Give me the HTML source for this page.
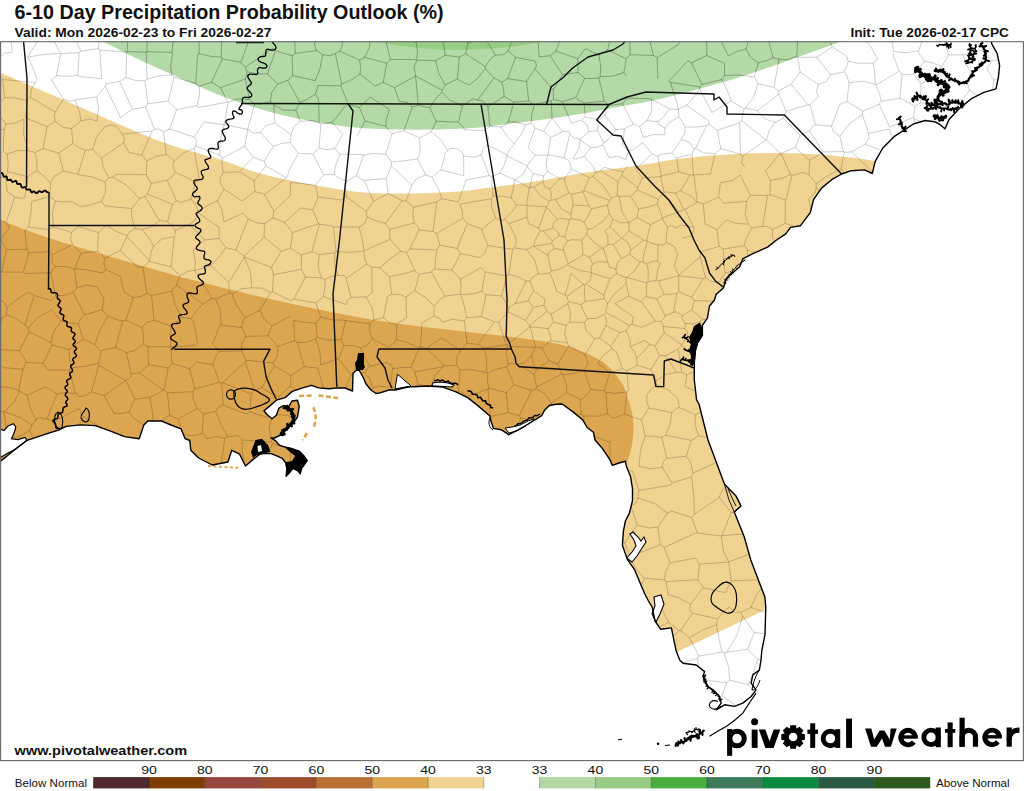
<!DOCTYPE html>
<html><head><meta charset="utf-8"><style>
html,body{margin:0;padding:0;background:#fff;}
body{width:1024px;height:791px;overflow:hidden;position:relative;}
svg{position:absolute;left:0;top:0;}
text{font-family:"Liberation Sans",sans-serif;fill:#111;}
</style></head><body>
<svg width="1024" height="791" viewBox="0 0 1024 791">
<defs><path id="cty" d="M-17.0,36.7 L-9.0,43.7 L-4.9,55.1 M-12.7,24.1 L-14.4,29.8 L-17.0,36.7 M1007.4,29.4 L1023.4,27.5 L1036.2,26.2 M-21.9,454.1 L-19.2,457.4 L-17.6,461.6 M-17.6,461.6 L-27.9,488.2 M-21.9,454.1 L-17.7,437.6 M-18.7,436.0 L-17.7,437.6 M-18.7,436.0 L-16.3,432.7 L-17.9,424.4 M-20.4,510.6 L-18.6,496.0 M-27.9,488.2 L-21.3,492.0 L-18.6,496.0 M51.4,785.1 L28.6,779.4 M11.5,732.6 L12.7,709.7 M11.5,732.6 L16.2,732.3 L25.7,735.7 M25.7,735.7 L32.9,728.6 L40.2,722.8 M40.2,722.8 L20.0,707.2 M20.0,707.2 L12.7,709.7 M-18.5,711.2 L-6.9,709.5 L3.5,705.0 M-18.5,711.2 L-18.5,711.2 M3.5,705.0 L12.7,709.7 M-18.5,711.2 L-19.8,723.9 M8.6,735.6 L-4.9,730.7 L-19.8,723.9 M8.6,735.6 L11.5,732.6 M-18.5,711.2 L-20.1,696.2 L-26.2,682.4 M1.7,688.0 L3.5,705.0 M1.7,688.0 L-18.3,676.7 M-26.2,682.4 L-18.3,676.7 M-23.6,730.1 L-19.8,723.9 M-11.4,588.1 L-13.2,598.6 L-13.4,613.9 M-16.0,615.6 L-13.4,613.9 M-10.6,556.9 L-24.9,582.6 M-10.6,556.9 L-16.2,545.0 M-16.2,545.0 L-17.6,545.1 M1031.3,107.3 L1059.4,102.1 M1031.3,107.3 L1031.7,116.2 L1031.3,122.3 M1059.4,102.1 L1053.0,128.9 M1053.0,128.9 L1040.9,125.4 L1031.3,122.3 M1036.2,26.2 L1040.1,32.7 M38.2,27.0 L12.8,32.8 M9.9,27.2 L12.8,32.8 M-12.7,24.1 L9.9,27.2 M-17.0,253.7 L-11.7,242.3 M-23.6,224.3 L-18.6,231.6 L-11.7,242.3 M-26.7,134.7 L-24.6,129.4 M-23.2,109.2 L-24.6,129.4 M-23.6,224.3 L-11.5,214.2 M-11.5,214.2 L-10.2,209.0 L-11.5,201.3 M-11.5,201.3 L-13.5,199.6 M-4.9,55.1 L-4.4,55.5 M12.8,32.8 L11.2,40.4 L12.2,52.2 M12.2,52.2 L4.4,53.2 L0.1,57.3 M-4.4,55.5 L0.1,57.3 M104.2,395.6 L114.3,413.6 M104.2,395.6 L125.6,380.5 M114.3,413.6 L119.4,413.7 L129.3,412.1 M129.3,412.1 L132.2,404.4 L135.0,399.2 M135.0,399.2 L125.9,380.5 M125.9,380.5 L125.6,380.5 M139.5,372.9 L163.2,390.1 M139.5,372.9 L131.1,373.9 M163.2,390.1 L158.5,393.1 L149.9,397.5 M149.9,397.5 L135.0,399.2 M125.9,380.5 L130.5,377.2 L131.1,373.9 M91.4,391.8 L104.2,395.6 M91.4,391.8 L98.8,365.3 M125.6,380.5 L98.8,365.3 M-17.7,437.6 L6.7,439.2 M-0.5,469.1 L9.7,454.7 M6.7,439.2 L9.7,454.7 M-17.9,424.4 L-12.4,410.2 M-12.4,410.2 L-20.1,391.6 M1.7,688.0 L12.4,677.0 M20.0,707.2 L27.6,697.7 M12.4,677.0 L30.2,679.9 M27.6,697.7 L30.2,679.9 M-23.6,730.1 L-22.8,746.3 M51.4,785.1 L59.5,769.6 M51.1,753.2 L43.8,754.0 M28.6,779.4 L25.8,772.3 M25.8,772.3 L43.8,754.0 M56.7,737.8 L43.3,722.9 M43.3,722.9 L40.2,722.8 M25.7,735.7 L28.5,743.0 L33.0,747.9 M43.8,754.0 L33.0,747.9 M2.3,770.7 L-16.2,780.2 M-21.3,748.0 L-25.5,773.4 M-21.3,748.0 L3.1,753.0 M6.7,764.4 L5.8,758.4 M-16.2,780.2 L-25.5,773.4 M3.1,753.0 L5.8,758.4 M25.8,772.3 L18.6,770.6 L6.7,764.4 M-22.8,746.3 L-21.3,748.0 M8.6,735.6 L6.4,741.8 L3.1,753.0 M33.0,747.9 L5.8,758.4 M-10.6,556.9 L1.3,564.4 M-11.4,588.1 L3.4,584.8 M1.3,564.4 L-0.0,575.3 L3.4,584.8 M6.4,618.1 L-4.1,618.1 L-13.4,613.9 M6.4,618.1 L10.2,613.5 M10.2,613.5 L9.1,587.1 M3.4,584.8 L9.1,587.1 M-20.4,510.6 L-19.8,511.3 M-16.2,545.0 L-11.7,540.2 M-11.7,540.2 L-17.9,525.1 L-19.8,511.3 M-11.7,540.2 L7.5,534.7 M-19.8,511.3 L-4.1,513.6 L9.7,520.5 M7.5,534.7 L9.7,520.5 M128.9,533.8 L124.1,530.4 M128.9,533.8 L134.8,531.2 L144.0,532.0 M123.4,511.7 L124.1,530.4 M123.4,511.7 L129.2,501.8 M144.0,532.0 L145.0,523.8 L146.8,512.2 M129.2,501.8 L146.8,512.2 M54.1,480.2 L54.3,477.9 M54.1,480.2 L37.5,480.1 L25.5,481.4 M25.5,481.4 L25.2,461.7 M28.5,459.1 L51.9,467.8 M51.9,467.8 L54.3,477.9 M36.0,443.7 L28.5,459.1 M36.0,443.7 L53.2,450.9 M51.9,467.8 L52.7,461.8 L53.2,450.9 M-11.3,657.2 L-16.3,654.0 M-11.3,657.2 L-7.7,655.5 L-3.4,654.7 M-16.3,654.0 L-26.9,629.3 M-3.4,654.7 L-2.1,646.8 L0.6,639.1 M0.6,639.1 L-20.9,624.4 M-20.9,624.4 L-26.9,629.3 M-18.3,676.7 L-11.3,657.2 M2.3,657.3 L12.4,677.0 M2.3,657.3 L-3.4,654.7 M7.9,629.5 L6.4,618.1 M7.9,629.5 L0.6,639.1 M-16.0,615.6 L-17.3,617.9 L-20.9,624.4 M7.9,629.5 L17.2,634.9 L27.1,637.3 M2.3,657.3 L23.5,652.7 M31.6,678.7 L30.2,679.9 M31.6,678.7 L31.7,671.9 L32.5,662.3 M23.5,652.7 L26.2,656.7 L32.5,662.3 M929.7,170.2 L935.4,157.6 M929.7,170.2 L932.7,179.0 M935.4,157.6 L950.9,156.6 M950.9,156.6 L961.9,174.8 M932.7,179.0 L959.3,187.1 M961.9,174.8 L959.3,187.1 M1056.7,133.3 L1057.4,144.4 L1053.2,152.8 M1056.7,133.3 L1053.0,128.9 M1029.9,123.4 L1029.3,135.6 L1023.9,151.7 M1053.2,152.8 L1023.9,151.7 M848.2,61.5 L858.5,63.2 L873.2,63.2 M848.2,61.5 L846.7,66.6 L844.1,71.9 M844.1,71.9 L846.9,75.8 L849.0,82.6 M849.0,82.6 L862.9,81.2 L875.3,84.3 M873.2,63.2 L874.8,74.3 L875.3,84.3 M1031.3,107.3 L1028.6,101.8 M1003.2,123.2 L1029.9,123.4 M1003.2,123.2 L1000.0,102.8 M1028.6,101.8 L1015.0,94.0 M1000.0,102.8 L1015.0,94.0 M1007.4,29.4 L1007.2,29.6 M1040.1,32.7 L1033.9,53.6 M1033.9,53.6 L1010.3,52.4 M1007.2,29.6 L1008.3,42.7 L1010.3,52.4 M928.2,147.5 L935.4,157.6 M928.2,147.5 L937.8,131.2 M950.9,156.6 L955.2,150.7 L959.0,144.6 M959.0,144.6 L960.0,135.5 L956.9,130.9 M937.8,131.2 L956.9,130.9 M984.1,99.9 L975.3,94.0 L969.6,90.4 M984.1,99.9 L980.4,113.1 L974.5,122.7 M969.6,90.4 L954.3,109.6 M954.3,109.6 L960.6,124.3 M974.5,122.7 L968.6,124.8 L960.6,124.3 M1007.2,29.6 L987.3,28.8 M1029.7,73.1 L1044.6,83.3 M1029.7,73.1 L1034.0,53.7 M1033.9,53.6 L1034.0,53.7 M1028.6,101.8 L1044.6,83.3 M536.6,387.1 L561.8,374.2 M536.6,387.1 L534.1,374.5 M561.8,374.2 L559.1,367.3 L557.8,364.3 M557.8,364.3 L549.1,360.6 M549.1,360.6 L536.3,369.9 M534.1,374.5 L536.3,369.9 M128.9,533.8 L126.2,560.8 M153.1,536.9 L144.0,532.0 M153.1,536.9 L146.6,561.1 M146.6,561.1 L126.2,560.8 M212.9,343.5 L219.5,326.1 M197.7,342.5 L193.6,321.7 M723.3,249.1 L744.5,245.6 M723.3,249.1 L724.9,272.6 M744.5,245.6 L747.7,250.1 M724.9,272.6 L747.3,270.8 M747.7,250.1 L747.3,270.8 M816.1,411.7 L808.2,414.5 L798.5,415.9 M816.1,411.7 L829.0,421.8 M798.5,415.9 L817.4,443.6 M829.0,421.8 L826.5,432.0 L825.3,440.0 M817.4,443.6 L821.6,444.3 L825.3,440.0 M805.4,564.1 L802.1,551.9 L802.3,542.9 M805.4,564.1 L783.6,560.8 M802.3,542.9 L793.9,537.6 L783.5,536.0 M783.5,536.0 L783.6,560.8 M672.0,412.7 L648.9,407.9 M672.0,412.7 L669.6,426.1 L665.6,435.2 M645.3,436.0 L654.4,436.4 L661.9,437.5 M645.3,436.0 L641.4,419.8 M641.4,419.8 L648.9,407.9 M665.6,435.2 L661.9,437.5 M605.9,392.3 L607.5,413.4 M605.9,392.3 L615.2,393.3 L627.0,391.9 M627.0,391.9 L624.3,414.1 M624.3,414.1 L613.4,418.3 M613.4,418.3 L607.5,413.4 M645.3,436.0 L645.2,436.1 M641.4,419.8 L624.3,414.1 M583.7,416.0 L598.0,416.2 L607.5,413.4 M583.7,416.0 L584.4,424.0 L587.2,433.7 M611.3,440.2 L609.7,442.2 M587.2,433.7 L609.7,442.2 M562.9,374.9 L566.8,385.2 L566.6,392.7 M562.9,374.9 L573.0,373.4 L584.2,370.6 M566.6,392.7 L581.0,399.7 M581.0,399.7 L586.5,395.5 L590.8,389.4 M584.2,370.6 L590.8,389.4 M583.7,416.0 L581.5,414.0 M605.9,392.3 L604.3,390.8 M581.5,414.0 L580.0,405.2 L581.0,399.7 M604.3,390.8 L590.8,389.4 M488.6,387.9 L487.4,379.6 L487.9,373.5 M488.6,387.9 L506.4,392.8 M506.3,366.9 L495.3,369.4 L487.9,373.5 M506.3,366.9 L510.3,375.7 L514.1,384.7 M514.1,384.7 L506.4,392.8 M1056.6,751.6 L1051.9,761.0 L1044.6,775.3 M1048.4,778.8 L1044.6,775.3 M1052.5,734.1 L1049.3,741.4 M1049.3,741.4 L1056.6,751.6 M1053.7,660.0 L1052.3,657.7 M1052.3,657.7 L1062.8,635.4 M837.8,567.2 L852.7,560.1 M837.8,567.2 L839.1,584.0 M852.7,560.1 L860.7,584.5 M839.1,584.0 L860.7,584.5 M97.4,251.5 L100.1,253.0 L105.2,258.0 M97.4,251.5 L87.3,252.5 L80.9,253.2 M80.9,253.2 L74.9,268.7 M74.9,268.7 L87.0,269.8 L102.7,273.0 M105.2,258.0 L103.7,263.1 L105.7,269.4 M105.7,269.4 L102.7,273.0 M-11.5,214.2 L6.1,222.4 M-11.7,242.3 L0.8,239.2 M0.8,239.2 L9.3,227.5 M6.1,222.4 L9.3,227.5 M6.1,222.4 L14.8,197.0 M7.5,192.0 L14.8,197.0 M3.4,151.5 L6.8,154.0 M6.8,154.0 L8.2,161.8 L7.6,171.5 M7.6,171.5 L5.2,177.4 M5.2,177.4 L-4.2,177.5 L-15.3,178.6 M-21.7,155.2 L-20.0,175.1 M-21.7,155.2 L-19.4,152.4 M-26.7,134.7 L-19.4,152.4 M-24.6,129.4 L4.2,129.5 M4.2,129.5 L3.5,139.5 L3.4,151.5 M27.8,176.7 L24.8,197.8 M27.8,176.7 L7.6,171.5 M7.5,192.0 L5.2,177.4 M14.8,197.0 L20.8,198.3 L24.8,197.8 M-13.5,199.6 L-15.3,178.6 M27.9,150.6 L35.1,152.5 M27.9,150.6 L17.8,150.5 L6.8,154.0 M27.8,176.7 L37.0,170.7 M35.1,152.5 L36.8,161.8 L37.0,170.7 M49.9,196.5 L31.7,201.5 M49.9,196.5 L50.5,182.8 M37.0,170.7 L42.4,175.1 L50.5,182.8 M72.3,201.6 L80.2,206.5 M80.2,206.5 L88.9,205.6 L101.5,201.3 M101.5,201.3 L105.7,192.3 L105.1,181.9 M105.1,181.9 L91.0,176.7 L78.3,174.8 M-29.5,80.8 L-22.8,87.6 M0.1,57.3 L0.0,76.4 M0.0,76.4 L-10.8,81.7 L-22.8,87.6 M-23.2,109.2 L-20.1,106.4 M-20.1,106.4 L-22.8,87.6 M-29.3,366.8 L-18.0,384.0 M-20.1,391.6 L-17.6,387.1 M-18.0,384.0 L-17.6,387.1 M6.7,439.2 L7.0,438.9 M-12.4,410.2 L4.1,411.9 M4.1,411.9 L7.0,438.9 M9.7,454.7 L25.2,461.7 M36.0,443.7 L29.5,430.9 M29.5,430.9 L19.6,436.4 L7.0,438.9 M59.5,769.6 L81.8,773.3 M87.0,778.3 L81.8,773.3 M53.6,748.8 L84.0,753.4 M81.8,773.3 L84.2,762.5 L84.0,753.4 M72.4,712.1 L78.1,706.8 M72.4,712.1 L51.8,705.2 M78.1,706.8 L75.8,682.9 M51.8,705.2 L51.6,704.6 M51.6,704.6 L56.2,682.0 M74.1,681.4 L64.9,682.4 L57.4,681.3 M57.4,681.3 L56.2,682.0 M56.7,737.8 L63.2,733.7 L70.5,730.0 M43.3,722.9 L51.8,705.2 M70.5,730.0 L72.4,712.1 M27.6,697.7 L51.6,704.6 M31.6,678.7 L56.2,682.0 M53.3,651.5 L32.5,662.3 M53.3,651.5 L57.4,681.3 M78.1,706.8 L97.5,710.2 M102.8,682.2 L97.5,710.2 M28.4,541.8 L21.7,539.2 L12.0,539.2 M28.4,541.8 L30.0,547.8 L35.3,556.6 M35.3,556.6 L26.7,565.8 M26.7,565.8 L10.7,556.9 M10.7,556.9 L12.0,539.2 M1.3,564.4 L10.7,556.9 M24.2,583.6 L18.3,583.3 L9.1,587.1 M24.2,583.6 L26.6,576.7 L26.7,565.8 M7.5,534.7 L12.0,539.2 M9.9,520.2 L4.2,488.3 M20.3,485.9 L5.2,487.2 M32.4,509.1 L28.4,514.4 M4.2,488.3 L5.2,487.2 M35.8,533.5 L28.4,514.4 M35.8,533.5 L32.5,539.4 L28.4,541.8 M9.7,520.5 L9.9,520.2 M-18.6,496.0 L4.2,488.3 M-0.5,469.1 L5.2,487.2 M25.5,481.4 L20.3,485.9 M54.1,480.2 L56.9,484.5 M56.9,484.5 L51.6,495.7 L47.9,507.5 M47.9,507.5 L32.4,509.1 M54.4,531.7 L35.8,533.5 M54.4,531.7 L55.7,518.4 M47.9,507.5 L52.3,514.0 L55.7,518.4 M129.3,412.1 L133.7,418.2 M149.9,397.5 L152.4,411.6 L153.5,425.7 M150.6,429.2 L153.5,425.7 M150.6,429.2 L150.3,429.2 M150.3,429.2 L133.7,418.2 M129.2,501.8 L128.8,494.6 M156.9,486.2 L145.6,489.6 L133.1,489.3 M156.9,486.2 L152.4,509.1 M152.4,509.1 L146.8,512.2 M128.8,494.6 L133.1,489.3 M75.1,609.2 L83.8,584.0 M81.3,618.9 L88.6,618.2 L94.6,613.0 M96.6,587.5 L94.6,613.0 M96.6,587.5 L95.8,586.8 M83.8,584.0 L95.8,586.8 M80.6,491.1 L81.0,511.2 M80.6,491.1 L86.4,488.5 L87.7,486.1 M105.7,509.4 L99.0,516.3 M105.7,509.4 L103.5,487.9 M99.0,516.3 L84.6,515.9 M81.0,511.2 L84.6,515.9 M87.7,486.1 L100.7,485.4 M103.5,487.9 L100.7,485.4 M56.9,484.5 L80.6,491.1 M55.7,518.4 L81.0,511.2 M54.3,477.9 L67.5,468.5 L80.3,456.8 M80.3,456.8 L83.6,460.6 L83.8,464.1 M83.8,464.1 L87.7,486.1 M124.1,530.4 L110.9,532.3 M110.9,532.3 L99.0,516.3 M128.8,494.6 L103.5,487.9 M54.4,531.7 L58.4,537.5 L61.2,542.0 M61.2,542.0 L82.1,539.0 M82.1,539.0 L84.6,515.9 M53.3,651.5 L53.6,651.0 M74.1,681.4 L77.5,663.7 M53.6,651.0 L77.5,663.7 M98.9,653.0 L95.2,651.5 L86.6,653.5 M98.9,653.0 L98.9,652.9 M79.4,622.9 L99.6,639.5 M79.4,622.9 L69.1,633.1 M98.9,652.9 L99.6,639.5 M69.1,633.1 L86.6,653.5 M98.9,653.0 L100.1,666.2 L104.2,681.3 M104.2,681.3 L102.8,682.2 M30.3,635.5 L54.7,640.9 M30.3,635.5 L33.0,613.4 M47.8,610.1 L54.8,621.5 L60.6,634.4 M47.8,610.1 L39.2,608.1 M60.6,634.4 L54.7,640.9 M39.2,608.1 L33.0,613.4 M27.1,637.3 L30.3,635.5 M53.6,651.0 L54.7,640.9 M10.2,613.5 L33.0,613.4 M59.7,601.5 L66.9,607.8 L75.1,609.2 M59.7,601.5 L53.1,605.7 L47.8,610.1 M81.3,618.9 L79.4,622.9 M69.1,633.1 L60.6,634.4 M1045.2,372.1 L1040.5,380.8 L1037.9,388.3 M1054.9,532.5 L1051.1,538.1 M1050.1,558.4 L1051.1,538.1 M977.9,581.0 L959.5,573.2 M977.9,581.0 L990.3,558.0 M959.5,573.2 L958.0,566.5 M958.0,566.5 L985.2,553.3 M990.3,558.0 L985.2,553.3 M581.7,240.2 L572.2,239.7 L567.5,240.8 M581.7,240.2 L583.1,254.5 M567.5,240.8 L563.2,247.5 L563.7,250.3 M583.1,254.5 L577.1,258.7 L568.2,263.8 M568.2,263.8 L563.7,250.3 M792.7,34.5 L797.6,41.1 M797.6,41.1 L811.8,37.1 L823.6,28.4 M796.7,56.3 L797.6,57.4 M796.7,56.3 L797.6,41.1 M826.1,30.1 L832.2,46.8 M826.1,30.1 L823.6,28.4 M832.2,46.8 L817.0,57.2 M817.0,57.2 L797.6,57.4 M846.6,56.1 L832.2,46.8 M846.6,56.1 L848.2,61.5 M844.1,71.9 L830.5,74.8 M817.0,57.2 L830.5,74.8 M602.1,30.2 L584.1,39.3 M575.6,32.4 L584.1,39.3 M514.5,27.8 L531.5,30.7 M575.6,32.4 L563.4,32.8 M686.6,105.2 L708.9,120.9 M686.6,105.2 L693.8,97.0 L699.6,88.8 M699.6,88.8 L711.9,112.4 M879.1,104.0 L889.7,127.1 M879.1,104.0 L873.3,106.9 L862.8,111.2 M862.8,111.2 L862.3,114.5 M862.3,114.5 L868.6,133.4 M889.2,129.0 L868.6,133.4 M726.5,219.9 L735.4,223.3 L748.5,224.2 M723.9,203.1 L746.6,201.3 M748.5,224.2 L745.2,214.6 L746.6,201.3 M723.3,249.1 L719.3,246.3 M744.5,245.6 L746.2,238.4 L752.0,227.9 M752.0,227.9 L748.5,224.2 M717.0,229.7 L717.7,236.0 L719.3,246.3 M717.0,229.7 L726.5,219.9 M717.0,229.7 L705.0,223.7 M705.0,223.7 L703.3,203.9 M718.5,197.3 L703.3,203.9 M718.5,197.3 L723.9,203.1 M752.0,227.9 L762.6,226.5 M750.5,195.5 L746.6,201.3 M750.5,195.5 L758.8,195.3 L767.5,195.7 M762.6,226.5 L767.5,195.7 M928.2,147.5 L913.5,143.6 M929.7,170.2 L919.2,168.0 L911.8,170.6 M913.5,143.6 L899.5,151.5 M911.8,170.6 L899.5,151.5 M889.2,129.0 L896.5,151.3 M865.2,144.2 L868.9,138.3 L868.6,133.4 M865.2,144.2 L891.0,154.4 M891.0,154.4 L896.5,151.3 M798.5,415.9 L796.2,415.7 M796.2,415.7 L795.6,391.7 M795.6,391.7 L802.6,389.7 L804.9,386.3 M804.9,386.3 L820.0,395.2 M1045.2,372.1 L1044.5,370.3 M1044.5,370.3 L1059.8,351.0 M961.9,174.8 L979.3,165.3 M959.3,187.1 L961.1,192.9 M961.1,192.9 L972.5,194.4 L980.2,192.4 M980.2,192.4 L992.9,179.1 M979.3,165.3 L992.9,179.1 M1009.3,186.0 L1009.5,201.2 M1009.3,186.0 L1003.6,184.0 L1001.1,179.0 M1009.5,201.2 L999.6,203.7 L989.5,203.1 M980.2,192.4 L989.5,203.1 M1001.1,179.0 L995.6,177.4 L992.9,179.1 M904.7,267.5 L907.2,252.7 M904.7,267.5 L913.2,275.8 M907.2,252.7 L931.6,256.1 M913.2,275.8 L932.9,275.1 M931.6,256.1 L935.9,269.4 M935.9,269.4 L932.9,275.1 M954.3,268.5 L961.4,258.0 L966.1,250.4 M954.3,268.5 L946.3,269.3 L935.9,269.4 M966.1,250.4 L951.0,243.7 L938.5,239.9 M938.5,239.9 L936.8,249.3 L931.6,256.1 M905.9,250.6 L907.2,252.7 M905.9,250.6 L896.4,252.6 L884.4,252.0 M904.7,267.5 L887.6,275.7 M884.4,252.0 L884.8,265.8 L887.6,275.7 M905.9,250.6 L905.9,236.8 L907.2,227.4 M907.2,227.4 L903.1,226.3 L895.1,226.7 M884.4,252.0 L883.5,251.4 M895.1,226.7 L887.4,230.1 M1054.1,154.5 L1049.4,174.0 M1053.2,152.8 L1054.1,154.5 M1052.0,206.2 L1051.8,212.1 L1054.2,216.6 M1048.1,175.3 L1039.3,174.1 L1027.2,174.6 M1048.1,175.3 L1050.1,187.5 L1047.3,202.5 M1047.3,202.5 L1039.7,201.9 M1039.7,201.9 L1024.2,178.8 M1024.2,178.8 L1027.2,174.6 M1022.9,152.4 L1023.9,151.7 M1022.9,152.4 L1027.2,174.6 M1049.4,174.0 L1048.1,175.3 M1052.0,206.2 L1047.3,202.5 M1009.3,186.0 L1024.2,178.8 M1009.5,201.2 L1010.4,202.6 M1025.2,207.0 L1020.0,204.0 L1010.4,202.6 M1022.9,152.4 L1006.7,151.7 M1006.7,151.7 L1006.2,164.1 L1001.1,179.0 M1015.0,94.0 L1016.8,85.4 L1015.3,80.5 M1029.7,73.1 L1015.6,79.8 M1015.6,79.8 L1015.3,80.5 M1010.3,52.4 L1004.7,59.3 M1015.6,79.8 L1004.7,59.3 M1000.0,102.8 L994.5,101.9 L991.8,99.6 M991.8,99.6 L992.8,88.4 L993.6,80.0 M1015.3,80.5 L1005.2,79.1 L993.6,80.0 M967.7,84.0 L969.6,90.4 M967.7,84.0 L972.9,75.9 M991.8,99.6 L984.1,99.9 M993.6,80.0 L986.8,68.4 M1004.7,59.3 L991.0,61.0 M986.8,68.4 L990.4,63.8 L991.0,61.0 M937.8,131.2 L936.6,129.5 M956.9,130.9 L960.6,124.3 M954.3,109.6 L937.8,103.8 M936.6,129.5 L937.8,103.8 M913.5,143.6 L915.5,129.7 L914.4,119.2 M936.6,129.5 L923.9,122.1 L914.4,119.2 M889.7,127.1 L913.7,117.3 M899.5,151.5 L896.5,151.3 M914.4,119.2 L913.7,117.3 M888.6,31.4 L891.0,35.3 M891.0,35.3 L906.0,33.0 L917.5,29.2 M855.6,41.1 L849.1,34.1 L840.1,26.7 M855.6,41.1 L861.9,36.6 M861.9,36.6 L871.2,23.0 M826.1,30.1 L840.1,26.7 M873.2,63.2 L877.7,59.4 M877.7,59.4 L870.8,46.6 L861.9,36.6 M893.5,51.5 L891.0,35.3 M888.6,31.4 L871.2,23.0 M893.5,51.5 L905.7,52.8 L918.5,50.9 M917.5,29.2 L925.1,38.2 M918.5,50.9 L921.5,43.1 L925.1,38.2 M99.8,32.6 L76.1,18.8 M70.1,26.8 L76.1,18.8 M70.1,26.8 L80.8,51.3 M99.8,32.6 L98.5,48.5 M80.8,51.3 L98.5,48.5 M884.3,444.7 L881.3,453.9 L877.7,466.6 M884.3,444.7 L859.7,438.1 M860.2,455.0 L871.6,467.6 M860.2,455.0 L857.3,442.8 M871.6,467.6 L876.8,467.1 M857.3,442.8 L859.7,438.1 M876.8,467.1 L877.7,466.6 M840.6,485.0 L839.9,468.9 M840.6,485.0 L846.2,486.8 M839.9,468.9 L851.0,462.1 L860.2,455.0 M846.2,486.8 L863.4,480.2 M863.4,480.2 L867.5,473.4 L871.6,467.6 M839.9,468.9 L836.6,464.5 M835.0,445.5 L836.6,464.5 M835.0,445.5 L857.3,442.8 M805.4,564.1 L808.4,567.1 M808.4,567.1 L825.2,560.5 M802.3,542.9 L808.6,536.5 L813.8,533.4 M825.2,560.5 L828.1,550.7 L828.5,538.3 M813.8,533.4 L828.5,538.3 M147.8,103.8 L145.7,107.1 M147.8,103.8 L168.4,101.0 M145.7,107.1 L154.6,129.3 M168.4,101.0 L176.5,109.7 M176.5,109.7 L169.6,129.0 M154.6,129.3 L159.1,129.0 L163.5,131.8 M169.6,129.0 L163.5,131.8 M132.4,109.1 L145.7,107.1 M132.4,109.1 L119.6,81.4 M145.0,80.7 L136.0,80.6 L125.9,77.7 M145.0,80.7 L147.8,103.8 M119.6,81.4 L125.9,77.7 M166.2,154.5 L156.5,156.3 L146.9,160.8 M166.2,154.5 L163.5,131.8 M154.6,129.3 L152.1,130.9 M152.1,130.9 L141.7,155.4 M146.9,160.8 L141.7,155.4 M286.3,177.7 L273.9,187.4 L264.5,194.4 M286.3,177.7 L265.8,165.9 M254.9,191.5 L264.5,194.4 M254.9,191.5 L254.1,180.6 M254.1,180.6 L265.8,165.9 M255.2,32.0 L251.2,34.4 M251.2,34.4 L222.4,31.0 M255.2,32.0 L264.5,34.3 M245.2,67.3 L272.9,48.3 M245.2,67.3 L240.8,62.3 M240.8,62.3 L251.2,34.4 M264.5,34.3 L268.4,38.2 M541.9,348.1 L549.1,360.6 M541.9,348.1 L548.4,342.6 L551.3,340.7 M557.8,364.3 L568.7,346.1 M568.7,346.1 L567.4,343.0 M567.4,343.0 L567.2,342.7 M551.3,340.7 L567.2,342.7 M506.3,344.8 L498.8,322.0 M506.3,344.8 L483.9,348.1 M483.9,348.1 L477.8,344.3 M477.8,344.3 L494.6,321.8 M494.6,321.8 L498.8,322.0 M460.0,369.8 L471.8,369.8 L486.7,372.8 M460.0,369.8 L456.5,365.3 M486.7,372.8 L486.5,358.3 L483.9,348.1 M456.5,365.3 L457.1,356.0 L460.5,350.7 M467.0,343.3 L460.5,350.7 M467.0,343.3 L477.8,344.3 M464.4,321.0 L467.0,343.3 M464.4,321.0 L466.7,317.8 M481.3,316.6 L466.7,317.8 M481.3,316.6 L494.6,321.8 M534.1,374.5 L524.3,368.0 L517.2,364.6 M536.3,369.9 L532.9,362.2 L531.7,355.1 M517.2,364.6 L525.0,362.3 L531.7,355.1 M456.5,365.3 L444.5,365.7 M460.5,350.7 L441.8,337.8 M444.5,365.7 L426.5,348.1 M426.5,348.1 L441.8,337.8 M464.4,321.0 L452.5,319.2 L442.6,322.3 M538.8,580.0 L550.8,583.1 M538.8,580.0 L530.6,605.9 M556.2,607.3 L555.6,596.8 L553.5,586.0 M556.2,607.3 L539.6,612.2 M550.8,583.1 L553.5,586.0 M539.6,612.2 L530.6,605.9 M533.6,573.8 L538.8,580.0 M533.6,573.8 L546.9,559.5 L557.9,549.3 M557.9,549.3 L569.1,558.7 M569.1,558.7 L550.8,583.1 M571.7,559.4 L577.7,569.2 L582.5,580.2 M571.7,559.4 L569.1,558.7 M553.5,586.0 L579.8,586.2 M582.5,580.2 L579.8,586.2 M560.2,609.1 L556.2,607.3 M502.9,560.2 L514.5,554.2 M502.9,560.2 L506.5,582.8 M514.5,554.2 L520.1,555.8 L526.5,560.5 M506.5,582.8 L507.2,583.5 M531.8,573.0 L526.5,560.5 M491.3,554.8 L485.5,546.7 M491.3,554.8 L495.6,556.1 L502.9,560.2 M485.7,545.1 L485.5,546.7 M485.7,545.1 L499.6,536.1 L512.7,531.7 M512.7,531.7 L513.6,532.3 M483.4,579.8 L491.3,554.8 M483.4,579.8 L484.0,580.4 M484.0,580.4 L506.5,582.8 M538.4,539.3 L526.5,532.0 M526.5,532.0 L513.6,532.3 M484.0,580.4 L481.1,592.7 L480.6,604.1 M509.1,607.9 L509.3,607.7 M509.3,607.7 L508.4,595.7 L507.2,583.5 M533.6,573.8 L531.8,573.0 M509.3,607.7 L519.1,609.0 L530.6,605.9 M553.5,539.0 L538.4,539.3 M553.5,539.0 L557.9,549.3 M602.1,636.1 L603.0,634.0 M602.1,636.1 L583.2,640.0 M583.2,640.0 L580.0,637.3 M580.0,637.3 L582.8,623.1 L581.7,607.3 M597.6,608.1 L581.7,607.3 M597.6,608.1 L599.1,608.8 M599.1,608.8 L603.0,634.0 M219.8,642.9 L220.3,647.8 L218.9,651.9 M219.8,642.9 L229.4,632.7 M256.5,653.2 L246.9,632.6 M256.5,653.2 L249.2,660.6 M246.9,632.6 L244.9,630.1 M229.4,632.7 L244.9,630.1 M218.9,651.9 L249.2,660.6 M485.7,545.1 L485.7,545.0 M512.7,531.7 L511.1,524.2 L506.0,515.0 M506.0,515.0 L489.2,511.9 M485.7,545.0 L485.4,529.8 L489.2,511.9 M490.3,490.2 L508.2,485.5 M490.3,490.2 L487.5,500.3 L487.6,510.8 M508.2,485.5 L510.8,494.5 L511.6,508.2 M506.0,515.0 L510.3,513.8 L511.6,508.2 M487.6,510.8 L489.2,511.9 M485.7,545.0 L459.9,521.5 M487.6,510.8 L475.4,510.4 L465.4,512.1 M488.6,387.9 L488.0,389.0 M488.0,389.0 L478.5,392.8 L466.0,396.3 M460.0,369.8 L458.5,390.6 M487.9,373.5 L486.7,372.8 M466.0,396.3 L464.5,394.0 L458.5,390.6 M490.4,415.4 L488.0,389.0 M490.4,415.4 L471.8,412.7 M466.0,396.3 L470.1,402.6 L471.8,412.7 M443.4,366.6 L444.5,365.7 M443.4,366.6 L435.0,375.4 L431.4,387.8 M458.5,390.6 L440.5,401.7 M431.4,387.8 L440.5,401.7 M150.1,461.2 L136.7,463.3 L128.0,464.5 M150.1,461.2 L150.7,461.5 M156.9,486.2 L157.5,485.8 M150.7,461.5 L157.5,485.8 M155.2,569.5 L156.4,573.6 M155.2,569.5 L164.7,559.1 L173.1,549.6 M173.1,549.6 L177.1,554.1 L182.2,560.9 M182.2,560.9 L175.8,570.6 L167.7,577.8 M156.4,573.6 L162.8,574.4 L167.7,577.8 M313.6,780.1 L291.7,779.8 M313.6,780.1 L314.7,777.9 M343.5,774.2 L314.7,777.9 M371.1,779.2 L345.2,771.3 M343.5,774.2 L345.2,771.3 M459.6,656.3 L456.8,670.1 L456.2,685.0 M459.6,656.3 L436.6,653.5 M436.6,653.5 L432.4,655.4 M432.4,655.4 L432.4,667.6 L434.9,676.9 M456.2,685.0 L447.2,685.2 L442.1,684.1 M434.9,676.9 L440.6,681.2 L442.1,684.1 M461.1,698.8 L460.0,692.8 L457.7,686.8 M461.1,698.8 L429.3,706.8 M457.7,686.8 L456.2,685.0 M429.3,706.8 L426.7,705.4 M442.1,684.1 L434.2,695.3 L426.7,705.4 M271.3,731.4 L274.0,727.7 M271.3,731.4 L259.6,727.2 L245.9,721.1 M247.8,711.5 L245.9,721.1 M247.8,711.5 L260.0,704.7 L269.5,698.3 M269.5,698.3 L270.7,712.0 L274.0,727.7 M365.0,750.3 L362.4,731.1 M365.0,750.3 L347.8,754.9 M362.4,731.1 L352.6,727.8 L339.8,725.1 M347.8,754.9 L336.8,730.7 M339.8,725.1 L336.8,730.7 M269.7,697.9 L269.5,698.3 M269.7,697.9 L278.7,698.0 L287.9,699.6 M274.0,727.7 L290.9,723.8 M290.9,723.8 L292.5,703.8 M287.9,699.6 L292.5,703.8 M175.5,230.4 L188.8,224.5 M175.5,230.4 L175.0,235.5 M188.8,224.5 L197.6,232.6 L204.5,240.0 M193.0,250.5 L204.5,240.0 M198.0,212.7 L219.2,227.6 M198.0,212.7 L194.5,220.8 L188.8,224.5 M219.0,238.5 L219.2,227.6 M219.0,238.5 L204.5,240.0 M154.1,320.3 L171.0,326.0 M154.1,320.3 L151.6,295.6 M171.0,326.0 L181.8,317.5 M181.8,317.5 L175.0,304.8 L172.0,291.0 M151.6,295.6 L172.0,291.0 M139.5,372.9 L148.7,364.5 M163.2,390.1 L163.9,390.0 M163.9,390.0 L168.2,368.1 M168.2,368.1 L148.7,364.5 M248.3,218.8 L256.2,222.8 L264.4,223.5 M248.3,218.8 L235.9,250.1 M264.2,237.1 L264.4,223.5 M264.2,237.1 L244.1,256.1 M235.9,250.1 L244.1,256.1 M248.3,218.8 L242.7,213.2 M219.0,238.5 L225.6,247.5 M242.7,213.2 L224.1,221.9 M235.9,250.1 L225.6,247.5 M254.9,191.5 L242.0,201.0 M264.5,194.4 L273.7,211.2 M264.4,223.5 L273.1,217.8 M273.7,211.2 L273.1,217.8 M286.3,177.7 L286.7,177.7 M290.5,182.2 L290.3,195.7 M273.7,211.2 L290.3,195.7 M769.6,266.7 L764.7,272.9 L763.9,276.3 M769.6,266.7 L765.4,255.1 M765.4,255.1 L747.7,250.1 M747.3,270.8 L749.7,273.2 M763.9,276.3 L749.7,273.2 M724.9,272.6 L721.3,278.4 L718.9,282.3 M721.2,290.1 L721.5,287.1 L718.9,282.3 M721.2,290.1 L732.2,291.3 L742.1,292.8 M749.7,273.2 L743.7,284.2 L742.1,292.8 M700.0,367.6 L699.0,369.2 M699.0,369.2 L703.7,380.6 L709.5,389.5 M709.5,389.5 L718.1,390.6 L723.6,390.6 M712.5,364.3 L732.4,373.2 M732.4,373.2 L727.6,388.1 M723.6,390.6 L727.6,388.1 M771.4,397.2 L758.7,394.8 M771.4,397.2 L775.0,392.7 L783.2,386.5 M783.2,386.5 L781.5,381.2 L780.2,372.3 M780.2,372.3 L771.2,371.2 L762.8,367.9 M754.9,371.4 L759.6,367.2 L762.8,367.9 M780.1,416.1 L771.4,397.2 M780.1,416.1 L747.1,412.6 M747.1,412.6 L748.1,409.3 L748.2,404.4 M748.2,404.4 L752.9,401.4 L758.7,394.8 M785.2,421.7 L796.2,415.7 M785.2,421.7 L780.1,416.1 M795.6,391.7 L783.2,386.5 M732.4,373.2 L741.4,367.1 M741.4,367.1 L749.4,368.4 L754.9,371.4 M727.6,388.1 L748.2,404.4 M789.9,351.0 L786.5,344.3 L781.6,341.9 M789.9,351.0 L811.5,336.7 M781.6,341.9 L792.0,320.2 M811.5,336.7 L806.7,322.7 M793.2,319.9 L804.4,320.9 M806.7,322.7 L804.4,320.9 M793.1,361.1 L784.9,365.6 L780.2,372.3 M793.1,361.1 L792.9,356.1 L789.9,351.0 M762.8,367.9 L767.2,350.6 M767.2,350.6 L773.4,346.6 L778.3,342.1 M778.3,342.1 L781.6,341.9 M795.6,288.6 L805.2,291.4 L814.5,295.8 M795.6,288.6 L795.9,304.3 L793.2,319.9 M814.5,295.8 L810.8,310.7 L804.4,320.9 M836.0,304.5 L833.7,317.6 M833.7,317.6 L818.6,321.3 L806.7,322.7 M815.6,295.5 L814.5,295.8 M712.5,364.3 L718.1,345.5 M741.4,367.1 L738.8,346.6 M718.1,345.5 L728.5,347.6 L738.8,346.6 M767.2,350.6 L743.8,337.6 M738.8,346.6 L743.8,337.6 M720.1,315.4 L718.3,317.0 M720.1,315.4 L731.9,322.1 L745.5,324.6 M718.1,345.5 L717.6,340.7 L712.1,339.3 M745.5,324.6 L746.1,329.4 L743.8,337.6 M712.1,339.3 L714.3,327.6 L718.3,317.0 M717.7,301.3 L694.2,300.5 M717.7,301.3 L716.6,307.4 L720.1,315.4 M694.2,300.5 L691.8,310.1 M718.3,317.0 L709.0,319.9 L702.5,319.1 M691.8,310.1 L702.5,319.1 M431.0,131.8 L440.6,139.3 L447.6,150.4 M431.0,131.8 L419.6,138.0 M447.6,150.4 L445.5,152.8 M419.6,138.0 L420.2,148.8 L419.4,155.1 M728.7,561.9 L723.4,551.3 L721.4,536.1 M728.7,561.9 L756.2,551.8 M758.8,536.0 L756.2,551.8 M758.8,536.0 L741.3,534.1 L721.8,535.7 M721.8,535.7 L721.4,536.1 M728.6,562.1 L699.5,564.0 M728.6,562.1 L731.4,580.7 M703.2,587.7 L697.9,579.7 M703.2,587.7 L725.2,592.7 M699.5,564.0 L697.9,579.7 M731.4,580.7 L725.2,592.7 M728.7,561.9 L728.6,562.1 M756.2,551.8 L764.5,564.6 M764.5,564.6 L757.4,579.9 M731.4,580.7 L757.4,579.9 M666.8,458.3 L686.3,456.2 M666.8,458.3 L661.9,437.5 M665.6,435.2 L691.3,440.4 M691.3,440.4 L686.3,456.2 M553.5,539.0 L555.2,535.3 M526.5,532.0 L530.2,519.8 L535.4,508.9 M555.2,535.3 L550.5,512.0 M550.5,512.0 L548.6,509.5 M548.6,509.5 L535.4,508.9 M511.6,508.2 L529.9,504.7 M666.8,458.3 L663.2,461.8 L662.3,467.4 M645.2,436.1 L640.5,450.1 L639.0,466.3 M662.3,467.4 L649.2,468.7 L639.0,466.3 M597.6,608.1 L602.3,594.6 L606.7,576.5 M628.3,608.1 L599.1,608.8 M628.3,608.1 L628.5,602.0 M628.5,602.0 L606.7,576.5 M582.5,580.2 L606.3,575.6 M581.7,607.3 L581.5,607.2 M721.4,536.1 L697.9,533.1 M699.5,564.0 L695.3,558.0 M665.9,581.7 L697.9,579.7 M665.9,581.7 L664.6,580.0 M664.6,580.0 L665.6,572.0 L670.0,562.9 M695.3,558.0 L670.0,562.9 M699.0,369.2 L686.7,374.8 M709.5,389.5 L704.1,394.8 M704.1,394.8 L685.0,386.6 M685.0,386.6 L686.7,374.8 M646.9,394.2 L655.9,384.2 M655.9,384.2 L656.3,380.6 M656.3,380.6 L651.0,369.4 M651.0,369.4 L637.3,365.4 M628.5,390.7 L626.9,370.6 M626.9,370.6 L637.3,365.4 M648.9,407.9 L646.7,401.3 L646.9,394.2 M627.0,391.9 L628.5,390.7 M679.3,407.6 L677.7,398.4 M679.3,407.6 L675.9,408.4 L672.0,412.7 M677.7,398.4 L668.9,390.3 L655.9,384.2 M636.8,358.4 L644.9,350.1 L649.5,344.3 M636.8,358.4 L637.3,365.4 M649.5,344.3 L655.1,345.9 M655.1,345.9 L659.5,355.4 M659.5,355.4 L651.0,369.4 M622.5,368.8 L626.9,370.6 M622.5,368.8 L610.0,372.4 M610.0,372.4 L604.3,390.8 M622.5,368.8 L616.4,351.6 M616.4,351.6 L611.7,349.0 M610.0,372.4 L597.7,363.2 M611.7,349.0 L603.6,354.8 L597.7,363.2 M586.2,330.4 L594.5,338.9 M568.7,346.1 L584.9,354.6 M594.5,338.9 L591.3,344.6 L584.9,354.6 M562.9,374.9 L561.8,374.2 M584.2,370.6 L588.2,363.2 M584.9,354.6 L588.2,363.2 M636.8,358.4 L634.7,352.5 L630.4,346.4 M649.5,344.3 L644.9,340.4 M644.9,340.4 L630.4,346.4 M630.3,346.3 L630.4,346.4 M566.6,392.7 L551.3,403.1 M554.7,421.9 L552.8,420.2 M554.7,421.9 L567.2,417.8 L581.5,414.0 M551.3,403.1 L552.8,420.2 M536.6,387.1 L535.9,388.7 M551.3,403.1 L544.9,393.7 L535.9,388.7 M506.3,366.9 L508.3,363.9 M514.1,384.7 L531.8,390.7 M508.3,363.9 L510.7,363.1 L517.2,364.6 M535.9,388.7 L531.8,390.7 M999.2,698.9 L980.6,700.1 M999.2,698.9 L1007.1,724.6 M980.6,700.1 L983.1,723.0 M986.3,726.9 L983.1,723.0 M986.3,726.9 L1006.6,725.0 M1007.1,724.6 L1006.6,725.0 M1004.8,776.0 L1014.8,776.0 L1020.6,777.9 M1020.6,777.9 L1033.3,770.2 M1033.3,770.2 L1031.0,750.1 M1031.0,750.1 L1022.0,747.7 L1009.6,748.8 M1007.2,750.9 L1009.6,748.8 M1003.3,776.8 L1004.8,776.0 M1003.3,776.8 L990.8,776.2 M981.3,747.7 L976.9,751.8 M981.3,747.7 L995.6,747.6 L1007.2,750.9 M990.8,776.2 L983.9,761.9 L976.9,751.8 M1044.6,775.3 L1041.1,772.9 L1033.3,770.2 M1049.3,741.4 L1032.1,748.7 M1032.1,748.7 L1031.0,750.1 M981.3,747.7 L986.3,726.9 M1006.6,725.0 L1009.6,748.8 M1043.8,589.6 L1047.3,597.1 L1046.8,608.4 M1048.3,609.6 L1046.8,608.4 M1062.8,635.4 L1048.6,625.6 M1048.6,625.6 L1048.5,617.5 L1048.3,609.6 M1049.9,558.5 L1050.1,558.4 M1049.9,558.5 L1050.9,583.9 M1028.0,564.5 L1026.6,574.0 L1025.7,586.1 M1028.0,564.5 L1030.9,562.3 M1025.7,586.1 L1043.8,589.6 M1030.9,562.3 L1049.9,558.5 M1022.7,676.5 L1009.9,676.6 M1022.7,676.5 L1029.8,653.7 M1000.5,655.0 L1009.9,676.6 M1000.5,655.0 L1002.5,651.8 M1029.8,653.7 L1002.5,651.8 M1052.3,657.7 L1031.5,652.4 M1048.6,625.6 L1040.6,631.2 L1029.9,634.3 M1031.5,652.4 L1029.9,634.3 M1017.3,721.5 L1023.8,724.5 M1017.3,721.5 L1022.1,700.8 M1023.8,724.5 L1033.7,723.2 L1044.8,718.4 M1028.6,696.2 L1045.2,716.1 M1044.8,718.4 L1045.2,716.1 M1032.1,748.7 L1027.6,736.3 L1023.8,724.5 M1007.1,724.6 L1017.3,721.5 M1002.0,696.8 L999.2,698.9 M1052.5,734.1 L1046.2,726.9 L1044.8,718.4 M1002.0,696.8 L1004.8,680.7 M1022.7,676.5 L1031.4,687.9 M1031.4,687.9 L1028.6,696.2 M1009.9,676.6 L1004.8,680.7 M1051.6,710.5 L1048.9,684.0 M1052.3,681.7 L1048.9,684.0 M1053.7,660.0 L1054.0,668.5 L1052.3,681.7 M1045.2,716.1 L1048.9,712.7 L1051.6,710.5 M1029.8,653.7 L1031.5,652.4 M976.4,696.6 L980.6,700.1 M976.4,696.6 L977.3,677.9 M1004.8,680.7 L981.6,674.2 M977.3,677.9 L981.6,674.2 M1000.5,655.0 L994.0,656.4 L986.2,661.6 M981.6,674.2 L982.6,667.3 L986.2,661.6 M837.8,567.2 L825.2,560.5 M852.7,560.1 L859.2,552.8 M859.2,552.8 L858.7,542.6 M828.5,538.3 L838.7,532.2 M858.7,542.6 L850.6,538.1 L838.7,532.2 M926.9,757.0 L924.9,783.9 M926.9,757.0 L943.4,759.2 L955.5,760.8 M924.9,783.9 L955.1,770.0 M955.5,760.8 L955.1,770.0 M976.4,696.6 L957.9,701.8 M983.1,723.0 L959.6,724.9 M924.1,754.0 L926.9,757.0 M924.1,754.0 L926.2,743.0 L925.0,730.8 M925.0,730.8 L930.2,727.3 M960.6,753.4 L955.5,760.8 M960.6,753.4 L958.8,741.5 L952.2,734.5 M930.2,727.3 L943.2,730.3 L952.2,734.5 M960.6,753.4 L976.9,751.8 M952.2,734.5 L957.3,728.3 L959.6,724.9 M904.0,779.9 L900.6,774.1 M900.6,774.1 L890.6,772.8 L876.8,774.4 M924.2,785.1 L924.9,783.9 M924.2,785.1 L904.0,779.9 M902.9,759.9 L902.4,766.0 L900.6,774.1 M826.6,780.0 L829.5,773.8 L835.6,768.4 M846.2,773.8 L839.4,773.0 L835.6,768.4 M120.6,276.7 L105.7,269.4 M105.2,258.0 L120.0,250.6 M120.0,250.6 L137.7,267.0 M98.4,232.6 L106.1,225.3 M98.4,232.6 L97.4,251.5 M120.0,250.6 L124.2,242.4 L126.8,236.6 M126.8,236.6 L127.0,235.3 M127.0,235.3 L118.1,232.3 L106.1,225.3 M98.4,232.6 L78.0,226.4 M101.5,201.3 L105.2,206.0 M31.7,201.5 L30.9,212.8 L28.5,227.0 M28.5,227.0 L24.8,229.9 M6.5,249.8 L26.9,249.2 M6.5,249.8 L4.3,246.1 L0.8,239.2 M24.8,229.9 L26.9,249.2 M116.0,126.3 L111.9,124.8 L105.0,126.7 M116.0,126.3 L119.7,130.5 L122.3,134.2 M123.6,142.9 L124.4,137.5 L122.3,134.2 M123.6,142.9 L113.9,149.6 L101.3,157.9 M105.0,126.7 L96.8,136.6 L92.5,149.5 M101.3,157.9 L92.5,149.5 M132.4,109.1 L120.5,117.7 M152.1,130.9 L122.3,134.2 M128.9,152.4 L141.7,155.4 M128.9,152.4 L123.6,142.9 M72.9,143.4 L77.9,147.0 L85.4,150.3 M72.9,143.4 L58.7,153.1 M85.4,150.3 L77.9,174.3 M58.7,153.1 L63.3,171.0 M63.3,171.0 L77.9,174.3 M108.9,177.9 L105.1,181.9 M108.9,177.9 L103.4,167.8 L101.3,157.9 M78.3,174.8 L77.9,174.3 M92.5,149.5 L85.4,150.3 M35.1,152.5 L43.1,148.6 M43.1,148.6 L58.7,153.1 M50.5,182.8 L54.6,176.0 L63.3,171.0 M55.4,201.0 L63.2,202.0 L72.3,201.6 M55.4,201.0 L49.9,196.5 M4.6,97.5 L-0.8,103.3 L-6.6,108.0 M4.6,97.5 L14.4,97.9 L27.4,100.6 M-6.6,108.0 L6.0,124.1 M6.0,124.1 L15.6,123.0 L24.1,119.0 M27.4,100.6 L25.3,117.9 M2.6,79.5 L0.0,76.4 M2.6,79.5 L4.6,97.5 M-20.1,106.4 L-6.6,108.0 M2.6,79.5 L35.2,82.5 M30.4,97.2 L31.8,88.9 L35.2,82.5 M30.4,97.2 L27.4,100.6 M4.2,129.5 L6.0,124.1 M27.9,150.6 L23.6,134.2 L24.1,119.0 M43.1,148.6 L47.1,126.5 M47.1,126.5 L25.3,117.9 M-29.6,319.2 L-19.4,346.0 M-24.9,315.7 L-29.6,319.2 M-24.9,315.7 L-22.6,298.2 M-5.4,345.8 L2.4,317.9 M-5.4,345.8 L-19.4,346.0 M2.4,317.9 L-10.4,315.1 L-24.9,315.7 M-19.5,294.6 L-19.3,277.1 M-19.5,294.6 L2.9,300.9 M-19.3,277.1 L-10.2,270.0 M-10.2,270.0 L1.9,272.0 M1.9,272.0 L2.0,272.1 M-22.6,298.2 L-19.5,294.6 M6.4,314.9 L7.0,307.6 M6.4,314.9 L2.4,317.9 M7.0,307.6 L2.9,300.9 M-17.0,253.7 L-10.2,270.0 M6.5,249.8 L4.2,260.1 L1.9,272.0 M61.0,321.2 L53.8,331.6 L51.0,342.6 M61.0,321.2 L51.6,309.7 M51.0,342.6 L37.8,336.0 L29.2,331.7 M29.2,331.7 L28.3,328.0 M51.6,309.7 L37.5,317.7 L28.3,328.0 M74.5,269.1 L76.9,287.9 M97.0,286.7 L87.2,285.1 L76.9,287.9 M52.0,344.9 L69.0,349.6 M52.0,344.9 L43.1,363.3 M69.4,370.0 L48.1,370.1 M69.4,370.0 L70.7,367.7 M43.1,363.3 L48.1,370.1 M70.7,367.7 L69.0,349.6 M91.4,391.8 L86.1,395.3 L79.8,396.6 M69.4,370.0 L75.5,393.5 M98.8,365.3 L98.2,363.1 M75.5,393.5 L79.8,396.6 M70.7,367.7 L86.2,366.2 L98.2,363.1 M154.1,320.3 L146.0,322.6 L142.1,327.7 M171.0,326.0 L170.4,346.8 M170.4,346.8 L147.7,346.8 M147.7,346.8 L143.3,344.0 M142.1,327.7 L143.2,333.7 L143.3,344.0 M131.1,373.9 L126.4,352.7 M148.7,364.5 L147.7,346.8 M143.3,344.0 L134.2,350.8 L126.4,352.7 M98.2,363.1 L100.8,354.8 L100.7,350.9 M100.7,350.9 L115.5,347.4 M126.4,352.7 L115.5,347.4 M-17.6,387.1 L-6.2,386.4 L9.5,387.5 M4.1,411.9 L4.5,411.7 M18.6,390.3 L9.5,387.5 M18.6,390.3 L19.3,391.2 M19.3,391.2 L14.3,401.9 L4.5,411.7 M29.5,430.9 L32.0,425.1 M4.5,411.7 L20.7,417.7 L32.0,425.1 M70.5,730.0 L75.5,732.5 L79.5,734.1 M97.5,710.2 L99.9,712.9 M99.9,712.9 L101.8,720.6 L103.8,724.7 M79.5,734.1 L103.8,724.7 M84.0,753.4 L86.0,749.8 M98.9,780.1 L112.7,779.8 L125.3,777.1 M128.0,464.5 L126.0,463.2 M100.7,485.4 L110.6,466.9 M110.6,466.9 L126.0,463.2 M83.8,464.1 L107.4,463.3 M110.6,466.9 L107.4,463.3 M150.1,461.2 L146.3,436.8 M146.3,436.8 L125.2,445.8 M126.0,463.2 L125.2,445.8 M150.3,429.2 L148.1,434.5 L146.3,436.8 M125.2,445.8 L120.5,441.1 M69.2,442.7 L83.4,416.9 M69.2,442.7 L80.4,450.7 M80.4,450.7 L97.5,444.0 M83.4,416.9 L93.9,423.3 L102.9,428.4 M97.5,444.0 L103.8,434.2 M102.9,428.4 L103.8,434.2 M53.8,421.6 L79.0,408.5 M79.0,408.5 L83.4,416.9 M65.5,442.4 L69.2,442.7 M53.2,450.9 L65.5,442.4 M80.3,456.8 L80.4,450.7 M107.4,463.3 L101.8,455.0 L97.5,444.0 M120.5,441.1 L103.8,434.2 M77.7,569.4 L76.1,576.4 L79.1,581.0 M77.7,569.4 L69.4,564.5 L56.3,555.0 M79.1,581.0 L63.1,586.5 M63.1,586.5 L51.2,578.6 M51.2,578.6 L51.8,558.5 M51.8,558.5 L56.3,555.0 M59.7,601.5 L63.1,586.5 M83.8,584.0 L79.1,581.0 M31.7,587.7 L39.0,582.4 L51.2,578.6 M35.3,556.6 L51.8,558.5 M61.2,542.0 L56.3,555.0 M84.1,540.6 L91.8,540.9 L101.9,541.3 M84.1,540.6 L85.4,558.6 M85.4,558.6 L103.4,563.9 M101.9,541.3 L109.3,559.7 M109.3,559.7 L103.4,563.9 M82.1,539.0 L84.1,540.6 M77.7,569.4 L79.7,561.8 L85.4,558.6 M95.8,586.8 L103.4,563.9 M126.2,560.8 L124.5,562.3 M124.5,562.3 L117.5,561.4 L109.3,559.7 M103.1,616.9 L125.0,605.6 M103.1,616.9 L107.0,628.3 M107.0,628.3 L119.2,630.2 L129.2,634.5 M125.0,605.6 L131.7,633.4 M94.6,613.0 L103.1,616.9 M99.6,639.5 L107.0,628.3 M98.9,652.9 L105.6,649.7 L116.5,651.4 M116.5,651.4 L129.2,634.5 M130.1,670.5 L138.3,653.4 L146.2,639.1 M130.1,670.5 L124.1,662.4 L116.5,651.4 M131.7,633.4 L135.3,637.3 L143.3,636.6 M143.3,636.6 L146.2,639.1 M212.2,298.4 L202.9,304.0 M212.2,298.4 L194.9,270.7 M202.9,304.0 L176.3,285.0 M194.9,270.7 L194.3,270.6 M194.3,270.6 L189.3,270.9 L180.0,275.6 M180.0,275.6 L176.3,285.0 M181.8,317.5 L188.9,318.2 L191.0,318.6 M191.0,318.6 L197.4,309.6 L202.9,304.0 M172.0,291.0 L176.3,285.0 M193.0,250.5 L195.6,261.5 L194.3,270.6 M225.6,247.5 L220.3,255.9 L210.9,265.6 M210.9,265.6 L194.9,270.7 M220.9,325.1 L220.6,311.1 L215.7,299.0 M220.9,325.1 L241.8,327.5 M241.8,327.5 L243.2,320.3 L245.2,317.9 M245.2,317.9 L236.3,305.2 L232.1,294.2 M215.7,299.0 L229.4,293.0 M229.4,293.0 L232.1,294.2 M219.5,326.1 L220.9,325.1 M193.6,321.7 L191.0,318.6 M212.2,298.4 L215.7,299.0 M241.9,350.9 L241.7,344.0 L245.4,336.3 M241.9,350.9 L219.0,351.6 M212.9,343.5 L219.0,351.6 M245.4,336.3 L244.1,332.3 L241.8,327.5 M245.4,336.3 L268.7,335.9 M268.7,335.9 L269.2,332.3 L272.2,325.7 M272.2,325.7 L264.0,319.3 L260.0,310.2 M260.0,310.2 L245.2,317.9 M210.9,265.6 L228.7,282.4 M228.7,282.4 L229.4,293.0 M260.0,310.2 L270.7,292.5 M232.1,294.2 L241.5,288.6 L251.8,287.9 M251.8,287.9 L262.1,288.0 L270.7,292.5 M228.7,282.4 L244.3,257.5 M251.8,287.9 L250.6,272.7 L244.3,257.5 M281.4,251.3 L264.2,237.1 M281.4,251.3 L271.3,267.5 M244.1,256.1 L244.4,256.9 M271.3,267.5 L244.4,256.9 M244.4,256.9 L244.3,257.5 M1054.9,532.5 L1050.1,518.0 M1051.2,514.1 L1050.1,518.0 M1042.3,411.5 L1048.2,411.2 L1057.0,415.4 M1042.3,411.5 L1024.7,423.9 M1057.0,415.4 L1038.9,442.5 M1024.7,423.9 L1028.6,439.9 M1028.6,439.9 L1038.9,442.5 M1037.9,388.3 L1033.3,392.7 M1033.3,392.7 L1042.3,411.5 M1033.3,392.7 L1015.8,393.3 M1015.8,393.3 L1014.8,394.0 M1011.6,414.1 L1014.7,403.2 L1014.8,394.0 M1011.6,414.1 L1024.7,423.9 M1049.4,451.4 L1044.2,444.6 L1038.9,442.5 M930.1,562.9 L949.9,556.5 M930.1,562.9 L923.5,581.4 M949.9,556.5 L953.2,562.7 L958.0,566.5 M959.5,573.2 L952.1,584.4 M923.5,581.4 L952.1,584.4 M968.6,604.1 L981.7,588.7 M968.6,604.1 L954.7,601.7 M981.7,588.7 L977.9,581.0 M954.7,601.7 L955.8,590.8 L952.1,584.4 M1028.1,516.2 L1027.0,514.2 M1028.1,516.2 L1022.6,534.1 M1027.0,514.2 L1015.2,512.6 L1006.8,512.3 M1012.4,535.5 L1006.3,530.0 L999.7,524.9 M1012.4,535.5 L1016.9,535.2 L1022.0,534.5 M1006.8,512.3 L999.7,524.9 M1022.6,534.1 L1022.0,534.5 M1051.1,538.1 L1022.6,534.1 M1050.1,518.0 L1040.9,515.2 L1028.1,516.2 M990.3,558.0 L1002.0,560.1 M1002.0,560.1 L1003.5,559.3 M1003.5,559.3 L1012.4,535.5 M983.0,547.4 L985.2,553.3 M983.0,547.4 L997.5,525.0 M997.5,525.0 L999.7,524.9 M1028.0,564.5 L1003.5,559.3 M1030.9,562.3 L1022.0,534.5 M461.1,294.7 L473.9,293.8 L481.8,291.2 M461.1,294.7 L464.4,307.0 L466.7,317.8 M481.3,316.6 L486.0,294.8 M486.0,294.8 L481.8,291.2 M467.5,223.6 L481.9,229.2 M467.5,223.6 L461.1,238.3 L457.5,248.5 M480.0,257.6 L484.4,253.3 L488.0,245.6 M480.0,257.6 L460.5,253.6 M457.5,248.5 L460.5,253.6 M481.9,229.2 L483.4,235.0 L488.0,245.6 M607.8,262.2 L598.4,261.6 L592.7,264.3 M607.8,262.2 L603.3,248.0 M602.4,248.0 L603.3,248.0 M602.4,248.0 L589.5,257.1 M589.5,257.1 L592.7,264.3 M581.7,240.2 L586.5,234.2 M583.1,254.5 L589.5,257.1 M586.5,234.2 L593.8,242.5 L602.4,248.0 M607.6,303.9 L607.5,303.7 M614.6,303.6 L628.9,296.2 M628.9,296.2 L626.1,283.4 M626.1,283.4 L614.5,293.9 L607.5,303.7 M583.6,190.5 L597.6,196.0 L609.8,200.4 M583.6,190.5 L589.5,177.7 M592.8,176.5 L589.5,177.7 M592.8,176.5 L603.2,185.5 L611.4,198.3 M611.4,198.3 L609.8,200.4 M616.0,129.6 L604.9,115.0 M616.0,129.6 L606.5,141.5 M606.5,141.5 L603.9,142.6 M603.9,142.6 L597.1,130.6 M597.1,130.6 L599.0,120.0 M599.0,120.0 L604.9,115.0 M617.1,195.8 L619.1,196.3 M617.1,195.8 L611.4,198.3 M609.8,200.4 L607.1,205.1 M609.3,213.4 L607.1,205.1 M609.3,213.4 L612.7,219.2 M612.7,219.2 L621.1,222.8 L628.8,222.6 M619.1,196.3 L621.9,211.8 L628.8,222.6 M692.1,154.6 L685.5,155.6 L676.7,158.1 M692.1,154.6 L693.4,174.6 M676.7,158.1 L678.7,171.8 M678.7,171.8 L690.2,175.2 M693.4,174.6 L690.2,175.2 M622.5,103.8 L608.6,105.4 M622.5,103.8 L633.2,124.0 M608.6,105.4 L607.3,108.6 L604.9,115.0 M616.0,129.6 L624.5,128.9 M633.2,124.0 L624.5,128.9 M624.5,128.9 L622.6,145.3 M660.9,176.5 L661.2,175.9 M660.9,176.5 L642.4,178.1 M661.2,175.9 L657.9,156.3 M642.4,178.1 L635.4,168.8 M635.4,168.8 L652.2,153.9 M657.9,156.3 L652.2,153.9 M628.1,165.9 L623.2,171.9 M623.2,171.9 L621.8,175.3 M621.8,175.3 L637.8,187.7 M637.8,187.7 L639.1,184.8 L642.4,178.1 M625.7,159.4 L628.3,151.4 M628.3,151.4 L634.0,149.1 L642.7,142.6 M642.7,142.6 L652.2,153.9 M719.3,246.3 L700.6,252.0 M700.6,252.0 L699.4,251.3 M699.4,251.3 L691.7,235.9 M691.7,235.9 L694.3,227.8 M673.9,246.3 L677.7,254.4 M691.7,235.9 L682.6,237.9 M849.0,82.6 L847.0,101.5 M830.5,74.8 L826.1,81.8 L818.1,84.4 M839.9,104.3 L847.0,101.5 M818.4,96.4 L816.6,91.4 L818.1,84.4 M797.6,57.4 L800.2,72.0 M818.1,84.4 L800.2,72.0 M740.6,29.1 L745.1,33.4 L748.6,39.8 M748.6,39.8 L755.7,37.9 L766.3,32.7 M769.3,28.8 L766.3,32.7 M746.1,48.9 L747.9,42.5 L748.6,39.8 M746.1,48.9 L750.4,57.1 L758.3,62.7 M758.3,62.7 L766.1,60.8 L773.2,57.8 M773.2,57.8 L766.3,32.7 M792.7,34.5 L783.1,33.7 L769.3,28.8 M796.7,56.3 L787.6,59.7 L779.1,59.2 M779.1,59.2 L773.2,57.8 M746.1,48.9 L736.2,51.6 L728.5,56.0 M728.5,56.0 L722.8,44.6 L719.8,37.1 M740.6,29.1 L726.6,25.1 M678.6,109.0 L670.5,82.4 M678.6,109.0 L686.6,105.2 M699.6,88.8 L700.0,86.9 M700.0,86.9 L670.5,82.4 M706.7,55.5 L706.9,45.5 L705.2,38.8 M706.7,55.5 L691.4,62.9 M691.4,62.9 L687.8,60.8 M695.1,33.4 L702.4,36.1 L705.2,38.8 M695.1,33.4 L680.7,34.0 M678.0,44.8 L680.6,40.6 L680.6,34.2 M680.7,34.0 L680.6,34.2 M724.5,63.2 L706.7,55.5 M719.8,37.1 L705.2,38.8 M700.0,86.9 L701.9,84.4 M701.9,84.4 L691.4,62.9 M670.5,82.4 L668.9,81.2 M668.9,81.2 L687.8,60.8 M650.1,30.3 L680.6,34.2 M602.1,30.2 L608.4,34.3 M608.4,34.3 L628.0,30.2 M585.6,48.6 L577.6,58.5 M585.6,48.6 L598.8,55.0 M598.8,55.0 L600.8,65.9 L600.2,76.7 M577.6,58.5 L578.2,72.5 M598.8,78.0 L592.7,78.6 L584.5,78.3 M598.8,78.0 L600.2,76.7 M584.5,78.3 L578.2,72.5 M608.4,34.3 L609.6,41.2 L607.6,50.0 M607.6,50.0 L598.8,55.0 M555.9,51.2 L550.1,55.7 M555.9,51.2 L562.2,34.3 M562.2,34.3 L548.9,35.8 L532.7,32.5 M550.1,55.7 L539.1,57.0 M532.7,32.5 L538.3,43.9 L539.1,57.0 M577.6,58.5 L555.9,51.2 M578.2,72.5 L562.4,74.6 M562.4,74.6 L550.1,55.7 M563.4,32.8 L562.2,34.3 M531.5,30.7 L532.7,32.5 M534.9,60.9 L536.5,65.5 L534.8,68.9 M534.8,68.9 L553.3,89.7 M553.3,89.7 L557.0,83.7 L562.4,74.6 M514.5,27.8 L509.9,34.4 M508.2,50.8 L511.4,42.5 L509.9,34.4 M508.2,50.8 L515.6,57.5 M515.6,57.5 L534.9,60.9 M710.4,174.1 L715.0,153.5 M720.4,182.8 L732.7,180.5 L740.3,175.1 M715.0,153.5 L720.8,149.0 M720.8,149.0 L728.6,150.7 L740.4,154.1 M744.7,166.9 L741.4,162.4 L742.7,156.1 M742.7,156.1 L740.4,154.1 M693.8,174.8 L697.4,202.1 M693.8,174.8 L710.4,174.1 M718.5,197.3 L720.4,182.8 M703.3,203.9 L697.4,202.1 M695.6,148.4 L703.4,152.8 L715.0,153.5 M695.6,148.4 L694.0,148.9 M694.0,148.9 L692.1,154.6 M693.8,174.8 L693.4,174.6 M750.5,195.5 L740.3,175.1 M717.4,130.3 L720.8,149.0 M717.4,130.3 L709.0,124.3 M709.0,124.3 L706.7,125.6 M706.7,125.6 L695.6,148.4 M739.7,122.6 L717.4,130.3 M739.7,122.6 L740.4,154.1 M739.7,122.6 L741.6,120.4 M765.9,140.0 L741.6,120.4 M765.9,140.0 L742.7,156.1 M765.4,255.1 L774.9,242.5 M762.6,226.5 L767.1,226.5 L772.5,229.7 M774.9,242.5 L772.4,237.7 L772.5,229.7 M836.0,304.5 L846.9,296.4 M815.6,295.5 L822.8,274.2 M846.9,296.4 L842.0,273.5 M842.0,273.5 L841.7,273.1 M841.7,273.1 L822.8,274.2 M839.9,104.3 L831.4,126.2 M847.0,101.5 L862.8,111.2 M862.3,114.5 L848.8,124.3 L839.9,136.3 M839.9,136.3 L833.9,132.5 L831.4,126.2 M818.4,96.4 L810.0,104.8 M810.0,104.8 L815.7,124.8 M815.7,124.8 L831.4,126.2 M865.2,144.2 L851.6,151.9 M884.3,168.0 L891.0,154.4 M884.3,168.0 L875.8,171.9 L871.5,171.0 M871.5,171.0 L851.6,151.9 M911.8,170.6 L907.1,180.8 M884.3,168.0 L890.1,175.1 L891.0,182.9 M891.0,182.9 L896.7,181.9 L907.1,180.8 M824.7,368.0 L807.5,366.9 M824.7,368.0 L838.0,356.7 M806.8,366.1 L807.5,366.9 M806.8,366.1 L810.5,351.3 L815.8,340.8 M815.8,340.8 L822.6,341.7 L829.4,343.0 M838.0,356.7 L838.0,356.4 M804.9,386.3 L804.2,379.0 L807.5,366.9 M820.0,395.2 L823.6,391.2 L830.7,389.6 M830.7,389.6 L824.7,368.0 M793.1,361.1 L801.6,361.5 L806.8,366.1 M811.5,336.7 L815.8,340.8 M837.3,324.5 L829.4,343.0 M837.3,324.5 L850.9,328.1 L862.2,331.1 M862.2,331.1 L862.3,333.3 L863.0,340.0 M863.0,340.0 L838.0,356.4 M830.7,389.6 L845.6,393.5 M838.0,356.7 L842.6,361.9 L847.9,367.7 M847.9,367.7 L849.0,380.5 L845.6,393.5 M870.5,347.9 L868.4,360.0 L866.5,368.1 M847.9,367.7 L866.5,368.1 M908.0,325.5 L906.6,297.8 M908.0,325.5 L900.5,325.3 L889.2,323.0 M889.2,323.0 L881.1,317.0 M881.1,317.0 L897.0,295.9 M905.5,297.0 L906.6,297.8 M911.8,328.7 L929.3,321.6 M911.8,328.7 L908.0,325.5 M929.3,321.6 L929.6,299.8 M929.6,299.8 L906.6,297.8 M911.8,328.7 L910.4,346.4 M887.8,349.6 L889.2,323.0 M887.8,349.6 L888.9,350.2 M888.9,350.2 L897.5,351.7 L907.7,350.5 M910.4,346.4 L907.7,350.5 M870.4,317.3 L875.4,316.6 L881.1,317.0 M870.4,317.3 L862.2,331.1 M887.8,349.6 L870.5,347.9 M935.2,294.5 L929.6,299.8 M935.2,294.5 L932.9,275.1 M913.2,275.8 L905.5,297.0 M931.4,322.9 L937.2,347.8 M956.3,323.5 L955.3,333.1 L959.1,341.4 M959.1,341.4 L938.7,348.8 M938.7,348.8 L937.2,347.8 M929.3,321.6 L931.4,322.9 M910.4,346.4 L937.2,347.8 M938.0,362.5 L916.4,373.2 M938.0,362.5 L938.0,356.8 L938.7,348.8 M916.4,373.2 L912.0,366.1 M912.0,366.1 L912.0,359.6 L907.7,350.5 M1052.9,266.1 L1059.8,243.0 M1059.8,351.0 L1055.9,345.2 L1048.0,339.2 M1048.0,339.2 L1046.3,323.1 M1044.5,370.3 L1038.8,366.1 M1015.8,393.3 L1019.5,380.5 L1018.4,369.2 M1025.1,327.3 L1024.6,346.5 M1025.1,327.3 L1033.4,325.9 L1044.7,321.6 M1048.0,339.2 L1041.8,345.4 L1034.7,351.8 M1044.7,321.6 L1046.3,323.1 M1024.6,346.5 L1034.7,351.8 M1038.8,366.1 L1034.7,351.8 M1014.8,394.0 L1006.5,388.1 L995.7,386.8 M995.7,386.8 L983.6,392.9 M983.6,392.9 L989.2,403.1 L995.5,416.1 M1002.5,418.4 L995.5,416.1 M944.6,368.0 L947.6,379.9 L946.5,391.9 M944.6,368.0 L968.0,362.1 M968.0,362.1 L969.7,363.5 M969.7,363.5 L966.4,376.4 L967.8,393.3 M946.5,391.9 L953.6,393.6 L965.6,395.2 M967.8,393.3 L965.6,395.2 M938.0,362.5 L942.9,367.3 L944.6,368.0 M959.1,341.4 L960.4,342.5 M960.4,342.5 L968.0,362.1 M862.9,303.2 L891.4,289.3 M862.9,303.2 L860.7,300.5 M860.7,300.5 L873.8,277.3 M873.8,277.3 L886.2,277.7 M891.4,289.3 L886.2,277.7 M870.4,317.3 L864.5,311.6 L862.9,303.2 M897.0,295.9 L891.4,289.3 M846.9,296.4 L860.7,300.5 M842.0,273.5 L869.7,273.3 M869.7,273.3 L873.8,277.3 M887.6,275.7 L886.2,277.7 M883.5,251.4 L875.9,252.3 L867.6,250.9 M982.0,151.3 L982.0,127.7 M982.0,151.3 L982.6,152.1 M1004.4,150.0 L1001.5,138.4 L1001.9,125.1 M1001.9,125.1 L982.0,127.7 M959.0,144.6 L982.0,151.3 M974.5,122.7 L976.4,127.1 L982.0,127.7 M979.3,165.3 L982.6,152.1 M1006.7,151.7 L1004.4,150.0 M1003.2,123.2 L1001.9,125.1 M954.3,268.5 L963.0,280.8 M966.1,250.4 L970.7,248.7 M984.7,261.5 L984.1,259.5 M983.7,217.6 L972.9,217.4 L964.8,218.0 M983.7,217.6 L995.7,227.9 M964.8,218.0 L971.1,247.0 M971.1,247.0 L995.7,227.9 M1010.4,202.6 L1002.3,229.0 M989.5,203.1 L983.7,217.6 M995.7,227.9 L1002.3,229.0 M964.8,218.0 L964.2,217.5 M938.5,239.9 L937.0,234.1 M971.1,247.0 L970.7,248.7 M961.1,192.9 L958.5,200.3 M958.5,200.3 L959.1,208.1 L964.2,217.5 M867.6,250.9 L861.2,246.1 M887.4,230.1 L872.7,227.9 M872.7,227.9 L861.2,246.1 M972.9,75.9 L965.8,63.7 L962.8,54.8 M991.0,61.0 L983.1,49.7 M962.8,54.8 L983.1,49.7 M987.3,28.8 L983.1,31.6 M983.1,49.7 L980.8,39.3 L983.1,31.6 M975.6,30.1 L983.1,31.6 M913.7,117.3 L915.0,106.0 M937.8,103.8 L936.1,102.5 M915.0,106.0 L920.4,103.0 M936.1,102.5 L920.4,103.0 M967.7,84.0 L956.5,80.9 L946.0,77.4 M936.1,102.5 L939.3,90.6 L946.0,77.4 M899.9,98.3 L902.1,74.2 M899.9,98.3 L881.1,101.2 M875.9,85.0 L879.9,94.9 L881.1,101.2 M875.9,85.0 L899.2,71.2 M899.2,71.2 L902.1,74.2 M879.1,104.0 L881.1,101.2 M915.0,106.0 L905.5,101.2 L899.9,98.3 M875.3,84.3 L875.9,85.0 M892.6,53.4 L899.2,71.2 M53.7,34.5 L47.5,31.4 L44.6,31.6 M53.7,34.5 L55.0,42.7 L60.5,53.3 M60.5,53.3 L41.9,54.7 L28.0,57.1 M43.9,31.6 L27.7,56.8 M43.9,31.6 L44.6,31.6 M28.0,57.1 L27.7,56.8 M70.1,26.8 L53.7,34.5 M38.2,27.0 L43.9,31.6 M37.2,80.1 L35.2,82.5 M37.2,80.1 L33.6,69.5 L28.0,57.1 M80.8,51.3 L79.1,52.6 M60.5,53.3 L60.8,53.7 M60.8,53.7 L79.1,52.6 M749.7,431.8 L760.2,443.4 M749.7,431.8 L743.1,421.5 M785.2,421.7 L779.6,437.4 M743.1,421.5 L747.1,412.6 M779.6,437.4 L770.6,439.0 L760.2,443.4 M239.3,172.0 L253.4,157.0 M239.3,172.0 L223.2,172.4 M223.2,172.4 L221.9,163.9 L222.3,158.3 M222.3,158.3 L244.7,146.2 M244.7,146.2 L253.4,157.0 M254.1,180.6 L239.3,172.0 M264.2,161.2 L258.4,159.3 L253.4,157.0 M264.2,161.2 L265.8,165.9 M194.3,137.0 L203.9,122.0 M194.3,137.0 L196.4,140.4 L195.9,146.0 M195.9,146.0 L219.8,155.2 M219.8,155.2 L220.3,141.0 L223.8,124.7 M203.9,122.0 L223.8,124.7 M196.9,105.7 L176.5,109.7 M196.9,105.7 L198.3,107.6 M169.6,129.0 L194.3,137.0 M174.4,160.9 L182.7,153.4 L194.4,148.2 M174.4,160.9 L166.2,154.5 M194.4,148.2 L195.9,146.0 M273.3,146.3 L260.2,132.6 M273.3,146.3 L264.2,161.2 M244.7,146.2 L247.9,129.6 M260.2,132.6 L253.6,133.1 L247.9,129.6 M224.1,124.6 L247.7,129.3 M224.1,124.6 L223.8,124.7 M222.3,158.3 L219.8,155.2 M247.9,129.6 L247.7,129.3 M198.3,107.6 L227.7,102.1 M224.1,124.6 L228.2,102.6 M227.7,102.1 L228.2,102.6 M268.4,38.2 L294.2,30.0 M297.0,25.1 L294.2,30.0 M316.6,418.2 L318.9,406.7 L322.7,394.2 M316.6,418.2 L311.5,415.9 L301.6,418.5 M322.7,394.2 L296.1,390.3 M301.6,418.5 L296.1,390.3 M506.3,344.8 L506.6,345.1 M508.3,363.9 L505.8,353.2 L507.3,346.5 M506.6,345.1 L507.3,346.5 M531.7,355.1 L535.1,347.3 M507.3,346.5 L535.1,347.3 M541.9,348.1 L535.5,347.1 M535.5,347.1 L535.1,347.3 M485.8,676.6 L478.9,667.5 L474.9,658.3 M485.8,676.6 L457.7,686.8 M459.6,656.3 L460.7,655.7 M460.7,655.7 L474.9,658.3 M441.5,626.2 L436.6,653.5 M441.5,626.2 L463.6,632.3 M460.7,655.7 L460.5,645.6 L463.6,632.3 M467.7,607.5 L476.6,607.7 L480.6,604.1 M467.7,607.5 L465.2,616.6 L467.3,628.9 M489.7,608.1 L485.5,618.7 L483.1,631.9 M757.4,579.9 L761.4,587.6 M761.4,587.6 L754.9,598.2 L750.9,607.4 M750.9,607.4 L740.9,612.2 M729.2,607.1 L734.7,612.1 L740.9,612.2 M665.9,581.7 L668.3,594.7 M703.2,587.7 L690.5,604.3 M690.5,604.3 L678.5,597.6 L668.3,594.7 M717.5,618.7 L724.5,610.6 L729.2,607.1 M717.5,618.7 L703.7,615.8 L692.5,613.0 M690.5,604.3 L689.5,610.7 L692.5,613.0 M846.2,773.8 L852.7,771.4 L862.0,768.0 M876.8,774.4 L874.0,770.5 M874.0,770.5 L862.0,768.0 M799.9,677.7 L801.7,678.8 M799.9,677.7 L805.0,656.1 M801.7,678.8 L829.3,677.4 M266.9,689.6 L266.3,692.8 L269.7,697.9 M247.8,711.5 L236.5,697.5 M236.5,697.5 L248.0,682.5 M266.9,689.6 L275.1,674.6 M249.2,660.6 L244.3,674.5 M275.1,674.6 L271.0,666.7 L264.4,654.7 M248.0,682.5 L244.3,674.5 M483.4,579.8 L475.4,577.7 L467.6,575.2 M485.5,546.7 L469.2,555.7 M469.2,555.7 L470.2,564.3 L467.6,575.2 M467.7,607.5 L465.4,606.0 M465.4,606.0 L464.5,594.4 L463.2,577.8 M463.2,577.8 L467.6,575.2 M461.8,441.9 L440.3,445.5 M461.8,441.9 L458.8,424.0 M458.8,424.0 L447.2,417.6 M447.2,417.6 L433.0,438.6 M433.0,438.6 L440.3,445.5 M471.8,412.7 L458.8,424.0 M440.5,401.7 L439.0,407.1 M439.0,407.1 L447.2,417.6 M441.0,512.9 L442.5,491.2 M441.0,512.9 L434.6,513.3 L430.6,514.9 M421.5,486.9 L419.7,510.2 M421.5,486.9 L429.6,482.5 M419.7,510.2 L421.2,511.7 M421.2,511.7 L430.6,514.9 M429.6,482.5 L442.5,491.2 M322.7,394.2 L324.7,391.9 M304.5,366.7 L290.8,375.5 M304.5,366.7 L317.6,368.0 M290.8,375.5 L290.8,385.6 M296.1,390.3 L290.8,385.6 M324.7,391.9 L317.6,368.0 M315.6,338.7 L306.8,342.4 L297.3,342.4 M315.6,338.7 L319.9,352.4 L320.8,364.9 M304.5,366.7 L301.2,356.6 L297.3,342.4 M465.4,606.0 L443.1,605.1 M463.2,577.8 L454.5,575.9 L443.3,577.2 M443.3,577.2 L443.1,605.1 M150.6,429.2 L163.0,439.0 L175.5,446.8 M150.7,461.5 L173.5,454.0 M173.5,454.0 L175.7,451.9 M175.5,446.8 L175.7,451.9 M148.4,584.0 L155.5,605.1 M148.4,584.0 L137.3,585.9 L125.3,586.2 M125.3,604.7 L126.1,597.5 L122.3,590.4 M125.3,604.7 L138.5,607.6 L152.7,606.9 M152.7,606.9 L155.5,605.1 M125.3,586.2 L122.3,590.4 M156.4,573.6 L148.4,584.0 M176.4,588.0 L170.9,598.8 L161.5,605.7 M161.5,605.7 L155.5,605.1 M146.6,561.1 L150.2,564.6 L155.2,569.5 M124.5,562.3 L125.4,576.3 L125.3,586.2 M96.6,587.5 L108.5,590.1 L122.3,590.4 M125.0,605.6 L125.3,604.7 M143.3,636.6 L152.7,606.9 M226.1,600.1 L226.1,596.9 L226.5,590.1 M226.1,600.1 L215.5,610.0 M215.5,610.0 L207.7,607.4 L198.0,608.9 M221.5,585.2 L226.5,590.1 M221.5,585.2 L196.4,584.2 M198.0,608.9 L192.9,589.7 M196.4,584.2 L192.9,589.7 M197.9,566.5 L196.4,584.2 M197.9,566.5 L222.5,563.3 M222.5,563.3 L222.4,575.0 L221.5,585.2 M197.6,566.0 L189.1,565.4 L182.2,560.9 M197.6,566.0 L197.9,566.5 M176.4,588.0 L192.9,589.7 M229.4,632.7 L215.5,610.0 M244.9,630.1 L249.6,624.2 L250.9,614.0 M226.1,600.1 L234.2,605.6 L245.0,608.4 M250.9,614.0 L248.8,608.8 L245.0,608.4 M226.5,590.1 L233.9,587.1 L244.1,580.9 M245.0,608.4 L244.1,580.9 M173.5,454.0 L170.4,485.0 M157.5,485.8 L167.6,486.7 M167.6,486.7 L170.4,485.0 M175.7,451.9 L186.4,456.0 L198.3,464.6 M170.4,485.0 L194.3,482.0 M198.3,464.6 L194.3,482.0 M417.3,776.7 L392.9,774.2 M378.7,746.4 L368.0,751.3 M378.7,746.4 L385.6,749.9 L395.5,755.2 M368.0,751.3 L376.8,772.8 M395.5,755.2 L394.2,765.9 L392.7,774.1 M376.8,772.8 L385.1,775.8 L392.7,774.1 M407.8,727.8 L409.4,730.6 M407.8,727.8 L389.4,727.0 M389.4,727.0 L378.7,746.4 M409.4,730.6 L407.8,737.7 L408.2,747.1 M408.2,747.1 L395.5,755.2 M371.1,779.2 L376.8,772.8 M365.0,750.3 L368.0,751.3 M345.2,771.3 L344.6,762.2 L346.4,756.9 M347.8,754.9 L346.4,756.9 M392.9,774.2 L392.7,774.1 M367.8,723.0 L387.5,725.2 M367.8,723.0 L360.6,705.5 M387.5,725.2 L382.5,701.2 M360.6,705.5 L382.5,701.2 M362.4,731.1 L367.8,723.0 M389.4,727.0 L387.5,725.2 M409.3,678.4 L414.3,684.3 M409.3,678.4 L386.3,687.0 M414.3,684.3 L417.8,705.7 M386.3,687.0 L386.4,696.2 M386.4,696.2 L400.3,699.8 L415.4,707.7 M415.4,707.7 L417.8,705.7 M434.9,676.9 L414.3,684.3 M426.7,705.4 L417.8,705.7 M407.8,727.8 L415.4,707.7 M382.5,701.2 L386.4,696.2 M346.6,704.4 L346.4,682.8 M346.6,704.4 L359.9,705.2 M359.9,705.2 L368.0,679.0 M346.4,682.8 L355.9,679.2 L366.1,677.9 M366.1,677.9 L368.0,679.0 M340.7,708.3 L340.1,718.5 L339.8,725.1 M340.7,708.3 L346.6,704.4 M380.4,679.3 L384.8,685.3 L386.3,687.0 M380.4,679.3 L368.0,679.0 M340.6,675.6 L346.4,682.8 M340.6,675.6 L343.6,665.1 L344.2,658.8 M344.2,658.8 L345.0,658.1 M358.9,658.5 L345.0,658.1 M358.9,658.5 L366.1,677.9 M316.9,735.8 L311.3,733.9 L308.7,729.1 M316.9,735.8 L318.1,746.7 L316.5,755.5 M302.9,729.6 L308.7,729.1 M302.9,729.6 L291.2,750.0 M291.2,750.0 L294.5,756.1 M312.9,760.1 L316.5,755.5 M340.7,708.3 L319.0,700.8 M336.8,730.7 L328.4,731.2 L316.9,735.8 M315.6,703.7 L319.0,700.8 M315.6,703.7 L308.7,729.1 M346.4,756.9 L316.5,755.5 M290.9,723.8 L302.9,729.6 M292.5,703.8 L315.6,703.7 M271.3,731.4 L270.6,741.8 M270.6,741.8 L291.2,750.0 M270.6,741.8 L266.1,747.8 L263.1,751.1 M277.5,774.7 L282.2,774.0 M277.5,774.7 L277.0,774.4 M263.1,751.1 L277.0,774.4 M282.2,774.0 L288.2,767.4 L294.5,756.1 M291.7,779.8 L285.5,775.8 L282.2,774.0 M314.7,777.9 L312.6,766.6 L312.9,760.1 M340.6,675.6 L327.9,676.8 L319.1,681.0 M344.2,658.8 L321.4,656.1 M321.4,656.1 L318.2,670.9 L319.1,681.0 M319.0,700.8 L316.3,683.8 M319.1,681.0 L316.3,683.8 M287.9,699.6 L299.6,677.1 M275.1,674.6 L295.1,671.4 M295.1,671.4 L299.6,677.1 M273.3,146.3 L281.8,143.4 L290.2,142.6 M260.2,132.6 L265.6,125.6 L274.9,123.0 M274.9,123.0 L291.1,134.6 M290.2,142.6 L291.1,134.6 M286.7,177.7 L290.4,167.4 L298.6,153.3 M290.2,142.6 L298.6,153.3 M359.1,227.1 L333.4,226.9 M359.1,227.1 L362.1,238.7 L363.9,250.8 M363.7,251.3 L363.9,250.8 M363.7,251.3 L348.0,252.4 L336.0,251.5 M336.0,251.5 L333.4,226.9 M420.7,347.0 L426.5,348.1 M420.7,347.0 L421.9,322.9 M442.6,322.3 L439.8,318.4 L433.9,316.2 M421.9,322.9 L433.9,316.2 M419.2,347.7 L420.7,347.0 M419.2,347.7 L407.7,342.7 L396.5,339.6 M396.5,339.6 L396.9,324.2 M396.9,324.2 L406.5,317.7 M171.1,267.0 L149.4,261.3 M171.1,267.0 L174.3,236.4 M174.3,236.4 L161.7,239.2 L153.5,246.0 M153.5,246.0 L151.5,251.2 L149.4,260.6 M149.4,260.6 L149.4,261.3 M146.9,293.4 L151.6,295.6 M146.9,293.4 L142.9,267.4 M142.9,267.4 L149.4,261.3 M180.0,275.6 L171.1,267.0 M126.8,236.6 L138.5,248.9 L149.4,260.6 M137.7,267.0 L142.9,267.4 M172.1,363.4 L170.7,347.2 M172.1,363.4 L189.6,368.8 M170.7,347.2 L195.3,345.2 M189.6,368.8 L196.8,362.2 M170.4,346.8 L170.7,347.2 M168.2,368.1 L172.1,363.4 M197.7,342.5 L195.3,345.2 M219.0,351.6 L215.9,355.9 L213.0,364.6 M213.0,364.6 L196.8,362.2 M213.0,364.6 L219.5,382.2 M219.5,382.2 L194.9,389.0 M194.9,389.0 L189.6,368.8 M217.3,200.5 L220.4,195.7 L224.1,189.2 M217.3,200.5 L198.0,210.8 M220.1,178.2 L220.3,183.3 L224.1,189.2 M190.9,199.1 L195.3,203.7 L198.0,210.8 M190.9,199.1 L195.9,182.0 M195.9,182.0 L199.2,180.3 M224.1,221.9 L221.6,209.2 L217.3,200.5 M242.0,201.0 L224.1,189.2 M198.0,212.7 L198.0,210.8 M194.4,148.2 L199.2,180.3 M223.2,172.4 L220.1,178.2 M167.5,221.6 L172.3,204.2 M167.5,221.6 L175.5,230.4 M176.3,200.5 L172.3,204.2 M176.3,200.5 L181.3,202.3 L190.9,199.1 M175.4,172.2 L195.9,182.0 M175.4,172.2 L171.3,177.7 L167.1,180.1 M176.3,200.5 L172.5,191.5 L167.1,180.1 M175.4,172.2 L172.6,165.7 L174.4,160.9 M300.9,207.9 L284.6,222.4 M300.9,207.9 L312.8,210.1 M318.5,223.6 L312.8,210.1 M318.5,223.6 L292.5,232.7 M292.5,232.7 L284.6,222.4 M273.1,217.8 L280.3,220.6 L284.6,222.4 M290.6,248.0 L291.5,241.5 L292.5,232.7 M290.6,248.0 L295.9,251.9 L301.3,254.9 M301.3,254.9 L312.0,251.5 M312.0,251.5 L319.4,224.2 M319.4,224.2 L318.5,223.6 M281.4,251.3 L290.6,248.0 M754.3,76.9 L758.0,83.7 M754.3,76.9 L739.5,75.0 L724.6,75.5 M758.0,83.7 L753.4,97.6 L745.5,108.1 M724.6,75.5 L722.0,79.5 M722.0,79.5 L727.9,91.8 L731.3,100.9 M731.3,100.9 L744.1,108.8 M744.1,108.8 L745.5,108.1 M774.0,87.4 L758.0,83.7 M774.0,87.4 L779.1,59.2 M758.3,62.7 L754.3,76.9 M724.5,63.2 L724.6,75.5 M701.9,84.4 L722.0,79.5 M711.9,112.4 L731.3,100.9 M741.6,120.4 L744.1,108.8 M709.0,124.3 L708.9,120.9 M745.5,324.5 L757.6,323.7 M745.5,324.5 L749.2,299.5 M757.6,323.7 L775.6,311.3 M749.2,299.5 L769.7,291.0 M775.6,311.3 L772.2,292.5 M772.2,292.5 L769.7,291.0 M778.3,342.1 L757.6,323.7 M745.5,324.6 L745.5,324.5 M721.2,290.1 L720.4,296.9 L717.7,301.3 M742.1,292.8 L749.2,299.5 M792.0,320.2 L775.6,311.3 M792.8,285.7 L780.7,287.2 L772.2,292.5 M792.8,285.7 L795.6,288.6 M700.0,367.6 L697.2,359.2 M712.1,339.3 L705.9,340.4 M697.2,359.2 L705.9,340.4 M700.5,321.4 L692.0,324.0 L685.1,323.4 M700.5,321.4 L695.2,336.0 M687.6,337.1 L695.2,336.0 M687.6,337.1 L687.1,331.2 L684.9,328.7 M684.9,328.7 L685.1,323.4 M691.8,310.1 L682.3,315.5 M702.5,319.1 L700.5,321.4 M682.3,315.5 L681.8,317.2 L685.1,323.4 M705.9,340.4 L700.7,340.4 L695.2,336.0 M681.8,345.0 L681.8,344.5 M681.8,345.0 L697.2,359.2 M681.8,344.5 L687.6,337.1 M664.1,332.7 L681.8,344.5 M664.1,332.7 L663.3,326.5 M663.3,326.5 L672.4,327.3 L684.9,328.7 M718.9,282.3 L711.1,281.3 L705.6,277.9 M700.6,252.0 L700.1,256.8 M700.1,256.8 L705.6,277.9 M694.2,300.5 L691.8,297.3 M691.8,297.3 L703.3,278.6 M705.6,277.9 L703.3,278.6 M691.8,297.3 L678.7,291.8 M678.7,291.8 L676.8,293.8 M682.3,315.5 L676.2,311.8 L673.5,312.2 M676.8,293.8 L673.5,312.2 M663.3,326.5 L661.4,321.5 M661.4,321.5 L665.3,316.0 M673.5,312.2 L670.9,313.3 L665.3,316.0 M526.5,81.5 L507.5,78.6 M526.5,81.5 L528.7,101.1 M528.7,101.1 L513.9,102.0 M513.9,102.0 L504.0,96.4 M504.0,96.4 L503.7,89.8 L501.9,82.2 M507.5,78.6 L501.9,82.2 M515.6,57.5 L507.5,78.6 M534.8,68.9 L526.5,81.5 M553.5,99.3 L551.2,100.7 M553.5,99.3 L553.3,89.7 M551.2,100.7 L534.3,104.6 M534.3,104.6 L528.7,101.1 M489.2,175.5 L481.3,154.8 M489.2,175.5 L466.2,180.0 M463.6,175.7 L463.8,166.1 L463.5,156.1 M481.3,154.8 L474.3,157.3 L463.5,156.1 M463.6,175.7 L441.0,170.0 M447.6,150.4 L450.5,148.4 L456.7,148.7 M441.0,170.0 L445.5,152.8 M463.5,156.1 L462.1,152.2 L456.7,148.7 M460.5,294.1 L461.1,285.4 L460.3,279.3 M460.5,294.1 L445.0,296.1 M445.0,296.1 L431.2,271.9 M460.3,279.3 L455.0,273.2 L452.1,270.1 M452.1,270.1 L442.1,269.5 L434.9,269.1 M434.9,269.1 L431.2,271.9 M481.3,267.5 L485.3,272.0 M481.3,267.5 L460.3,279.3 M485.3,272.0 L481.8,291.2 M433.9,316.2 L434.2,306.2 M434.2,306.2 L439.5,299.9 L445.0,296.1 M460.5,253.6 L452.1,270.1 M439.8,245.1 L437.1,250.0 M439.8,245.1 L457.5,248.5 M437.1,250.0 L435.4,260.0 L434.9,269.1 M388.2,193.6 L386.2,178.6 M388.2,193.6 L373.3,201.2 M386.2,178.6 L364.3,180.3 M373.3,201.2 L364.3,180.3 M385.4,223.5 L402.1,200.9 M385.4,223.5 L375.2,220.5 L366.9,216.9 M366.9,216.9 L366.4,211.5 M402.1,200.9 L393.9,196.1 L388.2,193.6 M366.4,211.5 L373.3,201.2 M363.6,155.1 L373.0,153.4 L385.7,154.2 M363.6,155.1 L356.6,175.6 M391.4,166.2 L386.2,178.6 M391.4,166.2 L391.4,161.8 M391.4,161.8 L385.7,154.2 M356.6,175.6 L361.7,179.5 L364.3,180.3 M391.4,166.2 L411.9,185.1 M402.1,200.9 L406.2,200.9 M406.2,200.9 L411.9,185.1 M391.4,161.8 L403.1,160.9 L417.5,159.1 M417.5,159.1 L425.8,175.0 M411.9,185.1 L416.5,178.7 L425.8,175.0 M417.5,159.1 L419.4,155.1 M441.0,170.0 L431.8,177.1 M425.8,175.0 L431.8,177.1 M366.9,264.0 L371.7,267.2 M366.9,264.0 L364.8,259.2 L363.7,251.3 M371.7,267.2 L379.8,267.8 M363.9,250.8 L390.1,239.3 M379.8,267.8 L391.0,258.2 L401.1,251.3 M401.1,251.3 L390.1,239.3 M385.4,223.5 L389.7,229.4 M366.9,216.9 L364.8,223.6 L359.1,227.1 M389.7,229.4 L390.1,239.3 M698.6,435.8 L706.7,437.1 L712.5,441.7 M698.6,435.8 L695.0,424.9 L695.8,414.7 M695.8,414.7 L698.0,413.0 M698.0,413.0 L720.4,411.2 M731.3,422.1 L728.2,417.1 L720.4,411.2 M691.3,440.4 L698.6,435.8 M720.7,460.5 L718.1,452.4 M720.7,460.5 L693.0,473.0 M718.1,452.4 L712.5,441.7 M693.0,473.0 L690.6,462.2 L686.3,456.2 M679.3,407.6 L695.8,414.7 M749.7,431.8 L718.1,452.4 M743.1,421.5 L731.3,422.1 M723.6,390.6 L720.3,402.8 L720.4,411.2 M571.7,559.4 L587.6,549.3 M606.3,575.6 L608.1,571.9 M587.6,549.3 L596.6,561.3 L608.1,571.9 M555.2,535.3 L580.4,524.7 M587.6,549.3 L587.7,544.5 L591.4,541.7 M580.4,524.7 L591.4,541.7 M693.0,473.0 L691.2,477.1 M662.3,467.4 L672.0,483.0 M691.2,477.1 L672.0,483.0 M681.9,372.6 L676.6,372.2 M681.9,372.6 L678.2,349.2 M676.6,372.2 L665.5,355.6 M678.2,349.2 L665.5,355.6 M686.7,374.8 L681.9,372.6 M656.3,380.6 L665.9,374.5 L676.6,372.2 M681.8,345.0 L678.2,349.2 M659.5,355.4 L665.5,355.6 M664.1,332.7 L655.1,345.9 M610.7,346.2 L599.5,338.1 M610.7,346.2 L620.1,332.6 M620.1,332.6 L605.7,325.6 M599.5,338.1 L605.7,325.6 M611.7,349.0 L610.7,346.2 M594.5,338.9 L599.5,338.1 M626.2,330.6 L630.1,340.2 L630.3,346.3 M626.2,330.6 L620.1,332.6 M604.4,314.1 L606.8,321.6 L605.7,325.6 M605.5,312.5 L615.2,317.3 L629.7,325.7 M629.7,325.7 L626.2,330.6 M508.2,485.5 L511.8,480.6 M529.9,504.7 L529.6,489.5 M511.8,480.6 L529.6,489.5 M490.4,415.4 L491.4,416.2 M506.4,392.8 L508.3,412.6 M491.4,416.2 L508.3,412.6 M491.4,416.2 L490.4,422.0 L490.0,432.8 M531.8,390.7 L519.2,415.7 M508.3,412.6 L519.2,415.7 M987.7,779.0 L958.4,777.7 M955.1,770.0 L958.4,777.7 M990.8,776.2 L987.7,779.0 M858.7,542.6 L865.1,537.1 M855.3,507.4 L859.7,507.0 L866.4,510.9 M855.3,507.4 L838.7,521.5 M838.7,521.5 L838.7,532.2 M866.4,510.9 L865.1,537.1 M846.2,486.8 L853.0,498.7 L855.3,507.4 M863.4,480.2 L872.6,491.2 L880.6,504.2 M866.4,510.9 L875.3,506.4 L880.6,504.2 M893.8,748.5 L888.3,748.7 L883.1,746.3 M893.8,748.5 L909.7,730.5 M909.7,730.5 L891.5,727.7 L877.3,726.1 M877.3,726.1 L881.9,745.0 M881.9,745.0 L883.1,746.3 M874.0,770.5 L883.1,746.3 M925.0,730.8 L919.6,731.0 L912.4,728.7 M912.4,728.7 L909.7,730.5 M862.0,768.0 L860.6,749.0 M860.6,749.0 L881.9,745.0 M915.7,581.6 L905.0,587.5 L898.2,589.3 M915.7,581.6 L902.8,562.6 M902.8,562.6 L890.5,562.3 L883.2,566.4 M898.2,589.3 L894.9,588.2 M894.9,588.2 L881.3,571.9 M881.3,571.9 L881.4,568.1 M883.2,566.4 L881.4,568.1 M864.4,586.7 L881.3,571.9 M877.1,602.3 L894.9,588.2 M877.1,602.3 L873.5,599.4 L865.8,600.4 M859.2,552.8 L881.4,568.1 M860.7,584.5 L864.4,586.7 M889.4,543.9 L879.9,536.1 M879.9,536.1 L873.0,536.2 L865.1,537.1 M509.8,679.9 L536.9,682.2 M509.8,679.9 L516.2,709.0 M536.9,682.2 L537.0,682.4 M537.0,682.4 L534.1,689.7 L534.5,701.6 M534.5,701.6 L516.2,709.0 M502.3,675.8 L493.0,680.5 M502.3,675.8 L509.8,679.9 M493.0,680.5 L494.1,688.3 L491.0,693.6 M491.0,693.6 L502.8,705.5 L510.4,714.1 M578.3,733.6 L600.8,733.6 M578.3,733.6 L577.2,739.4 L579.5,749.2 M579.5,749.2 L582.3,753.2 M582.3,753.2 L591.0,756.2 L602.0,755.4 M600.8,733.6 L600.2,743.7 L602.0,755.4 M611.4,724.6 L604.4,718.3 L600.4,707.3 M611.4,724.6 L606.1,729.5 L600.8,733.6 M575.2,730.6 L586.0,709.6 M575.2,730.6 L578.3,733.6 M600.4,707.3 L586.0,709.6 M549.4,747.8 L560.5,757.2 M549.4,747.8 L558.4,727.8 M575.2,730.6 L558.4,727.8 M560.5,757.2 L568.4,754.9 L579.5,749.2 M577.9,777.6 L582.3,753.2 M577.9,777.6 L567.0,777.3 M567.0,777.3 L565.6,776.2 M565.6,776.2 L562.9,764.5 L560.5,757.2 M127.0,235.3 L129.1,232.5 L135.1,228.5 M153.5,246.0 L149.8,239.2 L142.1,229.6 M142.1,229.6 L135.1,228.5 M167.5,221.6 L159.2,220.4 M142.1,229.6 L152.8,226.2 L159.2,220.4 M105.2,206.0 L131.7,208.6 M135.1,228.5 L131.7,216.6 L131.7,208.6 M55.4,201.0 L52.4,212.6 L53.5,226.7 M78.0,226.4 L71.4,232.5 M53.5,226.7 L71.4,232.5 M28.5,227.0 L49.1,229.5 M53.5,226.7 L49.1,229.5 M80.9,253.2 L72.5,244.5 M71.4,232.5 L70.6,238.6 L72.5,244.5 M6.4,314.9 L16.3,318.6 L24.9,325.1 M7.0,307.6 L17.9,298.9 L28.7,292.2 M24.9,325.1 L34.2,295.4 M28.7,292.2 L34.2,295.4 M24.9,325.1 L28.3,328.0 M34.2,295.4 L51.3,300.4 M120.6,276.7 L122.2,284.3 L123.9,292.0 M97.0,286.7 L104.0,298.7 M146.9,293.4 L141.1,296.3 L133.4,297.6 M142.1,327.7 L125.9,320.1 M133.4,297.6 L125.9,320.1 M133.4,297.6 L123.9,292.0 M115.5,347.4 L119.3,333.8 L122.5,321.2 M125.9,320.1 L122.5,321.2 M26.4,362.3 L22.9,369.3 M26.4,362.3 L23.4,356.7 L19.5,350.6 M22.9,369.3 L3.2,367.6 M19.5,350.6 L-1.4,349.5 M-1.4,349.5 L-2.1,362.8 M-2.1,362.8 L3.2,367.6 M52.0,344.9 L51.0,342.6 M43.1,363.3 L26.4,362.3 M29.2,331.7 L19.5,350.6 M18.6,390.3 L22.9,369.3 M-5.4,345.8 L-1.4,349.5 M-18.0,384.0 L-2.1,362.8 M46.6,418.9 L57.2,394.1 M46.6,418.9 L39.2,417.5 L35.9,419.8 M35.9,419.8 L31.0,409.6 L27.0,395.2 M27.0,395.2 L45.5,386.8 M57.2,394.1 L45.5,386.8 M75.5,393.5 L64.6,392.6 L57.2,394.1 M53.8,421.6 L46.6,418.9 M32.0,425.1 L35.9,419.8 M19.3,391.2 L24.5,393.9 L27.0,395.2 M106.1,755.2 L97.7,748.7 M106.1,755.2 L117.0,754.0 M97.7,748.7 L103.9,724.8 M117.0,754.0 L121.1,746.8 M121.1,746.8 L124.1,731.0 M103.9,724.8 L114.6,728.0 L124.1,731.0 M87.0,778.3 L93.5,777.9 M93.5,777.9 L106.1,755.2 M86.0,749.8 L92.5,751.7 L97.7,748.7 M98.9,780.1 L93.5,777.9 M126.3,776.1 L125.3,777.1 M126.3,776.1 L122.1,765.0 L117.0,754.0 M103.8,724.7 L103.9,724.8 M167.0,755.6 L170.7,765.6 L174.9,771.0 M167.0,755.6 L155.4,753.2 M174.9,771.0 L148.1,782.9 M155.4,753.2 L147.7,759.9 M147.7,759.9 L139.4,773.8 M139.4,773.8 L148.1,782.9 M176.1,772.3 L174.9,771.0 M125.6,730.2 L148.0,736.0 M125.6,730.2 L124.1,731.0 M148.0,736.0 L155.4,753.2 M121.1,746.8 L147.7,759.9 M126.3,776.1 L139.4,773.8 M263.1,751.1 L256.5,752.6 M277.0,774.4 L262.4,776.7 L246.9,781.8 M246.9,781.8 L253.2,769.6 L256.5,752.6 M245.9,721.1 L240.1,725.5 M240.1,725.5 L245.4,748.8 M245.4,748.8 L256.5,752.6 M246.9,781.8 L246.1,782.5 M176.1,772.3 L186.5,773.4 L192.4,775.3 M167.1,611.8 L168.5,632.5 M167.1,611.8 L196.4,611.4 M194.7,621.1 L186.0,630.0 L174.3,634.7 M194.7,621.1 L195.4,613.9 L196.4,611.4 M174.3,634.7 L168.5,632.5 M161.5,605.7 L163.8,607.2 L167.1,611.8 M147.7,639.6 L168.5,632.5 M147.7,639.6 L146.2,639.1 M198.0,608.9 L196.4,611.4 M219.8,642.9 L201.4,633.8 M201.4,633.8 L194.7,621.1 M218.9,651.9 L217.4,654.9 M244.3,674.5 L235.4,675.3 L225.1,673.5 M217.4,654.9 L222.1,665.4 L225.1,673.5 M236.5,697.5 L228.0,698.0 M228.0,698.0 L221.2,692.7 L218.6,684.6 M218.6,684.6 L224.3,679.3 L225.1,673.5 M201.4,633.8 L186.9,652.6 M217.4,654.9 L209.1,656.9 L199.3,662.4 M199.3,662.4 L186.9,652.6 M174.3,634.7 L182.4,651.9 M186.9,652.6 L182.4,651.9 M147.7,639.6 L156.6,655.8 M156.6,655.8 L179.5,654.4 M182.4,651.9 L179.5,654.4 M104.2,681.3 L114.5,684.4 L120.6,683.1 M130.1,670.5 L130.9,675.9 M130.9,675.9 L120.6,683.1 M99.9,712.9 L123.0,699.6 M120.6,683.1 L123.0,699.6 M125.6,730.2 L129.2,720.2 L131.4,710.4 M123.0,699.6 L128.7,704.8 L131.4,710.4 M931.3,536.0 L922.1,553.2 M931.3,536.0 L927.9,529.5 M927.9,529.5 L909.4,526.7 M909.4,526.7 L905.3,541.5 M905.3,541.5 L909.8,549.2 M909.8,549.2 L922.1,553.2 M930.1,562.9 L924.6,558.5 L922.1,553.2 M949.9,556.5 L952.4,543.7 M952.4,543.7 L931.3,536.0 M889.4,543.9 L905.3,541.5 M902.8,562.6 L909.8,549.2 M923.5,581.4 L922.8,582.0 M922.8,582.0 L915.7,581.6 M879.9,536.1 L890.0,517.8 M909.4,526.7 L908.3,524.2 M908.3,524.2 L901.6,522.4 L890.0,517.8 M876.8,467.1 L892.5,493.6 M880.6,504.2 L881.8,504.2 M892.5,493.6 L888.0,498.9 L881.8,504.2 M881.8,504.2 L883.4,513.0 L890.0,517.8 M924.6,502.3 L915.5,506.0 M924.6,502.3 L928.3,492.5 M915.5,506.0 L897.3,492.3 M901.3,486.4 L897.3,492.3 M938.6,515.4 L932.6,507.1 L924.6,502.3 M938.6,515.4 L927.9,529.5 M946.9,515.3 L950.4,490.5 M946.9,515.3 L938.6,515.4 M950.4,490.5 L928.3,492.5 M905.6,465.0 L918.2,465.0 L926.6,467.1 M905.6,465.0 L901.3,486.4 M926.6,467.1 L926.8,474.2 L925.7,485.8 M892.5,493.6 L897.3,492.3 M905.6,465.0 L904.3,463.7 M904.3,463.7 L877.7,466.6 M987.5,519.2 L977.3,499.9 M987.5,519.2 L963.9,535.3 M977.3,499.9 L956.0,521.3 M956.0,521.3 L959.9,534.7 M963.9,535.3 L959.9,534.7 M1005.5,492.6 L1006.8,512.3 M1005.5,492.6 L998.8,489.9 M997.5,525.0 L987.5,519.2 M977.6,497.6 L998.8,489.9 M977.6,497.6 L977.3,499.9 M952.4,543.7 L959.9,534.7 M946.9,515.3 L956.0,521.3 M1028.6,439.9 L1027.3,441.0 M998.1,437.1 L1002.5,418.4 M998.1,437.1 L1001.5,441.6 L1004.7,449.7 M1027.3,441.0 L1004.7,449.7 M1049.4,451.4 L1049.4,453.8 M1046.8,608.4 L1037.8,607.5 L1029.0,610.0 M1029.0,610.0 L1024.5,600.5 L1023.7,587.8 M1027.1,631.5 L1027.5,611.7 M1029.0,610.0 L1027.5,611.7 M1002.0,560.1 L1004.9,574.8 L1004.0,591.0 M1023.7,587.8 L1004.0,591.0 M981.7,588.7 L1001.2,593.7 M999.6,636.7 L1006.2,628.7 M999.6,636.7 L976.2,632.6 M1006.2,628.7 L1003.8,619.6 L1003.1,609.9 M976.3,618.8 L991.2,614.3 L1001.7,607.9 M976.3,618.8 L974.4,629.4 M1001.7,607.9 L1003.1,609.9 M974.4,629.4 L976.2,632.6 M1002.5,651.8 L1000.1,643.2 L999.6,636.7 M986.2,661.6 L973.1,646.4 M973.1,646.4 L976.2,632.6 M1027.5,611.7 L1017.2,609.4 L1003.1,609.9 M968.6,604.1 L976.3,618.8 M1001.2,593.7 L1001.7,607.9 M954.7,601.7 L947.5,608.2 L943.8,610.5 M950.1,628.8 L943.8,610.5 M950.1,628.8 L962.3,630.8 L974.4,629.4 M508.2,50.8 L503.5,54.7 L495.3,55.2 M495.3,55.2 L490.7,58.9 L485.1,66.5 M485.1,66.5 L485.4,68.7 M501.9,82.2 L494.1,77.9 M485.4,68.7 L494.1,77.9 M655.4,321.2 L641.1,301.3 M655.4,321.2 L641.7,327.3 M641.7,327.3 L639.1,326.5 L632.1,324.1 M641.1,301.3 L640.5,301.5 M632.1,324.1 L633.1,319.0 L632.2,316.0 M661.4,321.5 L655.4,321.2 M629.7,325.7 L632.1,324.1 M614.6,303.6 L632.2,316.0 M628.9,296.2 L640.5,301.5 M607.6,303.9 L606.6,308.0 L605.5,312.5 M615.9,269.2 L616.6,273.5 M615.9,269.2 L617.4,263.2 L621.6,258.3 M616.6,273.5 L625.7,277.6 M625.7,277.6 L626.6,277.4 M621.6,258.3 L629.9,254.2 M629.9,254.2 L635.7,259.2 L640.2,261.7 M626.6,277.4 L635.0,270.5 L640.2,261.7 M626.1,283.4 L625.7,277.6 M641.1,301.3 L646.2,296.4 M626.6,277.4 L646.8,282.9 M646.2,296.4 L646.8,282.9 M665.3,316.0 L656.8,299.0 M646.2,296.4 L656.8,299.0 M676.8,293.8 L668.9,294.3 L664.2,294.2 M656.8,299.0 L664.2,294.2 M646.6,263.9 L642.7,261.6 M646.6,263.9 L648.3,270.6 L647.9,281.8 M640.2,261.7 L642.7,261.6 M647.9,281.8 L646.8,282.9 M615.9,269.2 L609.6,267.1 L607.8,262.2 M592.7,264.3 L591.1,266.8 L591.4,272.5 M616.6,273.5 L610.0,278.7 M610.0,278.7 L591.5,272.8 M591.4,272.5 L591.5,272.8 M585.3,301.5 L604.4,298.7 M585.3,301.5 L584.4,294.3 L584.6,284.5 M585.7,284.1 L603.8,295.2 M604.4,298.7 L603.8,295.2 M610.0,278.7 L603.8,295.2 M591.5,272.8 L590.1,280.6 L585.7,284.1 M607.5,303.7 L604.4,298.7 M596.6,147.4 L602.9,144.8 M602.9,144.8 L609.0,157.7 M603.9,167.4 L600.6,170.8 M600.6,170.8 L595.6,172.8 M595.6,172.8 L593.4,166.5 M625.7,159.4 L617.6,156.2 L609.0,157.7 M603.9,142.6 L602.9,144.8 M622.6,145.3 L628.3,151.4 M623.2,171.9 L603.9,167.4 M617.9,181.5 L621.8,175.3 M617.9,181.5 L600.6,170.8 M617.9,181.5 L617.1,195.8 M592.8,176.5 L595.6,172.8 M571.3,123.1 L580.9,120.4 M571.3,123.1 L562.3,101.8 M562.3,101.8 L576.0,97.3 M585.3,117.0 L584.1,103.0 M585.3,117.0 L580.9,120.4 M576.0,97.3 L578.3,100.1 L584.1,103.0 M552.0,117.7 L562.4,131.8 M552.0,117.7 L551.2,100.7 M553.5,99.3 L562.3,101.8 M562.4,131.8 L568.3,131.0 M584.5,78.3 L576.0,97.3 M604.3,101.2 L584.1,103.0 M604.3,101.2 L608.6,105.4 M599.0,120.0 L585.3,117.0 M597.1,130.6 L592.3,131.3 L588.7,131.8 M588.7,131.8 L587.1,124.5 L580.9,120.4 M604.3,101.2 L601.7,89.7 L598.8,78.0 M604.9,231.1 L607.8,235.6 L608.0,244.6 M604.9,231.1 L610.2,226.7 M610.2,226.7 L621.4,238.3 M621.4,238.3 L613.3,244.5 M608.0,244.6 L613.3,244.5 M586.5,234.2 L587.5,229.1 M603.3,248.0 L608.0,244.6 M587.5,229.1 L592.3,228.6 M609.3,213.4 L603.0,221.2 L592.3,228.6 M612.7,219.2 L610.2,226.7 M621.6,258.3 L613.3,244.5 M622.1,238.1 L628.6,243.2 L630.6,250.2 M630.6,250.2 L629.9,254.2 M678.7,171.8 L661.2,175.9 M690.2,175.2 L680.5,190.6 M663.9,192.0 L667.6,192.1 L675.6,193.1 M663.9,192.0 L660.9,176.5 M680.5,190.6 L675.6,193.1 M697.4,202.1 L697.2,202.1 M680.5,190.6 L691.1,196.3 L697.2,202.1 M694.0,148.9 L689.4,142.1 L681.4,139.6 M676.7,158.1 L671.9,153.0 M671.9,153.0 L681.4,139.6 M657.9,156.3 L660.7,154.5 M671.9,153.0 L665.5,153.7 L660.7,154.5 M680.8,225.0 L693.5,227.2 M693.5,227.2 L685.2,209.4 M679.5,211.7 L683.8,209.4 M685.2,209.4 L683.8,209.4 M694.3,227.8 L693.5,227.2 M676.2,228.0 L680.8,225.0 M697.2,202.1 L685.2,209.4 M675.6,193.1 L683.8,209.4 M786.1,111.3 L778.9,94.2 M786.1,111.3 L808.1,104.7 M808.1,104.7 L791.1,84.3 M791.1,84.3 L778.6,90.9 M778.6,90.9 L778.9,94.2 M810.0,104.8 L808.1,104.7 M800.2,72.0 L791.1,84.3 M774.0,87.4 L778.6,90.9 M757.4,110.6 L778.9,94.2 M757.4,110.6 L745.5,108.1 M650.1,30.3 L647.4,32.3 M628.0,30.2 L629.6,32.1 M647.4,32.3 L629.6,32.1 M799.3,250.7 L790.5,254.2 M799.3,250.7 L811.4,256.9 M813.7,266.6 L810.6,259.5 L811.4,256.9 M813.7,266.6 L793.7,281.3 M790.5,254.2 L785.5,264.2 M785.5,264.2 L793.7,281.3 M774.9,242.5 L781.5,248.7 L790.5,254.2 M772.5,229.7 L785.1,223.2 M785.1,223.2 L799.7,228.3 M799.7,228.3 L797.8,238.5 L799.3,250.7 M792.8,285.7 L793.7,281.3 M822.8,274.2 L816.1,268.8 L813.7,266.6 M769.6,266.7 L785.5,264.2 M765.9,140.0 L766.6,139.9 M765.5,170.9 L780.2,153.3 M780.2,153.3 L766.6,139.9 M757.4,110.6 L764.5,118.7 L775.2,122.4 M766.6,139.9 L768.8,131.2 L775.2,122.4 M786.1,111.3 L783.3,118.4 M783.3,118.4 L775.2,122.4 M815.7,124.8 L812.2,126.5 L809.8,131.1 M783.3,118.4 L800.1,134.9 M809.8,131.1 L800.1,134.9 M864.3,184.3 L848.5,180.7 M864.3,184.3 L869.5,194.9 L872.4,201.2 M872.4,201.2 L866.5,204.2 L865.3,208.8 M841.0,203.6 L840.4,202.3 M841.0,203.6 L862.8,209.2 M878.8,200.5 L872.4,201.2 M878.8,200.5 L885.9,196.5 M871.5,171.0 L864.3,184.3 M885.9,196.5 L891.0,182.9 M878.8,200.5 L895.1,226.7 M872.7,227.9 L865.3,208.8 M888.9,350.2 L886.3,369.7 M866.5,368.1 L869.9,373.3 M869.9,373.3 L879.9,370.0 L886.3,369.7 M912.0,366.1 L888.2,371.4 M1049.8,268.2 L1034.5,270.0 M1049.8,268.2 L1055.4,283.3 L1058.9,295.0 M1034.5,270.0 L1032.2,284.5 M1032.2,284.5 L1050.4,300.0 M1058.9,295.0 L1055.2,295.3 L1050.4,300.0 M1052.9,266.1 L1049.8,268.2 M1018.3,296.6 L1032.2,284.5 M1018.3,296.6 L1044.5,315.2 M1044.5,315.2 L1050.4,300.0 M1044.5,315.2 L1044.7,321.6 M1054.2,216.6 L1053.5,219.4 M1059.8,243.0 L1058.8,241.9 M1000.0,341.5 L1009.2,355.0 M1000.0,341.5 L990.3,341.3 M990.3,341.3 L980.0,361.7 M1008.8,359.0 L1009.2,355.0 M1008.8,359.0 L995.1,368.5 M995.1,368.5 L980.0,361.7 M1011.0,321.5 L1000.0,341.5 M1011.0,321.5 L1025.1,327.3 M1024.6,346.5 L1015.6,349.3 L1009.2,355.0 M960.4,342.5 L972.9,336.9 L984.0,336.0 M984.0,336.0 L988.2,339.1 L990.3,341.3 M969.7,363.5 L980.0,361.7 M995.7,386.8 L994.7,378.4 L995.1,368.5 M983.6,392.9 L967.8,393.3 M956.3,323.5 L959.1,318.4 L961.5,314.6 M984.0,336.0 L982.2,314.0 M982.2,314.0 L961.5,314.6 M935.2,294.5 L954.8,299.1 M961.5,314.6 L954.8,299.1 M963.0,280.8 L964.2,286.2 M954.8,299.1 L964.2,286.2 M912.3,223.1 L911.3,213.5 L909.5,205.9 M912.3,223.1 L927.5,225.4 M927.5,225.4 L939.3,204.9 M909.5,205.9 L915.9,195.5 M939.3,204.9 L930.9,197.0 L925.6,192.6 M925.6,192.6 L915.9,195.5 M907.2,227.4 L912.3,223.1 M885.9,196.5 L909.5,205.9 M937.0,234.1 L930.6,227.3 L927.5,225.4 M958.5,200.3 L948.1,202.4 L939.3,204.9 M907.1,180.8 L915.9,195.5 M932.7,179.0 L925.6,192.6 M845.3,252.0 L824.6,245.6 M845.3,252.0 L852.3,246.1 M852.3,246.1 L847.5,232.3 M847.5,232.3 L839.1,226.7 L831.5,220.2 M824.6,245.6 L820.4,224.2 M831.5,220.2 L820.4,224.2 M841.7,273.1 L842.7,264.4 L845.3,252.0 M811.4,256.9 L824.6,245.6 M861.2,246.1 L856.1,248.0 L852.3,246.1 M862.8,209.2 L847.5,232.3 M799.7,228.3 L813.6,221.7 M813.6,221.7 L808.8,198.5 M816.2,187.9 L814.9,193.0 L808.8,198.5 M816.2,187.9 L840.4,202.3 M966.7,33.0 L945.8,30.0 M942.8,35.2 L948.5,55.1 M948.5,55.1 L962.6,54.7 M962.8,54.8 L962.6,54.7 M975.6,30.1 L971.1,32.9 L966.7,33.0 M925.1,38.2 L942.8,35.2 M924.7,61.2 L931.4,62.5 L941.6,66.7 M924.7,61.2 L913.7,74.1 M913.7,74.1 L921.0,83.5 M921.0,83.5 L932.5,79.5 L942.8,72.3 M941.6,66.7 L942.8,72.3 M918.5,50.9 L919.2,54.1 L924.7,61.2 M948.5,55.1 L941.6,66.7 M902.1,74.2 L905.4,74.7 L913.7,74.1 M920.4,103.0 L921.0,83.5 M946.0,77.4 L942.8,72.3 M840.6,485.0 L829.1,489.6 M838.7,521.5 L835.7,517.7 L827.9,509.6 M829.1,489.6 L828.3,498.8 L827.9,509.6 M813.8,533.4 L810.7,527.5 L807.6,517.1 M827.9,509.6 L819.1,514.9 L807.6,517.1 M835.0,445.5 L825.3,440.0 M836.6,464.5 L811.3,463.2 M817.4,443.6 L811.2,449.7 M811.3,463.2 L811.2,449.7 M779.6,437.4 L782.6,440.3 M811.2,449.7 L782.6,440.3 M760.2,443.4 L753.7,459.3 M753.7,459.3 L777.0,474.9 M782.6,440.3 L787.3,467.3 M777.0,474.9 L787.3,467.3 M811.3,463.2 L807.8,472.3 M829.1,489.6 L817.9,487.6 L810.5,483.4 M807.8,472.3 L810.5,483.4 M807.6,517.1 L805.9,516.1 M805.9,516.1 L809.6,484.3 M810.5,483.4 L809.6,484.3 M758.8,536.0 L759.1,535.6 M721.8,535.7 L731.2,512.5 M731.2,512.5 L743.6,512.5 M743.6,512.5 L753.5,522.4 L759.1,535.6 M783.5,536.0 L777.0,527.7 M805.9,516.1 L781.5,516.5 M781.5,516.5 L780.1,522.7 L777.0,527.7 M783.6,560.8 L776.4,565.4 M776.4,565.4 L764.5,564.6 M759.1,535.6 L777.0,527.7 M720.7,460.5 L729.5,467.2 M753.7,459.3 L751.8,460.8 M751.8,460.8 L740.7,466.4 L729.5,467.2 M145.0,80.7 L147.1,79.1 M168.4,101.0 L174.0,77.2 M174.0,77.2 L171.9,74.9 M147.1,79.1 L158.7,75.8 L171.9,74.9 M196.9,105.7 L199.6,94.3 L199.2,86.1 M174.0,77.2 L195.7,83.3 M199.2,86.1 L195.7,83.3 M227.7,102.1 L220.6,87.6 M220.6,87.6 L211.5,82.3 M199.2,86.1 L211.5,82.3 M171.9,74.9 L170.6,66.6 L172.6,53.5 M195.7,83.3 L197.6,54.5 M147.3,193.9 L149.7,188.0 L151.2,183.5 M147.3,193.9 L145.0,196.5 M139.6,198.6 L145.0,196.5 M139.6,198.6 L126.8,185.5 L112.8,177.1 M112.8,177.1 L116.9,174.2 M116.9,174.2 L146.2,174.6 M146.2,174.6 L151.2,183.5 M172.3,204.2 L147.3,193.9 M167.1,180.1 L151.2,183.5 M159.2,220.4 L145.0,196.5 M131.7,208.6 L139.6,198.6 M108.9,177.9 L112.8,177.1 M146.9,160.8 L146.2,174.6 M270.5,101.6 L261.2,104.1 L254.5,104.0 M270.5,101.6 L271.6,92.7 L277.7,83.9 M254.5,104.0 L249.6,99.6 M249.6,99.6 L245.3,79.0 M277.7,83.9 L267.3,74.0 M267.3,74.0 L257.2,73.7 L247.2,71.9 M247.2,71.9 L245.3,79.0 M247.7,129.3 L254.5,104.0 M274.9,123.0 L273.9,105.0 M273.9,105.0 L270.5,101.6 M228.2,102.6 L236.5,99.0 L249.6,99.6 M220.6,87.6 L245.3,79.0 M245.2,67.3 L247.2,71.9 M272.9,48.3 L275.4,50.8 M275.4,50.8 L267.3,74.0 M240.8,62.3 L222.4,58.8 M211.5,82.3 L222.4,58.8 M315.3,38.4 L310.2,28.6 M315.3,38.4 L314.6,45.3 L316.7,50.5 M310.2,28.6 L297.0,25.1 M294.2,30.0 L295.3,53.4 M316.7,50.5 L295.3,53.4 M275.4,50.8 L292.1,55.8 M287.7,80.4 L292.7,75.6 M287.7,80.4 L277.7,83.9 M292.7,75.6 L292.1,55.8 M292.1,55.8 L295.3,53.4 M586.2,330.4 L584.6,322.4 M567.2,342.7 L564.7,333.6 L566.3,325.4 M566.3,325.4 L569.7,322.0 M569.7,322.0 L584.6,322.4 M604.4,314.1 L596.5,318.5 L587.3,318.5 M584.6,322.4 L587.3,318.5 M585.3,301.5 L581.0,304.7 M587.3,318.5 L582.6,309.3 L581.0,304.7 M551.3,340.7 L548.3,328.6 M566.3,325.4 L553.5,322.0 M548.3,328.6 L553.5,322.0 M535.5,347.1 L530.2,326.8 M548.3,328.6 L530.2,326.8 M506.6,345.1 L530.2,326.8 M530.2,326.8 L530.2,326.8 M277.8,346.4 L294.6,340.8 M277.8,346.4 L277.3,356.2 L272.8,363.0 M297.3,342.4 L294.6,340.8 M290.8,375.5 L274.6,366.0 M272.8,363.0 L274.6,366.0 M241.9,350.9 L246.0,360.2 M268.7,335.9 L277.8,346.4 M272.8,363.0 L246.0,360.2 M219.5,382.2 L221.6,383.2 M246.0,360.2 L245.4,361.8 M245.4,361.8 L222.7,382.8 M222.7,382.8 L221.6,383.2 M193.0,391.7 L193.3,399.7 L197.1,408.5 M193.0,391.7 L167.4,392.8 M197.1,408.5 L177.9,419.1 M167.4,392.8 L168.9,406.4 L169.7,415.3 M169.7,415.3 L177.9,419.1 M163.9,390.0 L167.4,392.8 M194.9,389.0 L193.0,391.7 M153.5,425.7 L169.7,415.3 M183.4,435.0 L178.9,439.8 L175.5,446.8 M183.4,435.0 L177.9,419.1 M301.6,418.5 L300.2,419.1 M300.2,419.1 L287.4,415.5 L276.9,414.5 M290.8,385.6 L278.9,396.6 M276.9,414.5 L277.1,403.7 L278.9,396.6 M274.6,366.0 L267.6,377.5 L261.9,387.8 M278.9,396.6 L271.4,393.4 L261.9,387.8 M245.4,361.8 L254.3,389.9 M261.9,387.8 L254.3,389.9 M222.7,382.8 L251.1,393.9 M254.3,389.9 L251.1,393.9 M203.6,413.8 L215.8,411.5 M203.6,413.8 L202.1,433.2 M215.8,411.5 L221.4,425.6 L228.0,436.7 M207.1,438.6 L202.1,433.2 M207.1,438.6 L216.3,436.4 L224.8,438.4 M224.8,438.4 L228.0,436.7 M221.6,383.2 L223.3,405.0 M223.3,405.0 L217.9,407.6 L215.8,411.5 M197.1,408.5 L203.6,413.8 M183.4,435.0 L194.4,435.7 L202.1,433.2 M199.5,463.9 L198.3,464.6 M199.5,463.9 L210.1,467.1 L221.1,465.4 M221.1,465.4 L224.8,438.4 M505.5,665.1 L498.2,654.7 L490.0,646.8 M505.5,665.1 L510.4,661.3 M510.4,661.3 L508.6,631.4 M508.6,631.4 L497.9,635.9 L492.0,639.0 M492.0,639.0 L490.0,646.8 M502.3,675.8 L505.5,665.1 M493.0,680.5 L485.8,676.6 M474.9,658.3 L490.0,646.8 M509.1,607.9 L509.6,630.5 M509.6,630.5 L508.6,631.4 M483.1,631.9 L485.2,635.5 L492.0,639.0 M467.3,628.9 L463.6,632.3 M552.9,656.0 L538.2,659.0 M552.9,656.0 L560.6,648.0 L563.9,638.0 M534.6,655.6 L538.2,659.0 M559.4,633.1 L563.9,638.0 M559.4,633.1 L539.4,629.2 M539.4,629.2 L532.7,635.3 L530.4,639.7 M509.6,630.5 L530.4,639.7 M510.4,661.3 L521.5,657.6 L534.6,655.6 M536.9,682.2 L537.5,670.0 L538.2,659.0 M560.2,609.1 L559.4,633.1 M580.0,637.3 L563.9,638.0 M539.6,612.2 L539.4,629.2 M559.1,685.7 L555.4,684.1 M559.1,685.7 L575.5,681.4 M575.5,681.4 L574.5,671.6 L574.2,666.2 M574.2,666.2 L567.8,662.8 L561.7,662.3 M561.2,705.8 L577.1,701.0 M561.2,705.8 L559.1,685.7 M578.6,684.2 L580.0,691.6 L577.1,701.0 M578.6,684.2 L575.5,681.4 M537.0,682.4 L555.4,684.1 M552.9,656.0 L561.7,662.3 M584.5,656.1 L574.2,666.2 M584.5,656.1 L583.2,640.0 M602.1,636.1 L617.3,651.9 M584.5,656.1 L595.0,661.9 M595.0,661.9 L617.3,651.9 M717.5,618.7 L716.5,624.7 M692.5,613.0 L680.9,630.6 M680.9,630.6 L689.3,637.8 M716.5,624.7 L703.2,629.8 L689.3,637.8 M628.3,608.1 L631.4,613.3 M628.5,602.0 L638.6,591.6 L644.5,578.2 M664.6,580.0 L644.5,578.2 M661.8,607.6 L631.4,613.3 M603.0,634.0 L631.4,615.9 M631.4,613.3 L631.4,615.9 M832.5,760.1 L857.3,747.0 M832.5,760.1 L826.0,752.6 M826.0,752.6 L833.9,730.3 M833.9,730.3 L840.7,725.1 L852.1,724.7 M857.3,747.0 L855.5,735.7 L852.1,724.7 M835.6,768.4 L832.5,760.1 M860.6,749.0 L857.3,747.0 M858.0,719.0 L865.3,722.2 L877.2,726.0 M858.0,719.0 L852.1,724.7 M826.6,780.0 L813.0,784.7 M813.0,784.7 L803.9,775.1 M826.0,752.6 L819.5,752.4 M819.5,752.4 L803.9,775.1 M829.2,725.2 L833.9,730.3 M829.2,725.2 L807.7,720.3 M819.5,752.4 L811.3,751.7 L807.2,747.7 M807.2,747.7 L799.6,737.8 L796.1,729.2 M796.1,729.2 L800.8,727.1 L807.7,720.3 M799.9,677.7 L789.6,681.9 M789.6,681.9 L787.7,699.3 M814.5,699.4 L807.4,689.8 L801.7,678.8 M814.5,699.4 L809.6,704.1 M809.6,704.1 L798.0,703.8 L787.7,699.3 M814.5,699.4 L822.6,699.1 L827.8,697.3 M809.6,704.1 L807.7,720.3 M754.6,692.3 L754.6,692.1 M754.6,692.3 L764.7,702.5 L779.7,708.9 M754.6,692.1 L766.3,683.4 L780.0,676.6 M780.0,676.6 L789.6,681.9 M779.7,708.9 L787.7,699.3 M862.8,603.8 L839.6,602.3 M862.8,603.8 L865.8,600.4 M832.9,594.3 L839.6,602.3 M796.1,729.2 L792.2,725.5 L783.9,726.6 M779.7,708.9 L780.2,719.7 M780.2,719.7 L783.9,726.6 M745.8,710.6 L754.6,692.3 M745.8,710.6 L743.7,721.0 M780.2,719.7 L760.6,717.9 L743.7,721.0 M807.2,747.7 L784.4,765.0 M803.9,775.1 L784.7,772.9 M784.4,765.0 L784.7,772.9 M783.9,726.6 L770.5,746.5 M784.4,765.0 L770.5,746.5 M635.6,694.1 L635.9,689.7 L636.2,683.0 M635.6,694.1 L602.7,700.2 M636.2,683.0 L631.9,678.2 L627.1,672.8 M627.1,672.8 L600.7,681.3 M602.7,700.2 L598.9,683.9 M598.9,683.9 L600.7,681.3 M595.0,661.9 L597.0,671.1 L600.7,681.3 M617.3,651.9 L625.0,654.2 M625.0,654.2 L627.1,672.8 M600.4,707.3 L602.7,700.2 M586.0,709.6 L577.1,701.0 M578.6,684.2 L588.1,685.6 L598.9,683.9 M715.6,755.8 L712.5,765.6 M715.6,755.8 L700.8,748.0 L689.2,739.3 M689.4,770.8 L681.5,758.1 M689.4,770.8 L693.1,774.5 M693.1,774.5 L703.1,769.7 L712.5,765.6 M689.2,739.3 L681.5,758.1 M720.4,724.6 L720.1,697.8 M720.4,724.6 L696.8,722.7 M696.8,722.7 L697.9,708.7 L695.6,697.5 M720.1,697.8 L708.1,699.9 L695.6,697.5 M689.4,770.8 L665.5,777.5 M438.5,545.7 L437.1,557.0 M438.5,545.7 L456.4,530.1 M437.1,557.0 L448.8,553.5 L463.6,552.9 M456.4,530.1 L463.6,552.9 M459.9,521.5 L456.4,530.1 M441.0,512.9 L448.3,516.0 L459.6,518.0 M431.9,535.6 L430.6,514.9 M431.9,535.6 L438.5,545.7 M435.2,559.9 L437.1,557.0 M435.2,559.9 L438.9,573.4 M469.2,555.7 L463.6,552.9 M443.3,577.2 L438.9,573.4 M431.9,535.6 L422.5,535.3 L413.2,538.1 M435.2,559.9 L417.1,556.9 M417.1,556.9 L413.2,538.1 M438.9,573.4 L410.8,591.8 M405.8,587.5 L410.8,591.8 M405.8,587.5 L414.1,558.4 M417.1,556.9 L414.1,558.4 M421.2,511.7 L411.0,535.3 M411.0,535.3 L413.2,538.1 M457.9,471.1 L464.3,466.7 L468.9,463.4 M464.4,499.0 L455.7,486.6 M481.6,481.7 L481.8,474.3 L478.7,470.1 M478.7,470.1 L476.0,464.7 L470.2,463.9 M470.2,463.9 L468.9,463.4 M429.6,482.5 L436.1,467.5 M442.5,491.2 L447.2,487.5 L455.7,486.6 M462.9,442.9 L468.9,463.4 M434.6,464.4 L440.3,445.5 M434.6,464.4 L436.1,467.5 M465.4,512.1 L464.4,499.0 M490.3,490.2 L481.6,481.7 M502.5,464.2 L511.6,472.8 M502.5,464.2 L478.7,470.1 M511.8,480.6 L511.6,472.8 M496.8,442.1 L503.0,446.0 M496.8,442.1 L470.2,463.9 M496.8,442.1 L490.0,432.8 M316.3,510.4 L309.3,509.0 L299.9,506.4 M316.3,510.4 L323.0,501.4 L327.0,489.3 M299.9,506.4 L295.0,500.9 M295.0,500.9 L294.1,496.1 M294.1,496.1 L319.9,477.0 M327.0,489.3 L319.9,477.0 M432.4,655.4 L417.6,652.8 M409.3,678.4 L409.1,659.1 M409.1,659.1 L415.4,657.6 L417.6,652.8 M247.8,536.0 L252.3,539.6 M252.3,539.6 L251.3,555.9 M251.3,555.9 L242.6,567.0 M242.6,567.0 L227.2,559.5 M226.2,545.3 L226.0,550.0 L227.2,559.5 M222.5,563.3 L227.2,559.5 M247.4,577.2 L244.1,580.9 M247.4,577.2 L242.6,570.0 L242.6,567.0 M197.6,566.0 L196.8,552.0 L200.9,541.3 M225.0,544.2 L200.9,541.3 M225.0,544.2 L226.2,545.3 M316.3,510.4 L318.8,513.1 M327.0,489.3 L333.6,489.6 L343.3,492.6 M343.3,492.6 L342.1,511.2 M318.8,513.1 L342.1,511.2 M362.8,611.1 L380.9,607.1 M362.8,611.1 L355.6,604.5 M380.9,607.1 L385.2,586.7 M385.2,586.7 L369.7,581.9 M355.6,604.5 L369.7,581.9 M262.3,608.1 L266.1,595.2 L268.2,585.5 M262.3,608.1 L257.6,609.1 L250.9,614.0 M247.4,577.2 L257.4,580.1 L264.2,581.8 M264.2,581.8 L268.2,585.5 M264.2,581.8 L265.5,569.9 L268.0,559.5 M317.8,579.3 L310.9,586.5 M317.8,579.3 L330.3,587.1 L340.1,594.1 M343.1,602.5 L333.4,613.7 M310.9,586.5 L311.9,611.4 M333.4,613.7 L322.6,613.5 L311.9,611.4 M342.1,634.8 L363.3,630.0 M342.1,634.8 L337.2,631.4 M362.8,611.1 L363.3,630.0 M343.1,602.5 L355.6,604.5 M262.3,608.1 L273.6,614.8 M282.7,583.9 L275.6,586.6 L268.2,585.5 M282.7,583.9 L286.8,586.6 M286.8,586.6 L290.7,608.6 M273.6,614.8 L282.0,614.0 L290.7,608.6 M273.6,614.8 L278.4,621.8 L278.5,630.9 M310.9,586.5 L298.4,585.1 L286.8,586.6 M311.9,611.4 L308.5,614.2 M308.5,614.2 L300.1,614.2 M290.7,608.6 L294.9,609.6 L300.1,614.2 M195.5,533.7 L198.3,523.6 L197.0,515.6 M195.5,533.7 L172.5,544.8 M197.0,515.6 L188.5,514.2 L176.0,512.7 M172.5,544.8 L161.6,536.2 M161.6,536.2 L170.3,516.4 M170.3,516.4 L176.0,512.7 M225.0,544.2 L221.5,516.5 M221.5,516.5 L200.1,512.8 M200.9,541.3 L195.5,533.7 M200.1,512.8 L197.0,515.6 M173.1,549.6 L172.5,544.8 M167.6,486.7 L176.0,512.7 M194.3,482.0 L201.0,492.5 M201.0,492.5 L200.1,512.8 M153.1,536.9 L161.6,536.2 M152.4,509.1 L170.3,516.4 M221.5,516.5 L223.5,515.6 M246.4,517.2 L241.8,512.0 M246.4,517.2 L247.8,536.0 M223.5,515.6 L241.8,512.0 M549.4,747.8 L541.2,751.5 M565.6,776.2 L538.5,775.4 M541.2,751.5 L538.5,775.4 M461.1,698.8 L465.7,706.0 M491.0,693.6 L472.4,706.7 M465.7,706.0 L472.4,706.7 M510.4,714.1 L508.6,720.6 M508.6,720.6 L501.1,725.0 L490.0,728.0 M472.4,706.7 L480.1,719.0 L490.0,728.0 M435.0,752.1 L419.1,760.4 M435.0,752.1 L442.4,765.1 L446.1,778.3 M417.8,776.5 L427.9,782.8 L438.5,785.5 M438.5,785.5 L441.6,781.5 L446.1,778.3 M417.3,776.7 L417.8,776.5 M408.2,747.1 L419.1,760.4 M458.3,773.0 L453.0,774.5 L446.1,778.3 M321.4,656.1 L314.9,649.0 M337.2,631.4 L327.5,636.5 L316.0,642.3 M314.9,649.0 L316.0,642.3 M316.0,642.3 L310.5,634.4 M363.3,154.7 L339.9,154.1 M339.9,154.1 L334.8,148.4 M334.8,148.4 L337.6,143.3 L342.7,134.5 M334.8,148.4 L326.3,149.7 L319.0,148.1 M320.9,124.0 L319.0,148.1 M320.9,124.0 L332.1,122.3 M332.1,122.3 L342.7,134.5 M273.9,105.0 L282.9,110.0 L295.9,110.2 M287.7,80.4 L299.9,102.5 M299.9,102.5 L295.9,110.2 M291.1,134.6 L294.1,126.4 L300.3,121.3 M295.9,110.2 L300.3,121.3 M320.9,124.0 L319.3,123.0 M298.6,153.3 L313.0,154.1 M319.0,148.1 L313.0,154.1 M300.3,121.3 L312.3,120.6 L319.3,123.0 M389.4,109.5 L386.1,120.0 L385.9,126.4 M412.3,107.2 L408.0,102.6 L399.3,101.4 M412.3,107.2 L403.9,130.7 M403.9,130.7 L392.1,133.6 M392.1,133.6 L385.9,126.4 M370.3,97.1 L389.4,109.5 M370.3,97.1 L359.4,107.3 M365.1,120.9 L362.8,115.8 L359.4,107.3 M365.1,120.9 L385.9,126.4 M418.3,105.2 L412.3,107.2 M418.3,105.2 L415.6,76.2 M394.4,87.6 L415.6,76.2 M394.4,87.6 L399.3,101.4 M419.6,138.0 L403.9,130.7 M385.7,154.2 L392.1,133.6 M363.6,155.1 L363.3,154.7 M357.0,135.9 L365.1,120.9 M312.0,251.5 L319.1,254.7 M336.0,251.5 L334.9,252.9 M333.4,226.9 L332.4,226.1 M319.4,224.2 L332.4,226.1 M334.9,252.9 L319.1,254.7 M301.3,254.9 L301.4,269.4 M319.1,254.7 L318.1,267.1 L321.4,277.8 M321.4,277.8 L305.5,277.1 M301.4,269.4 L305.5,277.1 M271.3,267.5 L273.5,274.7 M301.4,269.4 L273.5,274.7 M270.7,292.5 L272.4,291.8 M272.4,291.8 L273.5,274.7 M272.2,325.7 L291.0,315.9 M294.6,340.8 L293.7,320.4 M272.4,291.8 L290.8,300.6 M305.5,277.1 L293.6,299.2 M290.8,300.6 L293.6,299.2 M315.6,185.3 L318.0,196.9 M315.6,185.3 L323.6,174.6 M318.0,196.9 L341.1,200.0 M323.6,174.6 L334.3,174.5 M334.3,174.5 L341.8,179.7 L347.2,180.9 M347.2,180.9 L345.4,186.9 L346.2,196.5 M346.2,196.5 L341.1,200.0 M290.5,182.2 L315.6,185.3 M312.8,210.1 L318.0,196.9 M313.0,154.1 L323.6,174.6 M339.9,154.1 L335.3,166.3 L334.3,174.5 M356.6,175.6 L347.2,180.9 M366.4,211.5 L346.2,196.5 M374.0,320.0 L383.4,317.7 M374.0,320.0 L372.2,308.2 L366.2,296.9 M383.4,317.7 L387.5,296.5 M366.2,296.9 L372.1,293.0 M369.9,323.8 L369.5,331.4 L372.2,338.5 M369.9,323.8 L374.0,320.0 M372.2,338.5 L387.9,347.2 M396.5,339.6 L394.1,343.1 L387.9,347.2 M396.9,324.2 L389.0,322.9 L383.4,317.7 M678.7,275.2 L678.7,275.7 M678.7,275.2 L674.4,265.7 M678.6,275.9 L658.7,280.9 M678.6,275.9 L678.7,275.7 M660.4,263.0 L657.8,269.4 L656.2,280.3 M656.2,280.3 L658.7,280.9 M700.1,256.8 L678.7,275.2 M703.3,278.6 L692.6,277.4 L678.7,275.7 M677.7,254.4 L674.4,265.7 M678.7,291.8 L678.6,275.9 M664.2,294.2 L660.3,286.1 L658.7,280.9 M657.7,261.2 L653.4,261.3 L646.6,263.9 M657.7,261.2 L660.4,263.0 M647.9,281.8 L656.2,280.3 M543.5,176.0 L547.5,171.4 M543.5,176.0 L542.9,181.8 M542.9,181.8 L544.7,186.9 L549.9,189.0 M549.9,189.0 L560.0,178.8 M547.5,171.4 L560.0,178.8 M583.6,190.5 L582.8,191.6 M589.5,177.7 L571.4,169.1 M582.8,191.6 L571.7,194.2 M568.9,193.0 L571.7,194.2 M568.9,193.0 L565.4,183.6 L564.4,178.6 M571.4,169.1 L564.4,178.6 M550.8,200.3 L551.3,193.9 L549.9,189.0 M550.8,200.3 L555.7,199.5 M568.9,193.0 L555.7,199.5 M564.4,178.6 L560.0,178.8 M588.7,131.8 L580.0,139.4 M568.3,131.0 L570.0,133.4 M580.0,139.4 L573.4,137.5 L570.0,133.4 M547.5,171.4 L546.0,163.4 L547.6,155.1 M571.4,169.1 L569.5,161.3 M569.5,161.3 L564.1,157.7 M564.1,157.7 L548.1,154.8 M547.6,155.1 L548.1,154.8 M562.4,131.8 L550.5,137.6 M570.0,133.4 L564.1,157.7 M548.1,154.8 L550.5,137.6 M552.0,117.7 L543.7,131.4 M550.5,137.6 L543.7,131.4 M534.3,104.6 L531.8,114.0 L531.2,122.9 M531.2,122.9 L535.0,128.0 M543.7,131.4 L535.0,128.0 M547.6,155.1 L535.4,155.1 M535.0,128.0 L528.2,147.2 M528.2,147.2 L529.4,149.6 L535.4,155.1 M543.5,176.0 L532.9,173.5 M532.9,173.5 L527.0,166.5 M527.0,166.5 L527.1,165.7 M527.1,165.7 L535.4,155.1 M531.2,122.9 L525.5,124.7 M513.9,102.0 L508.3,121.8 M508.3,121.8 L515.8,121.9 L525.5,124.7 M414.8,290.7 L406.0,297.0 M414.8,290.7 L419.0,274.4 M419.0,274.4 L414.9,270.6 M414.9,270.6 L404.6,273.6 L389.7,276.7 M406.0,297.0 L400.0,294.4 L391.8,294.3 M391.8,294.3 L390.1,283.1 L389.7,276.7 M434.2,306.2 L426.2,298.0 L414.8,290.7 M406.5,317.7 L406.0,297.0 M431.2,271.9 L419.0,274.4 M437.1,250.0 L409.9,248.9 M409.9,248.9 L406.5,252.5 M406.5,252.5 L414.9,270.6 M379.8,267.8 L389.7,276.7 M401.1,251.3 L406.5,252.5 M387.5,296.5 L391.8,294.3 M371.7,267.2 L372.1,293.0 M406.2,200.9 L413.5,207.2 M389.7,229.4 L414.4,223.0 M413.5,207.2 L412.9,214.6 L414.4,223.0 M409.9,248.9 L419.0,229.9 M419.0,229.9 L418.2,226.6 L414.4,223.0 M363.9,34.7 L342.7,41.2 M342.7,41.2 L338.2,22.5 M587.2,433.7 L578.0,442.3 M609.7,442.2 L610.2,452.0 L609.2,462.9 M606.5,464.6 L609.2,462.9 M606.5,464.6 L595.2,461.2 L582.5,462.0 M578.0,442.3 L582.5,462.0 M554.7,421.9 L554.2,429.1 L556.3,435.1 M556.3,435.1 L559.3,439.4 M578.0,442.3 L559.3,439.4 M691.8,478.0 L693.8,497.7 L694.4,514.2 M694.4,514.2 L719.4,497.4 M719.4,496.6 L719.4,497.4 M691.2,477.1 L691.8,478.0 M729.5,467.2 L727.9,483.1 M727.9,483.1 L722.8,489.6 L719.4,496.6 M697.1,532.4 L664.1,547.4 M697.1,532.4 L691.7,517.7 M691.7,517.7 L671.8,511.0 M657.7,527.2 L660.4,544.6 M657.7,527.2 L667.4,513.0 M667.4,513.0 L671.8,511.0 M664.1,547.4 L660.4,544.6 M697.9,533.1 L697.1,532.4 M670.0,562.9 L664.1,547.4 M731.2,512.5 L719.4,497.4 M694.4,514.2 L691.7,517.7 M672.0,483.0 L671.1,485.0 M671.1,485.0 L638.8,490.4 M632.7,471.3 L638.8,490.4 M609.2,462.9 L627.6,470.2 M632.7,471.3 L627.6,470.2 M667.4,513.0 L654.8,503.6 L637.8,498.1 M638.8,490.4 L637.8,498.1 M600.1,482.9 L603.7,505.8 M600.1,482.9 L590.9,486.0 L579.5,484.9 M603.7,505.8 L584.3,510.5 M579.5,484.9 L575.5,495.9 M575.5,495.9 L576.7,503.6 L582.4,508.9 M582.4,508.9 L584.3,510.5 M606.5,464.6 L605.4,475.3 L600.1,482.9 M606.9,507.2 L603.7,505.8 M582.5,462.0 L579.3,464.1 L573.2,468.5 M573.2,468.5 L579.5,484.9 M550.5,512.0 L566.3,510.2 L582.4,508.9 M580.4,524.7 L584.3,510.5 M608.1,571.9 L609.3,570.9 M591.4,541.7 L600.9,539.7 M600.9,539.7 L609.3,570.9 M644.5,578.2 L635.6,568.8 L629.7,557.4 M609.3,570.9 L620.4,564.5 L629.7,557.4 M660.4,544.6 L643.2,551.6 L630.0,555.9 M629.7,557.4 L630.0,555.9 M538.5,464.3 L538.4,483.4 M555.8,462.4 L562.8,468.2 M562.8,468.2 L555.6,491.2 M538.4,483.4 L554.9,491.6 M554.9,491.6 L555.6,491.2 M511.6,472.8 L523.3,466.3 L532.7,460.9 M529.6,489.5 L532.5,484.9 L538.4,483.4 M532.7,460.9 L538.5,464.3 M559.3,439.4 L555.8,462.4 M573.2,468.5 L562.8,468.2 M575.5,495.9 L563.3,496.0 L555.6,491.2 M548.6,509.5 L552.8,499.5 L554.9,491.6 M510.6,443.0 L520.8,417.8 M510.6,443.0 L530.2,450.7 M532.9,445.8 L530.2,450.7 M532.9,445.8 L528.5,421.5 M528.5,421.5 L525.5,418.5 L520.8,417.8 M503.0,446.0 L510.6,443.0 M519.2,415.7 L520.8,417.8 M532.7,460.9 L533.1,456.5 L530.2,450.7 M556.3,435.1 L542.8,442.4 L532.9,445.8 M552.8,420.2 L528.5,421.5 M957.9,701.8 L950.8,699.3 M930.2,727.3 L932.8,710.4 M950.8,699.3 L940.0,706.1 L932.8,710.4 M858.0,719.0 L857.7,717.0 L857.1,710.7 M857.1,710.7 L834.0,692.1 M829.3,677.4 L835.0,686.2 M835.0,686.2 L834.0,692.1 M832.5,651.0 L827.2,656.5 M832.5,651.0 L860.4,664.2 M860.4,664.2 L862.3,672.6 M912.4,728.7 L908.2,719.3 L902.0,713.0 M932.8,710.4 L925.3,702.6 M925.3,702.6 L910.4,698.9 M910.4,698.9 L906.4,705.2 L902.0,713.0 M877.2,726.0 L883.7,720.3 L889.6,712.2 M902.0,713.0 L889.6,712.2 M832.5,651.0 L835.4,642.1 L835.5,632.8 M860.4,664.2 L865.6,652.8 M838.0,631.2 L858.1,629.9 M865.6,652.8 L858.1,629.9 M888.0,616.6 L884.3,620.1 L879.2,627.7 M888.0,616.6 L877.1,602.3 M862.8,603.8 L861.6,626.9 M879.2,627.7 L861.6,626.9 M838.0,631.2 L841.0,618.9 L839.6,602.3 M925.3,702.6 L930.6,677.8 M910.4,698.9 L903.8,683.7 M903.8,683.7 L908.8,672.9 M930.6,677.8 L919.0,676.0 L908.8,672.9 M865.6,652.8 L888.8,647.0 M879.2,627.7 L888.2,642.6 M888.2,642.6 L888.8,647.0 M920.1,627.4 L911.4,628.1 M920.1,627.4 L929.4,608.0 M928.4,606.7 L929.4,608.0 M928.4,606.7 L917.4,605.2 L901.4,607.6 M911.4,628.1 L904.9,625.0 M897.5,615.1 L901.4,607.6 M930.2,641.7 L920.1,627.4 M930.2,641.7 L929.4,646.3 M929.4,646.3 L905.0,660.9 M905.0,660.9 L901.3,658.1 M901.3,658.1 L911.4,628.1 M950.1,628.8 L948.1,632.3 M948.1,632.3 L930.2,641.7 M943.8,610.5 L938.0,611.3 L929.4,608.0 M922.8,582.0 L927.0,596.5 L928.4,606.7 M888.2,642.6 L904.9,625.0 M898.9,657.3 L901.3,658.1 M888.0,616.6 L891.6,616.0 L897.5,615.1 M532.3,728.4 L537.7,704.7 M532.3,728.4 L544.0,730.1 L558.4,727.8 M537.7,704.7 L544.4,709.4 L554.4,714.1 M558.4,727.8 L554.4,714.1 M534.5,701.6 L537.7,704.7 M524.8,732.7 L511.7,724.6 M524.8,732.7 L532.3,728.4 M511.7,724.6 L508.6,720.6 M524.8,732.7 L530.4,747.4 M558.4,727.8 L558.4,727.8 M541.2,751.5 L530.4,747.4 M561.2,705.8 L555.7,712.4 L554.4,714.1 M72.9,143.4 L71.6,128.6 M96.9,121.0 L89.6,119.0 L80.9,120.9 M71.6,128.6 L80.9,120.9 M47.1,126.5 L55.1,121.3 M71.6,128.6 L63.0,127.3 L55.1,121.3 M30.4,97.2 L55.1,112.2 M55.1,121.3 L54.2,116.0 L55.1,112.2 M23.3,272.1 L24.6,273.5 M23.3,272.1 L28.9,252.9 M24.6,273.5 L51.0,272.7 M28.9,252.9 L48.7,251.6 M52.4,254.6 L48.7,251.6 M52.4,254.6 L52.2,261.9 L55.0,266.6 M55.0,266.6 L51.0,272.7 M2.0,272.1 L23.3,272.1 M26.9,249.2 L28.9,252.9 M55.6,295.7 L51.0,272.7 M55.6,295.7 L51.3,300.4 M49.1,229.5 L48.7,251.6 M72.5,244.5 L52.4,254.6 M74.5,269.1 L65.9,266.5 L55.0,266.6 M73.2,292.3 L76.9,287.9 M73.2,292.3 L63.3,295.6 L55.6,295.7 M107.9,315.9 L102.1,309.9 M107.9,315.9 L99.1,332.2 L94.9,344.7 M102.1,309.9 L84.5,314.7 M84.5,314.7 L80.8,318.6 L78.3,324.1 M78.3,324.1 L83.2,339.2 M83.2,339.2 L94.9,344.7 M104.0,298.7 L102.1,309.9 M122.5,321.2 L115.5,319.2 L107.9,315.9 M100.7,350.9 L97.8,348.0 L94.9,344.7 M73.2,292.3 L84.5,314.7 M61.0,321.2 L78.3,324.1 M69.0,349.6 L83.2,339.2 M229.5,770.5 L229.3,761.2 L226.6,756.7 M229.5,770.5 L214.5,783.5 M214.5,783.5 L196.6,773.2 M223.2,754.7 L202.9,758.6 M223.2,754.7 L226.6,756.7 M202.9,758.6 L196.6,773.2 M246.1,782.5 L237.0,776.0 L229.5,770.5 M245.4,748.8 L226.6,756.7 M192.4,775.3 L196.6,773.2 M167.0,755.6 L177.4,745.7 M177.4,745.7 L188.0,743.5 L193.7,744.0 M193.7,744.0 L202.9,758.6 M148.0,736.0 L151.7,731.1 M151.7,731.1 L170.3,726.8 M170.3,726.8 L173.6,729.6 M156.6,655.8 L155.0,672.9 M170.9,681.4 L164.0,676.7 L155.0,672.9 M151.7,731.1 L152.3,716.5 L154.0,706.0 M131.4,710.4 L141.8,707.6 L149.0,704.4 M154.0,706.0 L149.0,704.4 M130.9,675.9 L139.1,677.9 M149.0,704.4 L139.1,677.9 M155.0,672.9 L139.1,677.9 M977.6,497.6 L972.2,491.9 M995.3,462.0 L984.0,461.2 M984.0,461.2 L972.2,491.9 M927.8,466.3 L926.6,467.1 M927.8,466.3 L954.4,474.4 M950.4,490.5 L953.2,487.0 L957.1,484.5 M957.1,484.5 L972.2,491.9 M1045.4,463.4 L1045.4,484.0 M1045.4,463.4 L1026.5,464.4 M1040.0,488.1 L1033.5,486.7 L1028.5,489.3 M1040.0,488.1 L1045.4,484.0 M1025.1,487.9 L1028.5,489.3 M1049.4,453.8 L1049.6,458.3 L1045.4,463.4 M1027.3,441.0 L1026.5,464.4 M1051.2,514.1 L1040.0,488.1 M1027.0,514.2 L1028.5,489.3 M1005.5,492.6 L1015.7,492.0 L1025.1,487.9 M995.3,462.0 L1001.7,457.3 M1001.7,457.3 L1021.1,470.7 M1004.7,449.7 L1001.7,457.3 M504.0,96.4 L487.9,107.0 M494.1,77.9 L477.5,100.1 M477.5,100.1 L483.1,101.2 L487.9,107.0 M495.3,55.2 L489.9,45.9 L482.6,35.4 M485.1,66.5 L465.6,53.8 M465.6,53.8 L467.8,43.9 M467.8,43.9 L482.6,35.4 M509.9,34.4 L496.7,31.4 L484.3,32.3 M484.3,32.3 L482.6,35.4 M467.8,43.9 L463.6,36.2 L456.5,27.4 M456.5,27.4 L441.6,36.3 M441.6,36.3 L426.9,30.5 M465.6,53.8 L459.4,57.1 M459.4,57.1 L445.2,55.2 M441.6,36.3 L443.9,45.8 L445.2,55.2 M423.1,32.8 L426.9,30.5 M375.2,86.0 L383.2,82.3 M375.2,86.0 L359.9,74.2 M383.2,82.3 L386.7,63.3 M386.7,63.3 L364.5,57.3 M359.9,74.2 L360.8,68.8 L359.6,60.1 M359.6,60.1 L364.5,57.3 M394.4,87.6 L383.2,82.3 M370.5,39.1 L369.3,48.2 L364.5,57.3 M370.5,39.1 L363.9,34.7 M339.6,51.1 L359.6,60.1 M339.6,51.1 L341.6,47.6 L342.7,41.2 M550.8,200.3 L549.6,201.4 M542.9,181.8 L538.4,184.1 L533.7,187.2 M533.7,187.2 L540.9,196.2 L549.6,201.4 M532.9,173.5 L529.8,187.6 M533.7,187.2 L529.8,187.6 M481.9,229.2 L490.2,222.4 L495.7,218.2 M488.0,245.6 L512.6,249.4 M495.7,218.2 L502.3,220.6 L504.6,219.0 M504.6,219.0 L508.6,223.8 M512.6,249.4 L514.6,248.0 M514.6,248.0 L516.3,241.7 L514.7,234.9 M508.6,223.8 L511.5,228.7 L514.7,234.9 M573.1,205.0 L570.9,214.0 M573.1,205.0 L589.1,206.0 M583.9,222.2 L588.2,215.9 L591.4,209.0 M583.9,222.2 L579.4,219.9 L571.3,218.7 M571.3,218.7 L570.9,214.0 M589.1,206.0 L591.4,209.0 M571.7,194.2 L573.1,205.0 M555.7,199.5 L561.6,209.2 L570.9,214.0 M582.8,191.6 L589.1,206.0 M607.1,205.1 L591.4,209.0 M587.5,229.1 L583.9,222.2 M569.7,219.6 L564.9,237.0 M569.7,219.6 L571.3,218.7 M564.9,237.0 L567.5,240.8 M622.1,238.1 L629.1,231.0 M628.8,222.6 L629.0,222.7 M629.1,231.0 L629.0,222.7 M630.6,250.2 L643.9,240.2 M629.1,231.0 L643.9,240.2 M667.4,227.1 L665.9,242.2 M667.4,227.1 L662.2,218.5 M662.2,218.5 L650.4,224.8 M650.4,224.8 L646.7,240.3 M665.9,242.2 L663.8,245.1 L658.2,244.8 M658.2,244.8 L651.8,243.4 L647.3,241.0 M647.3,241.0 L646.7,240.3 M673.9,246.3 L665.9,242.2 M676.2,228.0 L671.4,225.2 L667.4,227.1 M637.0,217.5 L650.4,224.8 M637.0,217.5 L629.0,222.7 M643.9,240.2 L646.7,240.3 M657.7,261.2 L658.2,244.8 M642.7,261.6 L644.0,253.5 L647.3,241.0 M663.9,192.0 L663.4,192.9 M679.5,211.7 L678.9,211.7 M678.9,211.7 L663.4,192.9 M662.2,218.5 L662.4,217.9 M678.9,211.7 L662.4,217.9 M638.6,208.9 L649.4,206.9 L657.3,203.9 M638.6,208.9 L630.4,196.3 M637.1,190.0 L630.4,196.3 M637.1,190.0 L658.3,199.3 M658.3,199.3 L657.3,203.9 M637.0,217.5 L638.6,208.9 M662.4,217.9 L660.1,210.3 L657.3,203.9 M619.1,196.3 L630.4,196.3 M637.8,187.7 L637.1,190.0 M663.4,192.9 L658.3,199.3 M706.7,125.6 L695.5,127.2 L685.1,126.8 M681.4,139.6 L681.3,139.3 M685.1,126.8 L685.0,132.5 L681.3,139.3 M657.2,57.6 L657.9,78.9 M657.2,57.6 L653.6,55.5 M653.6,55.5 L630.1,54.7 M623.9,72.7 L626.3,58.8 M623.9,72.7 L626.3,75.8 M626.3,58.8 L630.1,54.7 M678.0,44.8 L657.2,57.6 M658.0,79.1 L657.9,78.9 M647.4,32.3 L653.6,55.5 M629.6,32.1 L630.1,54.7 M627.0,98.2 L651.3,98.7 M607.6,50.0 L626.3,58.8 M600.2,76.7 L612.3,76.2 L623.9,72.7 M622.5,103.8 L627.0,98.2 M816.2,187.9 L816.2,183.6 M848.5,180.7 L841.1,168.8 M816.2,183.6 L827.2,176.1 L841.1,168.8 M839.9,136.3 L843.5,151.5 M809.8,131.1 L823.0,152.0 M823.0,152.0 L843.5,151.5 M851.6,151.9 L844.4,152.4 M841.1,168.8 L844.4,152.4 M843.5,151.5 L844.4,152.4 M767.5,195.7 L769.9,194.5 M785.1,223.2 L785.3,200.0 M769.9,194.5 L785.3,200.0 M765.5,170.9 L770.5,180.4 M769.9,194.5 L770.5,180.4 M785.3,200.0 L786.1,199.6 M845.6,393.5 L847.3,395.1 M869.9,373.3 L869.2,385.1 M869.2,385.1 L847.3,395.1 M829.0,421.8 L849.9,412.9 M847.3,395.1 L849.9,412.9 M859.7,438.1 L861.2,421.5 M849.9,412.9 L861.2,421.5 M898.3,435.9 L865.3,420.2 M865.3,420.2 L861.2,421.5 M995.5,416.1 L983.9,419.3 L976.1,421.3 M965.6,395.2 L966.5,414.1 M966.5,414.1 L976.1,421.3 M998.1,437.1 L990.6,436.9 L979.3,435.2 M976.1,421.3 L977.1,429.9 L979.3,435.2 M946.5,391.9 L940.8,394.0 M953.7,425.5 L966.5,414.1 M953.7,425.5 L941.4,421.0 M915.8,388.3 L920.2,393.0 M915.8,388.3 L914.7,381.0 L916.4,373.2 M920.2,393.0 L930.0,391.5 L940.8,394.0 M1031.2,245.0 L1033.3,228.2 M1031.2,245.0 L1028.7,247.4 M1028.7,247.4 L1007.3,238.9 M1026.3,223.2 L1015.6,230.0 L1005.3,232.5 M1026.3,223.2 L1030.2,226.9 L1033.3,228.2 M1005.3,232.5 L1007.3,238.9 M1053.5,219.4 L1045.8,223.3 L1033.3,228.2 M1034.5,270.0 L1030.1,265.8 M1030.1,265.8 L1028.7,247.4 M1012.3,267.9 L1020.4,264.7 L1030.1,265.8 M1012.3,267.9 L1003.9,245.8 M1003.9,245.8 L1007.3,238.9 M1025.2,207.0 L1024.2,214.3 L1026.3,223.2 M1002.3,229.0 L1005.3,232.5 M984.1,259.5 L1003.9,245.8 M1011.0,321.5 L1008.7,317.1 M982.2,314.0 L984.7,312.3 M984.7,312.3 L995.7,314.0 L1008.7,317.1 M1018.3,296.6 L1016.0,297.2 M753.3,500.9 L779.4,509.5 M753.3,500.9 L752.2,495.0 M752.2,495.0 L756.0,490.3 L756.7,487.2 M756.7,487.2 L777.3,485.8 M779.4,509.5 L780.0,501.7 L782.9,495.5 M743.6,512.5 L753.3,500.9 M781.5,516.5 L779.4,509.5 M727.9,483.1 L752.2,495.0 M751.8,460.8 L756.7,487.2 M777.0,474.9 L777.3,485.8 M809.6,484.3 L782.9,495.5 M147.3,36.8 L146.9,51.6 M147.3,36.8 L139.0,31.7 L127.8,27.2 M127.3,51.6 L146.1,52.1 M127.3,51.6 L127.8,27.2 M146.1,52.1 L146.9,51.6 M126.7,52.1 L125.9,77.7 M126.7,52.1 L127.3,51.6 M147.1,79.1 L146.1,52.1 M126.7,52.1 L99.9,50.1 M99.9,50.1 L98.5,48.5 M127.6,26.6 L127.8,27.2 M172.6,53.5 L171.9,52.4 M171.9,52.4 L157.1,52.0 L146.9,51.6 M199.0,24.7 L173.0,42.2 M171.5,39.9 L173.0,42.2 M152.0,32.3 L147.3,36.8 M152.0,32.3 L171.5,39.9 M171.9,52.4 L173.0,42.2 M221.8,31.4 L221.3,57.1 M221.8,31.4 L199.1,24.8 M199.1,24.8 L199.1,53.5 M221.3,57.1 L210.7,56.3 L199.1,53.5 M222.4,31.0 L221.8,31.4 M222.4,58.8 L221.3,57.1 M199.0,24.7 L199.1,24.8 M197.6,54.5 L199.1,53.5 M339.6,51.1 L335.4,53.6 M359.9,74.2 L352.0,79.5 L341.8,84.0 M335.4,53.6 L341.8,84.0 M316.7,50.5 L322.7,54.6 M335.4,53.6 L329.7,55.7 L322.7,54.6 M292.7,75.6 L315.3,80.7 M322.7,54.6 L320.1,68.3 L315.3,80.7 M246.2,414.2 L249.7,411.9 M249.7,411.9 L260.9,415.6 L271.9,417.7 M238.4,435.6 L242.2,440.0 M242.2,440.0 L271.4,441.8 M271.9,417.7 L269.2,427.6 L271.4,441.8 M223.3,405.0 L246.2,414.2 M251.1,393.9 L249.7,411.9 M228.0,436.7 L238.4,435.6 M276.9,414.5 L271.9,417.7 M290.6,449.3 L291.5,448.6 M290.6,449.3 L272.6,443.4 M291.5,448.6 L298.1,432.7 L300.2,419.1 M272.6,443.4 L271.4,441.8 M664.8,671.8 L666.2,667.1 M664.8,671.8 L684.3,690.8 M666.2,667.1 L681.5,662.9 L697.6,658.3 M684.3,690.8 L691.9,691.7 M691.9,691.7 L699.5,679.6 M699.5,679.6 L698.9,668.2 L697.6,658.3 M721.9,695.4 L726.8,682.7 M721.9,695.4 L720.1,697.8 M691.9,691.7 L695.6,697.5 M699.5,679.6 L726.8,682.7 M716.5,624.7 L718.8,638.2 L722.0,652.0 M689.3,637.8 L699.1,656.1 M699.1,656.1 L722.0,652.0 M678.9,630.6 L668.8,622.4 M678.9,630.6 L661.0,651.8 M668.8,622.4 L653.3,629.8 L637.9,635.9 M661.0,651.8 L638.0,640.7 M638.0,640.7 L637.9,635.9 M680.9,630.6 L678.9,630.6 M661.8,607.6 L665.0,615.5 L668.8,622.4 M666.2,667.1 L661.0,651.8 M697.6,658.3 L699.1,656.1 M631.4,615.9 L637.9,635.9 M664.8,671.8 L664.2,672.2 M625.0,654.2 L631.1,649.2 L638.0,640.7 M808.4,567.1 L808.5,573.1 L806.4,583.3 M776.4,565.4 L787.6,593.0 M806.4,583.3 L796.8,589.8 L787.6,593.0 M761.4,587.6 L785.1,596.5 M787.6,593.0 L785.1,596.5 M723.2,747.9 L736.0,755.5 L748.4,760.7 M723.2,747.9 L723.9,737.4 L724.9,727.6 M724.9,727.6 L733.7,724.4 L742.1,723.2 M742.1,723.2 L759.3,747.7 M748.4,760.7 L759.3,747.7 M715.6,755.8 L717.1,749.7 L723.2,747.9 M688.5,728.5 L689.2,739.3 M688.5,728.5 L696.8,722.7 M720.4,724.6 L724.9,727.6 M721.9,695.4 L734.3,704.6 L745.8,710.6 M743.7,721.0 L742.1,723.2 M770.5,746.5 L759.3,747.7 M712.5,765.6 L727.2,779.6 M748.4,760.7 L748.0,771.7 M748.0,771.7 L727.2,779.6 M671.2,723.5 L667.2,726.8 L660.0,731.1 M671.2,723.5 L666.9,717.7 L667.0,708.7 M661.7,705.1 L637.8,700.8 M661.7,705.1 L667.0,708.7 M660.0,731.1 L635.6,735.2 M637.8,700.8 L634.5,713.7 L630.4,727.6 M630.4,727.6 L632.0,730.0 L635.6,735.2 M684.3,690.8 L676.1,699.4 L667.0,708.7 M688.5,728.5 L680.1,725.9 L671.2,723.5 M664.2,672.2 L661.7,705.1 M635.6,694.1 L637.8,700.8 M611.4,724.6 L621.7,724.6 L630.4,727.6 M681.5,758.1 L672.0,757.7 M665.5,777.5 L662.2,770.9 M662.2,770.9 L668.8,764.8 L672.0,757.7 M660.0,731.1 L668.8,755.5 M668.8,755.5 L672.0,757.7 M408.7,605.4 L412.7,598.7 M408.7,605.4 L418.0,630.2 M418.0,630.2 L436.6,618.9 M436.6,618.9 L437.0,610.5 M405.8,587.5 L391.7,583.8 M410.8,591.8 L412.7,598.7 M380.9,607.1 L388.9,614.5 L392.6,618.5 M392.6,618.5 L408.7,605.4 M385.2,586.7 L391.7,583.8 M392.6,618.5 L392.4,625.8 M392.4,625.8 L414.3,635.4 M414.3,635.4 L418.0,630.2 M443.1,605.1 L437.0,610.5 M414.3,635.4 L417.6,652.8 M414.1,558.4 L394.1,556.1 M411.0,535.3 L395.6,534.8 M394.1,556.1 L395.6,534.8 M419.7,510.2 L408.3,507.2 L397.6,509.0 M397.6,509.0 L388.1,518.1 M388.1,518.1 L386.9,525.6 M395.6,534.8 L386.9,525.6 M368.1,504.2 L361.3,511.1 M368.1,504.2 L366.6,489.4 M361.3,511.1 L350.6,509.5 L342.4,511.5 M344.0,492.1 L364.4,488.0 M342.1,511.2 L342.4,511.5 M366.6,489.4 L364.4,488.0 M371.8,637.3 L385.8,633.2 M371.8,637.3 L369.4,650.7 M385.8,633.2 L394.6,644.4 L399.0,657.6 M369.4,650.7 L385.2,663.4 M363.3,630.0 L371.8,637.3 M358.9,658.5 L369.4,650.7 M409.1,659.1 L399.0,657.6 M380.4,679.3 L384.3,669.8 L385.2,663.4 M321.0,533.6 L318.8,513.1 M321.0,533.6 L324.8,536.2 M342.4,511.5 L345.7,535.3 M324.8,536.2 L345.7,535.3 M268.6,558.9 L290.4,560.5 M268.6,558.9 L269.3,540.0 M277.3,535.0 L269.3,540.0 M277.3,535.0 L283.1,534.6 L291.0,538.1 M291.0,538.1 L295.3,542.8 M295.3,542.8 L295.5,550.6 L296.3,554.5 M296.3,554.5 L294.6,556.6 L290.4,560.5 M282.7,583.9 L290.4,560.5 M268.0,559.5 L268.6,558.9 M252.3,539.6 L269.3,540.0 M246.4,517.2 L258.4,518.6 L270.4,516.3 M270.4,516.3 L275.3,525.5 L277.3,535.0 M299.9,506.4 L291.0,538.1 M295.0,500.9 L272.0,513.4 M270.4,516.3 L272.0,513.4 M321.0,533.6 L310.2,535.7 L295.3,542.8 M318.8,569.7 L296.3,554.5 M318.8,569.7 L325.0,564.7 M325.0,564.7 L324.8,536.2 M317.8,579.3 L318.8,569.7 M221.1,465.4 L226.5,469.3 M201.0,492.5 L214.6,488.9 M214.6,488.9 L222.1,478.7 L226.5,469.3 M223.5,515.6 L223.0,492.4 M214.6,488.9 L223.0,492.4 M511.7,724.6 L508.3,740.2 L507.3,758.7 M530.4,747.4 L509.2,760.4 M507.3,758.7 L509.2,760.4 M429.3,706.8 L439.2,713.6 L444.2,722.4 M409.4,730.6 L438.4,737.9 M444.2,722.4 L438.4,737.9 M465.7,706.0 L458.0,717.7 M444.2,722.4 L450.6,720.9 L458.0,717.7 M435.0,752.1 L436.3,749.7 L440.6,743.0 M440.6,743.0 L438.4,737.9 M297.4,658.2 L298.2,657.4 M298.2,657.4 L297.4,645.8 L293.1,635.9 M276.1,647.2 L280.4,633.2 M280.4,633.2 L286.8,632.3 M286.8,632.3 L293.1,635.9 M295.1,671.4 L298.4,664.3 L297.4,658.2 M314.9,649.0 L304.0,653.1 L298.2,657.4 M264.4,654.7 L269.4,651.7 L276.1,647.2 M310.5,634.4 L293.1,635.9 M278.5,630.9 L280.4,633.2 M300.1,614.2 L292.2,624.5 L286.8,632.3 M334.9,252.9 L334.7,263.8 L338.0,275.3 M321.4,277.8 L324.7,279.5 M324.7,279.5 L331.0,276.6 L338.0,275.3 M366.9,264.0 L346.2,278.5 M366.2,296.9 L351.0,297.4 M351.0,297.4 L346.2,278.5 M346.2,278.5 L344.3,275.5 L338.0,275.3 M590.7,147.6 L580.0,139.5 M590.7,147.6 L584.2,156.3 M580.0,139.5 L579.0,148.3 L573.0,158.8 M584.2,156.3 L576.6,158.9 L573.0,158.8 M596.6,147.4 L590.7,147.6 M580.0,139.4 L580.0,139.5 M593.4,166.5 L584.2,156.3 M500.9,126.9 L507.5,136.4 L514.1,143.9 M500.9,126.9 L489.8,126.2 M489.8,126.2 L485.2,130.6 M485.2,130.6 L488.4,137.8 L487.1,145.1 M487.1,145.1 L497.0,149.6 L506.7,155.1 M506.7,155.1 L509.6,149.4 L514.2,144.4 M514.2,144.4 L514.1,143.9 M508.3,121.8 L506.0,124.6 L500.9,126.9 M525.5,124.7 L522.2,132.7 L514.1,143.9 M487.9,107.0 L489.8,126.2 M481.3,154.8 L483.2,148.8 L487.1,145.1 M464.3,129.9 L485.2,130.6 M489.2,175.5 L491.8,176.5 M491.8,176.5 L500.0,173.2 M500.0,173.2 L504.6,164.2 L506.8,155.9 M506.8,155.9 L506.7,155.1 M506.8,155.9 L527.1,165.7 M436.5,233.6 L433.1,231.5 M436.5,233.6 L462.7,218.1 M433.1,231.5 L436.8,201.8 M462.7,218.1 L462.4,211.3 L459.8,204.1 M458.3,202.0 L441.6,198.6 M441.6,198.6 L436.8,201.8 M439.8,245.1 L436.5,233.6 M419.0,229.9 L433.1,231.5 M467.5,223.6 L462.7,218.1 M413.5,207.2 L436.8,201.8 M491.3,198.8 L491.8,207.3 L495.7,218.2 M491.3,198.8 L459.8,204.1 M466.2,180.0 L458.3,202.0 M431.8,177.1 L438.7,189.2 L441.6,198.6 M491.3,198.8 L493.0,195.8 M493.0,195.8 L491.8,176.5 M630.8,505.7 L607.6,507.7 M630.8,505.7 L634.3,516.0 L637.2,525.1 M607.6,507.7 L611.6,535.6 M637.2,525.1 L624.7,542.8 M611.6,535.6 L624.7,542.8 M637.8,498.1 L635.7,503.7 L630.8,505.7 M657.7,527.2 L649.3,528.0 L637.2,525.1 M600.9,539.7 L605.9,536.5 L611.6,535.6 M630.0,555.9 L624.7,542.8 M864.9,699.9 L863.9,685.3 L864.5,674.2 M864.9,699.9 L884.9,698.8 M889.4,688.7 L884.9,698.8 M889.4,688.7 L871.3,674.8 M871.3,674.8 L864.5,674.2 M857.1,710.7 L864.9,699.9 M862.3,672.6 L864.5,674.2 M889.6,712.2 L885.6,708.0 L884.9,698.8 M903.8,683.7 L897.9,688.3 L889.4,688.7 M908.8,672.9 L907.1,666.7 L905.0,660.9 M898.9,657.3 L883.0,663.8 L871.3,674.8 M935.3,653.4 L937.8,676.0 M935.3,653.4 L956.9,653.7 M958.6,669.1 L958.7,655.0 M958.6,669.1 L944.0,678.1 M944.0,678.1 L937.8,676.0 M929.4,646.3 L935.3,653.4 M930.6,677.8 L937.8,676.0 M948.1,632.3 L952.5,643.9 L956.9,653.7 M973.1,646.4 L958.7,655.0 M80.9,120.9 L79.7,112.8 L75.0,100.0 M55.1,112.2 L59.8,104.8 L63.4,99.1 M75.0,100.0 L70.1,101.4 L63.4,99.1 M60.8,53.7 L56.3,75.7 M79.1,52.6 L77.9,75.3 M77.9,75.3 L68.7,76.4 L56.3,75.7 M63.4,99.1 L51.4,79.7 M51.4,79.7 L56.3,75.7 M193.7,744.0 L197.3,736.3 L200.5,729.3 M173.6,729.6 L191.7,721.3 M191.7,721.3 L197.7,725.1 L200.5,729.3 M223.2,754.7 L218.1,724.6 M200.5,729.3 L208.7,724.8 L218.1,724.6 M240.1,725.5 L218.3,724.4 M228.0,698.0 L217.7,714.0 M217.7,714.0 L217.3,721.0 L218.3,724.4 M218.1,724.6 L218.3,724.4 M172.6,683.8 L164.9,703.1 M172.6,683.8 L184.0,685.8 L195.5,684.9 M188.4,712.3 L192.9,705.4 L198.0,696.9 M188.4,712.3 L177.9,710.6 L170.1,708.6 M170.1,708.6 L164.9,703.1 M198.0,696.9 L197.0,686.4 M197.0,686.4 L195.5,684.9 M170.9,681.4 L172.6,683.8 M154.0,706.0 L164.9,703.1 M199.3,662.4 L199.1,675.1 L195.5,684.9 M191.7,721.3 L188.4,712.3 M217.7,714.0 L198.0,696.9 M170.3,726.8 L170.1,708.6 M218.6,684.6 L197.0,686.4 M485.4,68.7 L477.2,78.6 L469.6,84.7 M477.5,100.1 L472.8,98.7 M459.4,57.1 L457.4,79.0 M469.6,84.7 L464.2,83.0 L457.4,79.0 M435.6,60.7 L445.2,55.2 M435.6,60.7 L438.6,73.1 L445.3,84.9 M457.4,79.0 L445.3,84.9 M415.7,76.1 L414.0,66.6 L417.0,60.2 M415.7,76.1 L442.1,90.2 M417.0,60.2 L435.6,60.7 M442.1,90.2 L445.3,84.9 M416.3,43.0 L417.6,52.3 L416.5,59.6 M416.3,43.0 L389.4,29.6 M416.5,59.6 L390.6,59.4 M390.6,59.4 L384.6,36.3 M389.4,29.6 L384.6,36.3 M417.0,60.2 L416.5,59.6 M423.1,32.8 L422.2,36.9 L416.3,43.0 M415.6,76.2 L415.7,76.1 M386.7,63.3 L390.6,59.4 M511.2,198.1 L514.9,179.9 M511.2,198.1 L516.7,204.9 M516.7,204.9 L526.5,205.4 M526.5,205.4 L529.2,187.9 M529.2,187.9 L515.0,179.9 M515.0,179.9 L514.9,179.9 M493.0,195.8 L503.8,196.3 L511.2,198.1 M500.0,173.2 L514.9,179.9 M504.6,219.0 L512.5,211.1 L516.7,204.9 M527.0,166.5 L523.4,174.1 L515.0,179.9 M529.8,187.6 L529.2,187.9 M546.4,207.2 L538.7,228.3 M546.4,207.2 L546.3,206.8 M546.3,206.8 L526.9,205.7 M526.9,205.7 L527.0,217.1 M527.0,217.1 L528.8,223.7 M538.7,228.3 L528.8,223.7 M569.7,219.6 L561.3,218.2 L557.6,219.2 M557.6,219.2 L546.4,207.2 M549.6,201.4 L546.3,206.8 M526.5,205.4 L526.9,205.7 M508.6,223.8 L527.0,217.1 M514.6,248.0 L526.7,249.5 M526.7,249.5 L533.7,246.0 M533.7,246.0 L535.1,240.3 L540.1,230.8 M540.1,230.8 L538.7,228.3 M547.8,255.3 L538.5,249.5 L534.1,246.2 M547.8,255.3 L549.0,252.1 L554.6,248.6 M534.1,246.2 L551.7,243.5 M554.6,248.6 L551.7,243.5 M553.1,227.9 L543.2,231.0 M553.1,227.9 L558.3,232.2 L559.2,235.7 M543.2,231.0 L552.3,241.0 M559.2,235.7 L554.8,238.6 L552.3,241.0 M557.6,219.2 L553.3,223.0 L553.1,227.9 M540.1,230.8 L543.2,231.0 M564.9,237.0 L559.2,235.7 M533.7,246.0 L534.1,246.2 M551.7,243.5 L552.3,241.0 M563.7,250.3 L558.2,249.2 L554.6,248.6 M569.7,322.0 L570.5,312.7 L567.8,303.7 M581.0,304.7 L568.6,301.7 M568.6,301.7 L567.8,303.7 M553.5,322.0 L551.0,314.1 M567.8,303.7 L551.0,314.1 M678.6,109.0 L678.3,109.5 M685.1,126.8 L679.0,116.6 M678.3,109.5 L679.0,116.6 M809.6,160.5 L809.0,174.7 M809.6,160.5 L795.4,147.5 M809.0,174.7 L802.6,172.5 L791.9,175.3 M780.9,153.4 L795.4,147.5 M780.9,153.4 L790.6,174.5 M790.6,174.5 L791.9,175.3 M816.2,183.6 L809.0,174.7 M823.0,152.0 L809.6,160.5 M800.1,134.9 L795.4,147.5 M786.1,199.6 L791.9,175.3 M780.2,153.3 L780.9,153.4 M770.5,180.4 L782.7,178.1 L790.6,174.5 M875.8,390.2 L877.1,401.1 L874.4,411.8 M875.8,390.2 L894.0,389.5 M897.3,391.2 L895.8,400.4 L890.7,410.0 M897.3,391.2 L894.0,389.5 M890.7,410.0 L874.4,411.8 M869.2,385.1 L875.8,390.2 M865.3,420.2 L874.4,411.8 M888.2,371.4 L892.2,380.6 L894.0,389.5 M915.8,388.3 L897.3,391.2 M947.7,445.1 L951.4,442.0 L953.9,437.5 M947.7,445.1 L953.6,457.3 L959.4,464.9 M953.9,437.5 L962.7,442.5 L973.6,444.3 M959.4,464.9 L976.0,457.0 M976.0,457.0 L973.6,444.3 M927.8,466.3 L930.6,457.2 L933.0,447.8 M933.0,447.8 L947.7,445.1 M954.4,474.4 L959.4,464.9 M953.7,425.5 L951.6,433.7 L953.9,437.5 M979.3,435.2 L973.6,444.3 M984.0,461.2 L976.0,457.0 M923.2,434.8 L925.2,431.7 L927.6,425.2 M923.2,434.8 L901.5,437.1 M927.6,425.2 L918.6,404.4 M918.6,404.4 L899.6,420.9 M899.6,420.9 L898.5,427.7 L899.6,435.8 M899.6,435.8 L901.5,437.1 M933.0,447.8 L923.2,434.8 M941.4,421.0 L935.0,424.1 L927.6,425.2 M904.3,463.7 L901.6,450.9 L901.5,437.1 M890.7,410.0 L895.8,413.9 L899.6,420.9 M898.3,435.9 L899.6,435.8 M982.4,288.8 L985.7,299.9 M982.4,288.8 L988.2,283.7 L992.9,274.7 M985.7,299.9 L1010.8,292.6 M992.9,274.7 L1001.9,276.3 M1001.9,276.3 L1010.8,292.6 M964.2,286.2 L982.4,288.8 M984.7,312.3 L985.7,299.9 M984.7,261.5 L992.9,274.7 M1016.0,297.2 L1010.8,292.6 M1012.3,267.9 L1006.4,273.8 L1001.9,276.3 M318.0,85.3 L340.8,85.9 M318.0,85.3 L315.5,94.0 M318.5,99.8 L315.5,94.0 M340.8,85.9 L348.3,104.4 M348.3,104.4 L343.3,107.9 M341.8,84.0 L340.8,85.9 M299.9,102.5 L308.1,98.8 L315.5,94.0 M319.3,123.0 L318.5,99.8 M332.1,122.3 L339.7,113.6 L343.3,107.9 M359.4,107.3 L348.3,104.4 M748.5,684.8 L729.7,680.1 M748.5,684.8 L758.0,659.5 M729.7,680.1 L728.7,667.4 L724.2,653.0 M747.5,649.3 L758.0,659.5 M747.5,649.3 L726.6,652.2 M726.6,652.2 L724.2,653.0 M754.6,692.1 L748.5,684.8 M726.8,682.7 L729.7,680.1 M773.5,659.0 L765.0,659.3 L758.0,659.5 M773.5,659.0 L780.0,676.6 M722.0,652.0 L724.2,653.0 M742.6,616.2 L736.8,635.8 L726.6,652.2 M742.6,616.2 L754.2,632.5 M754.2,632.5 L747.5,649.3 M742.6,616.2 L740.9,612.2 M832.9,594.3 L830.1,594.5 M806.4,583.3 L812.6,588.3 M830.1,594.5 L812.6,588.3 M754.2,632.5 L764.6,633.6 L776.2,630.2 M773.5,659.0 L779.3,651.7 M776.2,630.2 L777.6,640.0 L779.3,651.7 M805.0,656.1 L803.0,653.9 M779.3,651.7 L803.0,653.9 M784.7,772.9 L779.0,782.9 M748.0,771.7 L754.7,779.3 M634.3,753.0 L636.3,756.1 M634.3,753.0 L619.9,758.9 L607.2,761.3 M636.3,756.1 L639.8,769.8 M613.0,785.6 L605.7,765.8 M613.0,785.6 L638.4,780.6 M638.4,780.6 L636.7,773.3 L639.8,769.8 M607.2,761.3 L605.7,765.8 M635.6,735.2 L634.3,753.0 M668.8,755.5 L650.6,757.2 L636.3,756.1 M602.0,755.4 L607.2,761.3 M580.9,779.4 L605.7,765.8 M580.9,779.4 L577.9,777.6 M372.2,338.5 L367.3,345.1 L360.4,347.8 M386.6,362.6 L370.1,366.1 M370.1,366.1 L363.7,355.7 L360.4,347.8 M392.5,368.5 L390.3,387.2 M392.5,368.5 L402.5,367.5 L411.1,367.4 M395.2,395.5 L394.5,391.9 L390.3,387.2 M395.2,395.5 L414.4,388.4 M414.8,371.9 L411.1,367.4 M414.8,371.9 L418.0,384.1 M418.0,384.1 L414.4,388.4 M419.2,347.7 L411.1,367.4 M386.6,362.6 L391.1,364.8 L392.5,368.5 M443.4,366.6 L414.8,371.9 M431.4,387.8 L418.0,384.1 M420.7,414.7 L414.4,388.4 M372.5,388.0 L369.7,378.2 L364.2,372.7 M372.5,388.0 L369.3,392.2 L366.4,399.3 M366.4,399.3 L344.3,391.8 M351.0,375.1 L364.2,372.7 M351.0,375.1 L344.0,391.4 M344.0,391.4 L344.3,391.8 M370.1,366.1 L364.2,372.7 M390.3,387.2 L379.0,386.2 L372.5,388.0 M360.4,347.8 L352.2,345.3 L343.5,345.7 M343.5,345.7 L338.7,358.5 M338.7,358.5 L351.0,375.1 M324.7,391.9 L336.1,390.9 L344.0,391.4 M320.8,364.9 L338.7,358.5 M421.5,486.9 L415.5,483.6 M391.6,483.8 L404.4,485.0 L415.5,483.6 M388.1,518.1 L375.7,508.9 L368.1,504.2 M366.6,489.4 L389.3,481.6 M394.4,402.8 L384.4,408.7 L375.1,417.9 M394.4,402.8 L416.2,418.9 M375.1,417.9 L408.8,438.0 M416.2,418.9 L413.9,433.0 M413.9,433.0 L408.8,438.0 M373.8,418.2 L375.1,417.9 M373.8,418.2 L366.4,399.3 M395.2,395.5 L394.4,402.8 M420.7,414.7 L416.2,418.9 M433.0,438.6 L413.9,433.0 M344.0,492.1 L343.8,478.2 L340.9,466.8 M319.9,477.0 L320.0,474.7 M340.9,466.8 L320.0,474.7 M364.4,488.0 L358.3,468.0 M358.3,468.0 L341.9,465.8 M340.9,466.8 L341.9,465.8 M290.6,449.3 L290.6,467.3 M291.5,448.6 L316.8,449.4 M290.6,467.3 L290.8,467.6 M290.8,467.6 L317.7,471.4 M317.7,471.4 L315.5,458.1 L316.8,449.4 M294.1,496.1 L292.0,493.2 M292.0,493.2 L290.8,467.6 M317.7,471.4 L320.0,474.7 M341.9,465.8 L338.3,448.5 M316.8,449.4 L320.3,445.9 M338.3,448.5 L320.3,445.9 M318.0,419.5 L320.3,445.9 M361.3,511.1 L362.3,539.5 M345.7,535.3 L350.0,538.0 M350.0,538.0 L355.3,537.4 L362.3,539.5 M386.9,525.6 L376.4,530.8 L363.2,539.9 M362.3,539.5 L363.2,539.9 M390.4,558.7 L368.3,554.3 M363.2,539.9 L364.0,545.1 L368.3,554.3 M245.1,467.9 L260.7,467.1 M245.1,467.9 L241.0,471.9 M241.0,471.9 L242.0,489.4 M267.3,472.2 L267.1,482.4 L270.1,487.7 M263.5,494.0 L245.2,495.6 M263.5,494.0 L270.1,487.7 M245.2,495.6 L242.0,489.4 M272.6,443.4 L260.7,467.1 M242.2,440.0 L242.3,452.1 L245.1,467.9 M226.5,469.3 L235.0,470.3 L241.0,471.9 M223.0,492.4 L242.0,489.4 M290.6,467.3 L267.3,472.2 M292.0,493.2 L283.3,492.6 L270.1,487.7 M272.0,513.4 L263.5,494.0 M241.8,512.0 L245.2,495.6 M467.0,781.3 L485.5,784.8 M465.8,734.4 L462.0,742.9 L454.3,747.8 M465.8,734.4 L485.2,737.0 M485.2,737.0 L487.1,745.2 L486.9,751.3 M462.8,762.0 L481.6,756.4 M462.8,762.0 L454.3,747.8 M486.9,751.3 L481.6,756.4 M458.0,717.7 L465.8,734.4 M440.6,743.0 L454.3,747.8 M490.0,728.0 L485.2,737.0 M507.3,758.7 L494.6,756.3 L486.9,751.3 M458.3,773.0 L462.8,762.0 M485.5,784.8 L487.6,782.8 M487.6,782.8 L481.6,756.4 M509.2,760.4 L511.7,771.4 L512.7,778.1 M487.6,782.8 L512.7,778.1 M369.9,323.8 L345.4,320.6 M343.5,345.7 L341.3,339.4 M345.4,320.6 L341.3,339.4 M315.6,338.7 L317.3,337.1 M341.3,339.4 L327.8,340.4 L317.3,337.1 M293.7,320.4 L303.6,322.1 L316.0,323.3 M317.3,337.1 L316.0,323.3 M315.9,302.9 L320.8,317.0 M315.9,302.9 L323.4,296.4 M323.4,296.4 L346.2,304.6 M320.8,317.0 L333.1,320.0 L345.2,320.1 M293.6,299.2 L306.9,301.3 L315.9,302.9 M316.0,323.3 L320.8,317.0 M324.7,279.5 L325.3,286.0 L323.4,296.4 M351.0,297.4 L347.6,299.9 L346.2,304.6 M345.4,320.6 L345.2,320.1 M79.8,76.7 L101.6,78.6 M75.4,99.7 L96.6,97.0 M96.6,97.0 L105.3,86.0 M106.0,83.7 L105.3,86.0 M75.0,100.0 L75.4,99.7 M77.9,75.3 L79.8,76.7 M99.9,50.1 L101.6,78.6 M96.9,121.0 L98.6,108.0 L96.6,97.0 M120.5,117.7 L105.3,86.0 M119.6,81.4 L106.0,83.7 M458.4,122.0 L462.4,105.9 M458.4,122.0 L446.8,121.8 L436.1,121.1 M462.4,105.9 L450.0,100.2 L442.1,92.3 M442.1,92.3 L436.0,98.3 L429.8,107.8 M429.8,107.8 L436.1,121.1 M464.3,129.9 L463.7,127.7 L458.4,122.0 M472.8,98.7 L462.4,105.9 M431.0,131.8 L434.5,125.0 L436.1,121.1 M442.1,90.2 L442.1,92.3 M418.3,105.2 L429.8,107.8 M568.2,263.8 L567.8,265.1 M547.8,255.3 L551.2,271.2 M567.8,265.1 L557.6,269.8 L551.2,271.2 M591.4,272.5 L580.7,270.7 L568.3,265.6 M567.8,265.1 L568.3,265.6 M526.7,249.5 L534.9,260.5 L538.3,273.8 M538.3,273.8 L543.3,273.8 L549.5,272.9 M551.2,271.2 L549.5,272.9 M485.3,272.0 L506.6,276.0 M486.0,294.8 L501.7,296.0 M501.7,296.0 L506.6,276.0 M498.8,322.0 L502.8,317.9 L508.4,312.0 M508.4,312.0 L508.6,308.1 M501.7,296.0 L506.9,304.5 L508.6,308.1 M512.6,249.4 L508.8,274.6 M508.8,274.6 L506.6,276.0 M678.3,109.5 L669.5,108.8 M651.6,99.4 L669.5,108.8 M809.1,613.8 L814.8,621.5 M809.1,613.8 L784.7,603.4 M804.1,631.8 L779.9,624.9 M804.1,631.8 L815.3,623.9 M779.9,624.9 L779.7,613.2 M779.7,613.2 L782.9,609.3 L784.7,603.4 M812.6,588.3 L809.1,613.8 M785.1,596.5 L784.7,603.4 M776.2,630.2 L779.9,624.9 M803.0,653.9 L804.1,631.8 M835.5,632.8 L815.3,623.9 M750.9,607.4 L765.3,612.6 L779.7,613.2 M415.9,457.9 L408.4,439.2 M415.9,457.9 L412.5,463.6 M412.5,463.6 L389.8,472.5 M408.4,439.2 L389.4,451.4 M389.4,451.4 L390.2,457.9 L387.0,464.7 M387.0,464.7 L389.8,472.5 M434.6,464.4 L415.9,457.9 M408.8,438.0 L408.4,439.2 M415.5,483.6 L413.5,472.4 L412.5,463.6 M389.3,481.6 L389.5,475.2 L389.8,472.5 M358.3,468.0 L362.9,461.9 M362.9,461.9 L387.0,464.7 M344.8,442.6 L337.5,433.1 L333.3,421.0 M367.3,424.8 L365.3,435.6 M367.3,424.8 L346.1,414.9 M346.1,414.9 L338.6,415.7 L333.3,421.0 M338.3,448.5 L342.6,445.5 L344.8,442.6 M318.0,419.5 L333.3,421.0 M362.9,461.9 L362.6,438.5 M373.8,418.2 L367.3,424.8 M389.4,451.4 L375.0,445.8 L365.3,435.6 M344.3,391.8 L346.1,414.9 M362.7,572.2 L349.2,577.7 M362.7,572.2 L363.4,565.9 M363.4,565.9 L349.0,560.8 L338.8,559.3 M349.2,577.7 L332.0,564.0 M332.0,564.0 L336.0,560.9 L338.8,559.3 M340.1,594.1 L349.2,577.7 M369.7,581.9 L362.7,572.2 M368.3,554.3 L363.4,565.9 M350.0,538.0 L338.8,559.3 M325.0,564.7 L332.0,564.0 M537.7,776.2 L526.0,777.8 L513.0,778.3 M538.5,775.4 L537.7,776.2 M512.7,778.1 L513.0,778.3 M566.7,296.4 L565.1,295.1 M566.7,296.4 L583.4,284.5 M565.1,295.1 L571.2,273.3 M583.4,284.5 L571.2,273.3 M584.6,284.5 L583.4,284.5 M568.6,301.7 L566.7,296.4 M556.7,291.4 L565.1,295.1 M556.7,291.4 L553.9,282.2 L549.5,272.9 M546.9,311.4 L544.0,305.3 M546.9,311.4 L529.7,325.4 M544.0,305.3 L533.4,307.4 M533.4,307.4 L525.7,320.4 M529.7,325.4 L525.7,320.4 M551.0,314.1 L546.9,311.4 M545.1,299.4 L544.0,305.3 M530.2,326.8 L529.7,325.4 M508.4,312.0 L525.7,320.4 M528.3,300.9 L530.2,296.8 L533.6,290.7 M528.3,300.9 L514.9,303.6 M514.9,303.6 L526.2,281.0 M533.6,290.7 L530.0,281.0 M530.0,281.0 L526.2,281.0 M545.1,299.4 L533.6,290.7 M533.4,307.4 L528.3,300.9 M508.6,308.1 L514.9,303.6 M508.8,274.6 L517.8,276.8 L526.2,281.0 M538.3,273.8 L532.3,277.6 L530.0,281.0 M657.3,121.7 L646.8,120.5 M657.3,121.7 L658.9,124.3 L664.6,128.1 M664.9,134.8 L664.6,128.1 M664.9,134.8 L654.3,134.5 L643.2,137.3 M646.8,120.5 L639.7,126.5 M639.7,126.5 L643.2,137.3 M651.6,99.4 L651.4,112.1 L646.8,120.5 M669.5,108.8 L663.4,117.4 L657.3,121.7 M679.0,116.6 L669.5,122.5 L664.6,128.1 M633.2,124.0 L639.7,126.5" fill="none" stroke-width="0.9"/><clipPath id="gclip"><path d="M96.0,39.0 C97.5,39.6 97.7,39.0 105.2,42.5 C112.7,46.0 126.4,53.5 140.8,60.3 C155.2,67.1 174.7,76.0 191.6,83.2 C208.5,90.4 225.5,97.8 242.4,103.5 C259.3,109.2 275.2,113.6 293.1,117.5 C311.0,121.4 332.2,125.0 350.0,127.0 C367.8,129.0 381.7,129.2 400.0,129.5 C418.3,129.8 443.3,129.6 460.0,128.8 C476.7,128.1 486.7,126.5 500.0,125.0 C513.3,123.5 526.7,121.8 540.0,120.0 C553.3,118.2 566.7,116.2 580.0,114.0 C593.3,111.8 608.2,108.7 620.0,106.5 C631.8,104.3 637.2,104.0 650.8,101.0 C664.4,98.0 684.7,92.9 701.6,88.2 C718.5,83.5 735.5,78.5 752.4,73.0 C769.3,67.5 787.4,60.7 803.0,55.2 C818.6,49.7 838.8,42.5 846.0,40.0 L848,30 L100,30 Z"/></clipPath><clipPath id="fr"><rect x="0.6" y="41.7" width="1022.8" height="718.9"/></clipPath></defs>
<g clip-path="url(#fr)">
<path d="M-5.0,70.0 C-4.2,70.4 -14.2,66.3 0.0,72.5 C14.2,78.7 53.3,95.5 80.0,106.9 C106.7,118.4 136.7,132.4 160.0,141.2 C183.3,150.0 201.7,153.7 220.0,159.5 C238.3,165.3 248.3,170.8 270.0,176.0 C291.7,181.2 328.3,188.0 350.0,190.9 C371.7,193.8 383.3,193.3 400.0,193.5 C416.7,193.7 436.7,192.8 450.0,192.0 C463.3,191.2 465.0,190.9 480.0,189.0 C495.0,187.1 523.3,183.4 540.0,180.8 C556.7,178.2 563.3,176.0 580.0,173.4 C596.7,170.8 623.3,167.6 640.0,165.2 C656.7,162.8 663.3,160.6 680.0,158.7 C696.7,156.8 721.7,154.7 740.0,153.8 C758.3,152.9 775.8,153.0 790.0,153.2 C804.2,153.4 814.8,154.2 825.0,154.9 C835.2,155.6 843.3,156.6 851.5,157.6 C859.7,158.6 860.9,158.7 874.0,161.1 C887.1,163.5 920.7,170.2 930.0,172.0 L1100,172 L1100,800 L-10,800 Z" fill="#f0d391"/>
<path d="M620,679 L820,584 L820,800 L620,800 Z" fill="#fff"/>
<path d="M-5.0,218.0 C5.0,221.7 27.5,231.2 55.0,240.0 C82.5,248.8 135.8,264.0 160.0,271.0 C184.2,278.0 180.5,276.9 200.5,282.0 C220.5,287.1 250.1,294.8 280.0,301.3 C309.9,307.8 350.0,316.1 380.0,321.0 C410.0,325.9 438.0,328.3 460.0,331.0 C482.0,333.7 494.9,334.7 512.0,337.0 C529.1,339.3 547.9,341.1 562.6,345.0 C577.4,348.9 590.8,354.4 600.5,360.5 C610.2,366.6 616.0,374.7 620.7,381.6 C625.5,388.5 626.9,395.4 629.0,402.0 C631.1,408.6 632.7,414.4 633.3,421.0 C633.9,427.6 633.4,435.1 632.5,441.6 C631.6,448.1 630.7,451.9 627.8,460.0 C624.9,468.1 617.1,485.0 615.0,490.0 L600,520 L-10,520 Z" fill="#dca651"/>
<path d="M96.0,39.0 C97.5,39.6 97.7,39.0 105.2,42.5 C112.7,46.0 126.4,53.5 140.8,60.3 C155.2,67.1 174.7,76.0 191.6,83.2 C208.5,90.4 225.5,97.8 242.4,103.5 C259.3,109.2 275.2,113.6 293.1,117.5 C311.0,121.4 332.2,125.0 350.0,127.0 C367.8,129.0 381.7,129.2 400.0,129.5 C418.3,129.8 443.3,129.6 460.0,128.8 C476.7,128.1 486.7,126.5 500.0,125.0 C513.3,123.5 526.7,121.8 540.0,120.0 C553.3,118.2 566.7,116.2 580.0,114.0 C593.3,111.8 608.2,108.7 620.0,106.5 C631.8,104.3 637.2,104.0 650.8,101.0 C664.4,98.0 684.7,92.9 701.6,88.2 C718.5,83.5 735.5,78.5 752.4,73.0 C769.3,67.5 787.4,60.7 803.0,55.2 C818.6,49.7 838.8,42.5 846.0,40.0 L848,30 L100,30 Z" fill="#b3d9a6"/>
<path d="M372,41 Q460,59 546,41 Z" fill="#98cd85"/>
<use href="#cty" stroke="rgba(0,0,0,0.22)"/>
<g clip-path="url(#gclip)"><use href="#cty" stroke="rgba(0,0,0,0.1)"/></g>
<path d="M-5.0,462.0 L0.0,461.6 L15.0,449.5 L27.0,440.3 L45.0,434.3 L58.6,430.0 L66.0,426.4 L80.6,424.9 L95.2,425.6 L109.9,430.8 L124.5,436.6 L139.2,438.8 L143.9,424.9 L147.8,421.0 L161.5,421.0 L171.0,425.0 L181.0,428.8 L185.0,438.6 L189.8,440.5 L190.8,450.3 L198.6,458.0 L212.3,465.0 L227.9,462.0 L231.8,450.3 L239.6,454.2 L245.5,466.0 L251.7,460.6 L259.5,454.4 L263.4,453.6 L271.2,453.6 L276.7,455.9 L282.2,458.3 L285.3,462.2 L286.9,468.4 L286.1,476.2 L289.2,473.1 L293.1,468.4 L297.8,470.8 L300.2,473.9 L301.7,468.4 L307.2,460.6 L304.0,456.0 L299.4,451.2 L294.7,449.7 L290.0,448.1 L283.8,446.6 L279.0,445.0 L276.0,441.1 L271.2,438.0 L274.6,438.0 L281.6,434.5 L286.9,429.2 L294.0,422.2 L297.5,416.9 L299.2,406.4 L297.5,400.2 L292.0,401.0 L287.8,408.1 L283.4,405.5 L279.0,408.1 L276.4,415.2 L272.0,418.7 L266.7,414.3 L264.0,410.8 L269.3,406.4 L276.4,400.2 L285.1,397.6 L292.2,391.4 L302.7,387.9 L311.5,385.3 L318.5,387.9 L329.1,388.8 L337.9,387.9 L345.0,388.0 L352.5,391.0 L353.0,373.3 L356.0,370.4 L359.0,370.0 L363.0,377.0 L366.0,384.0 L371.0,390.0 L376.0,393.5 L380.0,392.9 L389.0,390.0 L395.0,390.0 L408.0,387.0 L427.7,386.0 L442.7,387.1 L455.4,391.6 L468.1,397.9 L480.8,408.1 L489.7,415.7 L490.9,420.8 L493.5,428.4 L501.1,429.7 L508.7,434.7 L518.9,429.7 L531.6,422.0 L541.7,415.7 L544.3,410.6 L549.3,405.5 L556.0,404.3 L562.2,404.0 L573.0,411.9 L582.5,419.7 L587.2,427.5 L593.4,432.2 L595.0,440.0 L602.1,448.1 L606.2,454.2 L610.2,460.2 L612.3,465.3 L619.0,463.0 L625.4,461.3 L626.4,466.3 L630.5,476.4 L632.5,488.6 L632.5,500.7 L629.5,512.9 L625.4,521.0 L623.4,531.1 L622.4,545.3 L627.4,559.4 L634.5,569.6 L639.6,581.7 L644.7,593.8 L648.2,600.5 L652.3,607.4 L655.0,621.0 L660.5,629.2 L671.4,627.9 L674.2,641.6 L676.2,651.1 L679.7,660.0 L683.0,663.3 L696.3,665.0 L704.6,671.6 L703.0,676.6 L708.0,686.5 L713.0,689.8 L719.6,696.5 L721.2,703.1 L716.2,709.8 L724.5,704.8 L734.5,706.4 L742.8,703.1 L751.1,696.5 L756.1,689.8 L751.1,683.2 L752.8,674.9 L759.4,670.0 L761.0,660.0 L761.9,650.0 L765.0,634.7 L765.8,607.4 L764.8,596.8 L750.8,560.0 L744.2,536.7 L734.3,512.0 L741.0,506.0 L736.0,496.0 L724.5,484.2 L708.0,440.0 L699.0,404.0 L696.6,400.0 L694.3,380.0 L694.3,362.8 L695.3,350.6 L697.3,343.5 L702.4,335.4 L702.4,325.3 L707.4,318.2 L709.5,306.0 L714.5,300.0 L716.0,294.5 L723.4,288.0 L726.6,278.3 L739.7,266.8 L743.0,258.6 L752.9,253.6 L767.6,247.1 L775.9,240.5 L785.7,233.9 L790.6,227.4 L800.5,225.7 L810.3,212.6 L813.6,199.4 L821.8,187.9 L831.7,179.7 L841.6,174.0 L851.4,170.7 L864.6,169.9 L872.3,173.5 L875.2,161.4 L882.8,148.0 L894.0,136.7 L906.4,128.7 L913.4,124.0 L925.2,120.5 L934.5,121.7 L939.2,124.0 L945.0,128.7 L949.0,119.6 L960.3,107.6 L972.0,98.3 L983.8,92.4 L996.0,88.9 L998.4,77.2 L999.6,65.4 L997.2,53.7 L992.0,44.3 L990.0,38.0 L1100,38 L1100,800 L-10,800 Z" fill="#fff"/>
<path d="M233.7,391.7 C238,387 252,386 261,393.7 C266,396 271,399 269,401 C266,404 252,409 245.5,409.3 C240,409 234,405 233.7,391.7 Z" fill="none" stroke="#000" stroke-width="1.2"/>
<ellipse cx="231" cy="394.5" rx="4.5" ry="4.6" fill="none" stroke="#000" stroke-width="1.2"/>
<path d="M711,599 C711,592 716,589 720,585 C724,581 729,581 733,586 C737,591 737,600 736,606 C735,611 731,614 727,613 C723,612 719,609 715,606 C712,604 711,602 711,599 Z" fill="none" stroke="#000" stroke-width="1.2"/>
<path d="M0,429 L4,430.5 L8,426 L13.5,423.7 L15.8,427 L14.5,432 L11.5,438.8 L18,439.6 L25,437.5 L27,440.3 L15,449.5 L8,453 L3,456 L0,458 Z" fill="#fff" stroke="#000" stroke-width="1.2"/>
<path d="M58,412 C62,414 64,420 62,427 C60,430 56,428 55,424 C54,419 55,414 58,412 Z" fill="none" stroke="#000" stroke-width="1.1"/>
<path d="M86,408 C89,409 90,414 89,419 C87,424 83,422 81,418 C80,414 84,413 86,408 Z" fill="none" stroke="#000" stroke-width="1.1"/>
<path d="M358,353 L364,353 L364,365 L365,367 L363,370 L356,370 L355,363 L357,360 Z" fill="#000"/>
<path d="M397.4,374.3 L402,378 L405,381 L409,384 L411,386 L400,388 L395,389 Z" fill="#fff" stroke="#000" stroke-width="1"/>
<path d="M432.5,383 L440,382 L448,383 L454,385 L452,387 L444,386.5 L436,386 L432,386 Z" fill="#fff" stroke="#000" stroke-width="1.1"/>
<path d="M505,428 L512,427 L520,425 L528,421 L534,418.5 L531,422 L524,427 L516,431 L509,433 Z" fill="#fff" stroke="#000" stroke-width="1"/>
<path d="M490,418 C488,422 489,428 493,430" fill="none" stroke="#000" stroke-width="1"/>
<path d="M467.5,390.7 L469.7,391.1 L471.6,392.1 L472.5,394.3 L475.1,394.3 L477.1,395.0 L477.8,397.7 L480.5,397.3 L481.7,399.2 L482.9,401.0 L485.6,400.8 L486.2,403.3 L488.1,404.4 L490.3,405.2 L491.0,407.5 L493.1,408.0" fill="none" stroke="#000" stroke-width="1.6"/>
<path d="M434.0,380.5 L436.0,380.7 L438.0,379.6 L440.0,381.1 L442.1,380.0 L444.0,380.9 L445.8,382.1 L448.2,380.8 L449.7,382.7 L451.8,383.4 L454.1,383.1 L456.3,383.4 L458.1,385.0 L458.1,385.0" fill="none" stroke="#000" stroke-width="1.4"/>
<path d="M514.2,426.4 L516.2,425.6 L517.8,423.7 L520.0,423.5 L522.2,422.9 L523.5,421.1 L525.5,420.5 L527.5,419.9 L528.8,418.0 L531.1,417.7 L533.1,417.2 L534.7,415.4 L537.2,415.7 L539.0,414.5 L539.9,414.0" fill="none" stroke="#000" stroke-width="1.4"/>
<path d="M626.7,558 L632,552 L636,546 L634,540 L630,534 L633,532 L638,537 L641,541 L644,537 L646,542 L642,548 L637,556 L632,562 Z" fill="#fff" stroke="#000" stroke-width="1.1"/>
<path d="M654,597 L661,595 L664,604 L660,614 L656,622 L652,614 L655,606 Z" fill="#fff" stroke="#000" stroke-width="1.1"/>
<path d="M724.5,484.2 L736,496 L741,506 L734.3,512 L729,500 Z M728,489 L733,500 L736,506" fill="none" stroke="#000" stroke-width="0.9"/>
<path d="M715.9,269.9 L716.1,269.2 L717.3,269.1 L717.6,268.0 L718.8,267.6 L719.8,266.8 L720.1,265.4 L720.9,264.5 L721.9,263.9 L723.1,263.6 L723.8,262.7 L724.5,261.9 L724.7,260.5 L725.7,260.0 L726.7,259.5 L727.0,258.3 L728.0,258.0 L728.8,256.9 L730.4,256.9 L731.6,256.5 L732.4,255.6 L733.3,255.1 L734.1,255.3 M717.6,268.0 l-1.1,-1.1 M723.1,263.6 l0.4,1.3 M723.8,262.7 l-0.4,-0.9 M724.5,261.9 l-1.0,-0.4 M724.7,260.5 l-0.9,-0.7 M726.7,259.5 l-0.6,-0.9 M728.0,258.0 l1.4,0.8 M728.8,256.9 l1.0,0.7 M731.6,256.5 l-0.8,-1.8 M732.4,255.6 l-0.3,-1.0 M734.1,255.3 l0.7,1.4" fill="none" stroke="#000" stroke-width="1.00" stroke-linejoin="round" stroke-linecap="round"/>
<path d="M723.6,282.8 L724.8,282.7 L725.2,282.0 L724.9,280.7 L725.9,280.0 L726.4,278.9 L727.1,277.9 L727.9,276.9 L728.4,275.7 L729.1,274.7 L730.3,274.3 L730.7,273.2 L731.6,272.6 L732.3,271.7 L732.4,270.4 L733.5,269.9 L734.4,269.3 L735.0,268.4 L735.6,267.6 L736.1,266.6 L737.1,266.1 L737.5,265.0 L738.5,264.4 L739.8,264.1 L740.5,263.2 L741.2,262.2 L742.4,261.9 L743.4,261.7 L743.8,260.6 L744.3,260.1 L744.9,259.9 M724.8,282.7 l1.1,0.4 M725.2,282.0 l0.6,0.9 M725.9,280.0 l-1.7,-0.1 M726.4,278.9 l1.2,1.4 M727.1,277.9 l1.1,1.1 M727.9,276.9 l1.6,0.9 M729.1,274.7 l0.4,0.8 M730.3,274.3 l1.4,0.3 M731.6,272.6 l-1.4,-1.1 M732.3,271.7 l0.9,0.8 M733.5,269.9 l-1.3,-1.1 M735.6,267.6 l0.8,0.7 M744.3,260.1 l0.6,0.8" fill="none" stroke="#000" stroke-width="1.00" stroke-linejoin="round" stroke-linecap="round"/>
<path d="M694,326 L700,322.5 L702.5,328 L702,337 L698,343 L696,351 L695,361 L693,366 L690,365 L691,356 L689,350 L691,344 L689,337 L692,332 Z" fill="#000"/>
<path d="M684.3,335.7 L684.3,336.7 L685.2,337.4 L686.3,338.1 L687.0,339.3 L688.1,339.9 L688.6,341.1 L689.7,341.9 L690.6,342.7 L691.2,343.7 L692.0,344.0 M684.3,335.7 l1.0,-1.1 M684.3,336.7 l-2.0,1.0 M685.2,337.4 l-0.5,1.1 M686.3,338.1 l1.8,-1.2 M688.6,341.1 l-1.0,0.4" fill="none" stroke="#000" stroke-width="1.60" stroke-linejoin="round" stroke-linecap="round"/>
<path d="M684.0,348.9 L684.7,349.4 L685.6,350.1 L686.8,350.6 L688.0,351.1 L689.3,351.2 L690.2,352.3 L691.4,352.3 L692.0,353.1 M688.0,351.1 l1.0,-1.4 M692.0,353.1 l-0.4,1.6" fill="none" stroke="#000" stroke-width="1.60" stroke-linejoin="round" stroke-linecap="round"/>
<path d="M681.9,359.4 L682.8,358.8 L683.6,359.8 L684.8,360.1 L686.0,360.1 L686.9,360.6 L688.2,360.1 L689.3,360.6 L690.4,360.5 L690.9,361.3 M681.9,359.4 l-1.6,1.7 M682.8,358.8 l0.7,-1.7 M684.8,360.1 l1.0,-1.6 M688.2,360.1 l0.4,1.3 M689.3,360.6 l0.7,-0.8 M690.4,360.5 l-1.1,1.9" fill="none" stroke="#000" stroke-width="1.60" stroke-linejoin="round" stroke-linecap="round"/>
<path d="M255.6,440 L262,438.75 L268,445 L270.5,452 L263,453.6 L257,455 L253,458 L251,452 Z" fill="#000"/><path d="M257.5,446 L261,445 L262,451 L258,452 Z" fill="#fff"/>
<path d="M281.1,434.1 L281.1,433.2 L281.9,432.5 L283.1,432.1 L284.0,431.1 L283.9,429.4 L285.5,429.0 L286.4,428.4 L287.0,427.5 L287.8,426.8 L287.9,425.4 L288.9,425.0 L290.1,424.8 L290.5,423.8 L291.0,423.0 L292.4,422.5 L292.5,421.0 L293.5,420.2 L293.9,419.1 L293.5,417.9 L294.0,417.0 L294.5,415.8 L292.7,415.2 L293.2,413.8 L292.2,413.0 L291.5,412.3 L292.0,410.7 L290.5,410.5 L290.4,409.3 L289.4,408.9 L288.8,408.2 L287.8,407.6 L287.1,406.2 L285.6,406.7 L284.8,406.5 M281.1,434.1 l1.6,0.9 M281.1,433.2 l1.8,0.6 M281.9,432.5 l0.5,1.1 M283.1,432.1 l1.4,2.1 M284.0,431.1 l-1.6,-0.8 M286.4,428.4 l0.4,1.2 M287.0,427.5 l0.4,1.2 M287.8,426.8 l0.6,0.5 M287.9,425.4 l-0.6,-1.3 M290.5,423.8 l1.2,2.4 M292.4,422.5 l1.8,0.8 M293.9,419.1 l-1.5,-1.7 M294.5,415.8 l-2.5,1.2 M293.2,413.8 l-1.2,0.2 M292.2,413.0 l-0.9,1.0 M292.0,410.7 l-1.4,-0.0 M290.5,410.5 l2.3,-1.4 M289.4,408.9 l-1.5,1.4 M287.1,406.2 l-1.1,2.2 M284.8,406.5 l-1.0,1.5" fill="none" stroke="#000" stroke-width="2.60" stroke-linejoin="round" stroke-linecap="round"/>
<path d="M283.75,446.6 L292,448 L299.4,451.25 L307.2,460.6 L301.7,468.4 L300.2,473.9 L297.8,470.8 L293.1,468.4 L289.2,473.1 L286.1,476.25 L286.9,468.4 L285.3,462.2 L292,461 L295,456 L290,452 Z" fill="#000"/>
<path d="M299.2,396 L313.3,395.5 M318.5,395.5 L337.9,398 M313.3,407.2 Q318,417 313.5,427.5 M307,433 L302.7,440" fill="none" stroke="#dca651" stroke-width="2.6" stroke-dasharray="5,2.5"/>
<path d="M208,466 L241,468" fill="none" stroke="#dca651" stroke-width="2" stroke-dasharray="3,2.5"/>
<path d="M915.6,68.3 L915.7,69.2 L916.8,69.3 L917.1,70.5 L918.1,71.1 L919.4,71.5 L920.4,72.2 L921.4,73.1 L922.1,74.2 L922.8,75.1 L924.1,75.0 L925.2,75.3 L926.0,76.2 L926.9,76.6 L927.7,77.5 L928.9,76.7 L929.9,77.1 L930.5,78.2 L931.7,77.9 L932.3,79.1 L933.6,78.9 L934.6,79.4 L935.6,79.7 L936.1,81.1 L937.1,81.5 L938.1,81.9 L939.3,81.5 L940.1,82.5 L941.1,83.2 L942.5,82.4 L943.2,83.9 L944.3,83.9 L945.0,84.4 L946.1,84.1 L947.0,85.1 L948.2,85.8 L947.8,87.2 L948.4,88.1 L947.7,88.8 L947.1,89.6 L946.1,90.1 L945.3,91.0 L944.9,92.5 L943.5,92.1 L942.9,93.4 L941.7,93.3 L940.5,93.3 L940.2,94.9 L939.3,95.0 L938.7,95.9 L938.0,96.7 L938.1,97.9 L937.7,98.8 L937.5,99.8 L936.0,100.6 L935.1,101.5 L935.6,102.6 M915.6,68.3 l2.2,-1.1 M915.7,69.2 l-0.3,2.5 M917.1,70.5 l3.3,-1.2 M921.4,73.1 l-1.6,2.4 M922.8,75.1 l-2.9,1.7 M924.1,75.0 l0.8,-0.8 M925.2,75.3 l-0.4,1.2 M926.0,76.2 l0.4,3.1 M926.9,76.6 l0.7,-2.0 M927.7,77.5 l0.4,3.2 M928.9,76.7 l0.5,-2.1 M929.9,77.1 l0.5,3.3 M930.5,78.2 l0.3,2.6 M933.6,78.9 l1.6,-3.0 M935.6,79.7 l2.0,-1.3 M940.1,82.5 l-2.1,2.2 M941.1,83.2 l0.3,-2.8 M942.5,82.4 l0.2,0.8 M943.2,83.9 l1.6,-2.4 M945.0,84.4 l-0.8,2.7 M948.2,85.8 l-1.1,0.2 M947.8,87.2 l1.3,0.0 M947.7,88.8 l-1.6,-1.5 M947.1,89.6 l0.8,1.0 M946.1,90.1 l2.1,1.2 M945.3,91.0 l1.4,0.8 M943.5,92.1 l-2.3,-2.0 M942.9,93.4 l0.3,1.9 M940.5,93.3 l-0.4,-2.5 M940.2,94.9 l-0.7,-0.5 M937.5,99.8 l1.3,0.8 M936.0,100.6 l-1.2,-0.5 M935.1,101.5 l2.2,2.5" fill="none" stroke="#000" stroke-width="2.97" stroke-linejoin="round" stroke-linecap="round"/>
<path d="M935.3,69.9 L936.0,71.3 L937.0,70.9 L938.2,70.7 L939.5,70.2 L940.6,71.4 L941.7,71.7 L943.2,70.8 L943.4,72.3 L944.9,72.2 L944.6,73.7 L945.9,74.1 L945.9,75.4 L947.0,75.8 L947.5,76.7 L948.5,77.1 L949.4,77.6 L950.1,78.6 L951.3,78.6 L952.1,79.4 L953.1,80.2 L954.5,80.1 L955.0,81.2 L956.3,80.7 L957.3,81.1 L958.4,81.5 L959.3,82.2 L960.3,83.0 L961.4,83.2 L962.4,82.9 L963.3,82.2 L964.3,83.2 L965.0,82.1 L965.7,81.5 L966.9,81.3 L967.9,80.7 L968.6,79.9 L969.0,78.7 L969.5,77.8 L970.2,77.2 L970.5,75.9 L971.3,75.1 L972.4,74.6 L972.4,73.3 L973.0,72.4 L973.7,71.8 L974.4,70.9 L975.7,70.6 L976.3,69.7 L976.1,68.4 L976.7,67.7 L978.4,67.7 L979.1,66.8 L980.0,65.9 L981.1,65.7 L982.0,64.9 L982.8,63.8 L983.3,63.0 L984.3,62.4 L985.2,61.5 L985.6,60.3 L985.8,59.1 L985.7,58.0 L986.0,57.0 L985.7,56.0 L985.3,55.0 L986.0,53.8 L985.1,52.9 L985.9,51.7 L985.6,50.8 L984.6,49.8 L983.8,48.9 L983.7,47.7 L983.0,47.0 L982.1,45.9 L981.0,45.1 L980.9,44.0 M935.3,69.9 l-0.6,1.0 M937.0,70.9 l-1.0,-2.4 M938.2,70.7 l0.1,1.3 M940.6,71.4 l-0.0,-1.7 M941.7,71.7 l0.9,-1.7 M943.2,70.8 l0.2,-1.8 M945.9,75.4 l1.2,-1.7 M948.5,77.1 l1.2,-2.7 M951.3,78.6 l-2.2,1.5 M955.0,81.2 l-0.2,-2.3 M957.3,81.1 l0.3,1.2 M958.4,81.5 l0.8,3.0 M965.0,82.1 l1.7,1.0 M970.5,75.9 l1.6,0.5 M971.3,75.1 l2.8,0.4 M973.0,72.4 l-0.7,-1.3 M975.7,70.6 l-0.6,-0.6 M976.3,69.7 l-1.2,-1.5 M976.1,68.4 l0.8,1.6 M976.7,67.7 l0.4,1.0 M981.1,65.7 l-1.5,-1.4 M982.0,64.9 l-1.2,-0.9 M983.3,63.0 l-1.4,-0.3 M985.6,60.3 l3.3,0.7 M985.7,58.0 l-2.3,0.4 M986.0,53.8 l-2.2,1.9 M985.9,51.7 l-1.6,-0.1 M985.6,50.8 l2.2,0.4 M983.7,47.7 l0.6,-1.3 M983.0,47.0 l3.1,-1.1 M982.1,45.9 l-2.6,0.5 M980.9,44.0 l1.5,-1.2" fill="none" stroke="#000" stroke-width="2.16" stroke-linejoin="round" stroke-linecap="round"/>
<path d="M912.2,99.0 L912.7,98.6 L913.9,98.5 L915.1,98.2 L915.8,97.0 L917.0,96.7 L917.6,95.3 L918.7,95.6 L919.6,95.9 L920.6,95.8 L921.1,97.0 L922.1,97.5 L923.0,98.2 L923.6,99.2 L925.0,99.2 L925.7,100.0 L926.6,100.7 L927.0,101.9 L927.4,103.1 L928.5,103.6 L929.5,104.0 L930.0,104.8 L930.9,105.7 L932.2,105.0 L933.2,104.9 L934.2,105.1 L935.3,105.9 L936.2,105.1 L937.3,105.1 L938.2,104.3 L939.3,104.1 L940.3,104.0 L941.5,104.5 L942.4,103.8 L943.4,103.5 L944.4,103.4 L945.4,103.4 L946.5,104.6 L947.6,104.5 L948.7,104.4 L949.7,103.8 L950.5,102.6 L951.7,102.6 L953.0,102.6 L954.3,101.8 L955.2,102.9 L956.3,102.3 L957.4,102.2 L958.4,103.5 L959.6,103.4 L960.7,103.8 L961.9,103.2 L962.9,103.2 L963.5,104.3 L964.1,104.6 M912.2,99.0 l0.9,2.5 M912.7,98.6 l1.9,1.0 M915.1,98.2 l-0.7,-2.2 M917.0,96.7 l0.4,3.3 M917.6,95.3 l-1.0,-2.6 M919.6,95.9 l0.5,1.6 M923.0,98.2 l-0.5,0.9 M923.6,99.2 l0.4,-2.9 M925.0,99.2 l0.9,-3.0 M926.6,100.7 l1.6,-1.4 M927.0,101.9 l-0.6,2.0 M929.5,104.0 l-0.3,1.3 M932.2,105.0 l-0.6,-2.1 M935.3,105.9 l-1.2,-1.7 M936.2,105.1 l1.0,1.2 M940.3,104.0 l0.6,-2.4 M941.5,104.5 l0.5,-2.6 M942.4,103.8 l0.3,1.3 M946.5,104.6 l-0.6,-1.0 M949.7,103.8 l-0.9,-3.4 M950.5,102.6 l-1.9,-2.9 M953.0,102.6 l-0.7,-2.4 M955.2,102.9 l0.5,-2.6 M958.4,103.5 l-0.2,-3.1 M960.7,103.8 l0.6,3.3 M961.9,103.2 l0.5,-2.0 M963.5,104.3 l-1.4,3.1" fill="none" stroke="#000" stroke-width="2.16" stroke-linejoin="round" stroke-linecap="round"/>
<path d="M924.7,107.9 L925.4,108.4 L926.5,108.7 L927.8,108.5 L929.1,108.8 L930.5,108.8 L931.6,108.3 L932.9,109.0 L933.7,107.8 L934.9,107.9 L935.8,106.9 L936.9,107.3 L937.9,106.9 L938.7,107.6 L939.9,107.1 L940.8,107.8 L941.7,108.6 L942.9,108.5 L943.9,108.8 L945.0,108.4 L946.1,108.4 L947.2,109.2 L948.3,109.3 L949.4,109.9 L950.5,109.0 L951.8,109.7 L952.7,108.1 L954.3,109.0 L955.5,108.3 L956.7,108.1 L957.5,107.6 L958.1,107.0 M925.4,108.4 l2.1,-2.8 M926.5,108.7 l0.7,1.9 M927.8,108.5 l0.7,2.1 M931.6,108.3 l-0.7,-0.9 M932.9,109.0 l-2.4,-2.5 M935.8,106.9 l0.2,2.3 M939.9,107.1 l-0.3,0.7 M941.7,108.6 l-0.5,2.9 M943.9,108.8 l0.3,1.8 M947.2,109.2 l1.2,-3.0 M950.5,109.0 l0.8,1.3 M952.7,108.1 l0.9,0.9 M954.3,109.0 l-0.3,3.2 M955.5,108.3 l1.3,1.5" fill="none" stroke="#000" stroke-width="1.89" stroke-linejoin="round" stroke-linecap="round"/>
<path d="M969.7,44.0 L969.3,44.7 L969.3,45.6 L970.5,46.6 L970.5,47.8 L970.6,48.9 L970.6,50.0 L970.2,51.0 L970.3,52.0 L969.5,52.9 L969.0,53.8 L969.6,55.0 L969.0,56.0 L968.9,57.0 L968.9,58.2 L969.1,59.4 L967.8,60.4 L967.9,61.4 L968.3,62.4 L968.2,63.0 M969.3,45.6 l1.9,-0.6 M970.5,47.8 l2.8,0.8 M970.6,48.9 l-2.7,0.7 M970.6,50.0 l2.3,0.5 M970.2,51.0 l1.9,-0.6 M969.5,52.9 l2.1,1.1 M969.0,53.8 l1.8,1.5 M969.6,55.0 l-1.9,0.6 M968.9,58.2 l1.4,-0.1 M969.1,59.4 l2.4,-0.2 M967.8,60.4 l-2.7,1.0 M967.9,61.4 l-1.0,0.1 M968.3,62.4 l2.8,-0.1 M968.2,63.0 l-2.1,0.4" fill="none" stroke="#000" stroke-width="1.76" stroke-linejoin="round" stroke-linecap="round"/>
<path d="M975.9,45.0 L975.5,45.6 L976.0,46.6 L975.4,47.7 L974.9,48.8 L975.3,50.1 L975.4,51.1 L974.5,52.0 L974.2,53.0 L973.8,54.0 L973.0,54.9 L973.6,56.2 L972.4,57.0 L972.5,58.2 L972.9,59.5 L972.6,60.5 L972.5,61.4 L971.6,61.9 M975.3,50.1 l1.2,1.3 M974.5,52.0 l-0.7,-0.6 M974.2,53.0 l2.2,0.7 M973.8,54.0 l2.6,-0.3 M973.0,54.9 l-1.7,-0.2 M972.5,58.2 l2.5,0.6 M972.9,59.5 l1.9,0.7 M971.6,61.9 l0.8,0.7" fill="none" stroke="#000" stroke-width="1.76" stroke-linejoin="round" stroke-linecap="round"/>
<path d="M936.9,45.3 L937.6,46.1 L938.5,45.7 L939.4,44.5 L940.6,44.7 L941.8,44.8 L943.0,44.9 L944.0,45.2 L945.0,44.4 L946.2,45.1 L947.4,44.1 L948.5,45.0 L949.5,44.7 L950.4,44.9 L951.0,44.7 M946.2,45.1 l0.4,-2.2 M947.4,44.1 l-0.4,2.7 M948.5,45.0 l0.2,3.2 M949.5,44.7 l1.4,2.6 M951.0,44.7 l-0.1,-1.4" fill="none" stroke="#000" stroke-width="1.62" stroke-linejoin="round" stroke-linecap="round"/>
<path d="M898.8,118.1 L899.3,118.7 L900.1,119.7 L900.6,120.9 L900.4,122.2 L901.8,122.8 L901.6,123.9 L901.9,124.9 L901.4,126.2 L902.2,127.1 L903.4,127.9 L903.9,129.1 L904.3,130.0 L903.7,131.1 M898.8,118.1 l2.0,-1.5 M899.3,118.7 l-2.4,0.5 M901.8,122.8 l-3.0,1.5 M903.4,127.9 l-0.9,0.5 M903.9,129.1 l1.7,-2.5 M903.7,131.1 l2.2,0.2" fill="none" stroke="#000" stroke-width="2.03" stroke-linejoin="round" stroke-linecap="round"/>
<path d="M933.9,116.2 L934.7,116.1 L935.7,116.2 L936.7,116.8 L937.7,117.8 L938.9,117.9 L940.0,118.5 L941.1,118.0 L942.3,118.4 L943.4,117.6 L944.4,117.0 L945.4,117.4 L945.9,116.5 M933.9,116.2 l0.6,-0.8 M935.7,116.2 l-0.6,2.6 M937.7,117.8 l-0.3,-2.2 M938.9,117.9 l0.8,2.6 M941.1,118.0 l0.4,-1.4 M942.3,118.4 l-0.4,1.5 M943.4,117.6 l-0.5,2.5 M945.4,117.4 l0.6,-1.5" fill="none" stroke="#000" stroke-width="2.70" stroke-linejoin="round" stroke-linecap="round"/>
<path d="M756.1,693.2 L750,702 L742.8,713.1 L735,720 L726.2,726.4 L718,731 L709.6,736.3" fill="none" stroke="#000" stroke-width="1.2"/>
<path d="M676.0,744.0 L676.4,743.2 L677.7,744.1 L678.4,742.8 L679.9,743.4 L680.6,741.8 L682.1,742.3 L683.1,741.8 L684.2,741.7 L685.2,741.1 L686.3,740.9 L686.8,739.3 L688.0,739.3 L688.9,738.8 L689.6,737.7 L690.9,737.8 L691.8,737.1 L692.9,736.9 L693.6,735.8 L695.2,736.5 L696.2,735.8 L696.6,734.2 L698.3,735.1 L699.3,734.7 L699.8,733.2 L701.1,733.1 L702.3,732.9 L702.7,731.6 L703.2,730.9 L703.8,730.7 M676.0,744.0 l-0.5,1.9 M677.7,744.1 l0.2,1.5 M678.4,742.8 l-0.0,-1.3 M682.1,742.3 l-1.0,-2.2 M683.1,741.8 l0.3,1.6 M685.2,741.1 l-0.6,-3.1 M688.0,739.3 l-0.2,-1.2 M689.6,737.7 l0.1,-1.1 M690.9,737.8 l-0.4,2.9 M692.9,736.9 l-1.3,-1.2 M696.2,735.8 l1.6,2.5 M698.3,735.1 l0.7,3.0 M699.8,733.2 l0.2,-3.2 M701.1,733.1 l-1.9,-1.7 M702.3,732.9 l0.2,2.0" fill="none" stroke="#000" stroke-width="2.20" stroke-linejoin="round" stroke-linecap="round"/>
<path d="M685.9,732.6 L686.7,733.2 L687.4,732.2 L688.5,732.2 L689.6,731.5 L690.8,731.4 L692.1,731.7 L693.1,731.3 L694.1,730.5 L695.1,729.7 L696.2,729.3 L697.7,730.0 L698.3,729.1 L699.0,728.9 M685.9,732.6 l1.5,2.0 M689.6,731.5 l-0.7,-0.7 M690.8,731.4 l0.7,0.6 M692.1,731.7 l0.1,0.8 M694.1,730.5 l1.1,2.0 M695.1,729.7 l-0.8,-1.0 M696.2,729.3 l-0.2,-1.8 M699.0,728.9 l1.4,1.7" fill="none" stroke="#000" stroke-width="1.20" stroke-linejoin="round" stroke-linecap="round"/>
<path d="M703.0,676.0 L703.7,676.5 L703.8,677.4 L703.7,678.5 L704.6,679.5 L704.9,680.7 L705.2,681.9 L705.2,683.2 L706.1,683.9 L706.5,685.0 L707.1,685.8 L707.6,686.8 L708.7,687.3 L709.8,687.8 L710.4,688.6 L711.4,689.2 L712.0,690.0 L712.8,690.9 L713.8,691.5 L715.1,691.7 L715.7,692.8 L716.5,693.6 L717.4,694.2 L718.3,694.8 L718.1,696.2 L719.5,697.0 L719.1,698.4 L719.1,699.5 L720.4,700.2 L719.9,701.0 M703.7,676.5 l2.0,-1.5 M703.8,677.4 l1.4,-0.7 M703.7,678.5 l2.2,0.6 M704.6,679.5 l-1.3,0.6 M705.2,681.9 l-1.6,-0.1 M705.2,683.2 l1.5,-2.0 M707.1,685.8 l-1.0,0.4 M707.6,686.8 l0.9,-0.6 M708.7,687.3 l-1.6,1.6 M713.8,691.5 l-1.9,0.9 M715.1,691.7 l-0.7,0.9 M715.7,692.8 l-2.3,0.9 M717.4,694.2 l-1.9,1.3 M720.4,700.2 l1.6,-1.0" fill="none" stroke="#000" stroke-width="1.30" stroke-linejoin="round" stroke-linecap="round"/>
<path d="M759.4,670 C755,676 753,684 752,690 C756,690 758,686 760,680" fill="none" stroke="#000" stroke-width="1"/>
<circle cx="658.1" cy="743.8" r="1.3" fill="#000"/><path d="M665,745.5 L670,745 M618,739.8 L622,739.3" stroke="#000" stroke-width="1.1"/>
<path d="M717.9,701.5 C712,699 708,703 710,707 C712,710 718,710 721,706" fill="none" stroke="#000" stroke-width="1.1"/>
<path d="M-5.0,462.0 L0.0,461.6 L15.0,449.5 L27.0,440.3 L45.0,434.3 L58.6,430.0 L66.0,426.4 L80.6,424.9 L95.2,425.6 L109.9,430.8 L124.5,436.6 L139.2,438.8 L143.9,424.9 L147.8,421.0 L161.5,421.0 L171.0,425.0 L181.0,428.8 L185.0,438.6 L189.8,440.5 L190.8,450.3 L198.6,458.0 L212.3,465.0 L227.9,462.0 L231.8,450.3 L239.6,454.2 L245.5,466.0 L251.7,460.6 L259.5,454.4 L263.4,453.6 L271.2,453.6 L276.7,455.9 L282.2,458.3 L285.3,462.2 L286.9,468.4 L286.1,476.2 L289.2,473.1 L293.1,468.4 L297.8,470.8 L300.2,473.9 L301.7,468.4 L307.2,460.6 L304.0,456.0 L299.4,451.2 L294.7,449.7 L290.0,448.1 L283.8,446.6 L279.0,445.0 L276.0,441.1 L271.2,438.0 L274.6,438.0 L281.6,434.5 L286.9,429.2 L294.0,422.2 L297.5,416.9 L299.2,406.4 L297.5,400.2 L292.0,401.0 L287.8,408.1 L283.4,405.5 L279.0,408.1 L276.4,415.2 L272.0,418.7 L266.7,414.3 L264.0,410.8 L269.3,406.4 L276.4,400.2 L285.1,397.6 L292.2,391.4 L302.7,387.9 L311.5,385.3 L318.5,387.9 L329.1,388.8 L337.9,387.9 L345.0,388.0 L352.5,391.0 L353.0,373.3 L356.0,370.4 L359.0,370.0 L363.0,377.0 L366.0,384.0 L371.0,390.0 L376.0,393.5 L380.0,392.9 L389.0,390.0 L395.0,390.0 L408.0,387.0 L427.7,386.0 L442.7,387.1 L455.4,391.6 L468.1,397.9 L480.8,408.1 L489.7,415.7 L490.9,420.8 L493.5,428.4 L501.1,429.7 L508.7,434.7 L518.9,429.7 L531.6,422.0 L541.7,415.7 L544.3,410.6 L549.3,405.5 L556.0,404.3 L562.2,404.0 L573.0,411.9 L582.5,419.7 L587.2,427.5 L593.4,432.2 L595.0,440.0 L602.1,448.1 L606.2,454.2 L610.2,460.2 L612.3,465.3 L619.0,463.0 L625.4,461.3 L626.4,466.3 L630.5,476.4 L632.5,488.6 L632.5,500.7 L629.5,512.9 L625.4,521.0 L623.4,531.1 L622.4,545.3 L627.4,559.4 L634.5,569.6 L639.6,581.7 L644.7,593.8 L648.2,600.5 L652.3,607.4 L655.0,621.0 L660.5,629.2 L671.4,627.9 L674.2,641.6 L676.2,651.1 L679.7,660.0 L683.0,663.3 L696.3,665.0 L704.6,671.6 L703.0,676.6 L708.0,686.5 L713.0,689.8 L719.6,696.5 L721.2,703.1 L716.2,709.8 L724.5,704.8 L734.5,706.4 L742.8,703.1 L751.1,696.5 L756.1,689.8 L751.1,683.2 L752.8,674.9 L759.4,670.0 L761.0,660.0 L761.9,650.0 L765.0,634.7 L765.8,607.4 L764.8,596.8 L750.8,560.0 L744.2,536.7 L734.3,512.0 L741.0,506.0 L736.0,496.0 L724.5,484.2 L708.0,440.0 L699.0,404.0 L696.6,400.0 L694.3,380.0 L694.3,362.8 L695.3,350.6 L697.3,343.5 L702.4,335.4 L702.4,325.3 L707.4,318.2 L709.5,306.0 L714.5,300.0 L716.0,294.5 L723.4,288.0 L726.6,278.3 L739.7,266.8 L743.0,258.6 L752.9,253.6 L767.6,247.1 L775.9,240.5 L785.7,233.9 L790.6,227.4 L800.5,225.7 L810.3,212.6 L813.6,199.4 L821.8,187.9 L831.7,179.7 L841.6,174.0 L851.4,170.7 L864.6,169.9 L872.3,173.5 L875.2,161.4 L882.8,148.0 L894.0,136.7 L906.4,128.7 L913.4,124.0 L925.2,120.5 L934.5,121.7 L939.2,124.0 L945.0,128.7 L949.0,119.6 L960.3,107.6 L972.0,98.3 L983.8,92.4 L996.0,88.9 L998.4,77.2 L999.6,65.4 L997.2,53.7 L992.0,44.3 L990.0,38.0" fill="none" stroke="#000" stroke-width="1.4" stroke-linejoin="round"/>
<path d="M23.5,41.0 L27.0,78.0 L26.5,187.0" fill="none" stroke="#111" stroke-width="1.45" stroke-linejoin="round"/>
<path d="M49.0,192.0 L49.0,225.4 L194.4,225.4" fill="none" stroke="#111" stroke-width="1.45" stroke-linejoin="round"/>
<path d="M49.0,225.4 L48.5,288.0" fill="none" stroke="#111" stroke-width="1.45" stroke-linejoin="round"/>
<path d="M174.2,349.2 L270.0,349.2 L263.6,361.4 L266.0,376.5 L271.2,389.0 L276.2,399.3" fill="none" stroke="#111" stroke-width="1.45" stroke-linejoin="round"/>
<path d="M241.0,103.5 L609.0,104.5" fill="none" stroke="#111" stroke-width="1.45" stroke-linejoin="round"/>
<path d="M348.0,103.6 L353.0,111.0 L339.5,240.0 L333.0,294.0 L336.8,386.9" fill="none" stroke="#111" stroke-width="1.45" stroke-linejoin="round"/>
<path d="M481.0,104.0 L504.0,240.0 L507.0,300.0 L506.4,330.0 L506.1,336.3 L509.5,342.6 L511.4,349.0 L515.2,357.2 L515.9,362.9 L519.0,366.7" fill="none" stroke="#111" stroke-width="1.45" stroke-linejoin="round"/>
<path d="M378.8,349.0 L511.4,349.0" fill="none" stroke="#111" stroke-width="1.45" stroke-linejoin="round"/>
<path d="M378.8,349.0 L377.0,357.0 L385.0,368.0 L388.0,380.0 L392.0,388.0" fill="none" stroke="#111" stroke-width="1.45" stroke-linejoin="round"/>
<path d="M519.0,366.7 L545.0,368.2 L653.6,375.0 L656.0,386.6 L663.7,386.6 L664.3,361.0 L670.8,359.0 L688.0,365.5 L694.0,368.0" fill="none" stroke="#111" stroke-width="1.45" stroke-linejoin="round"/>
<path d="M609.0,104.5 L596.7,120.0 L613.0,135.0 L621.0,136.0 L636.0,166.0 L653.6,185.0 L668.8,200.0 L679.0,215.0 L689.0,228.0 L694.0,240.0 L699.0,250.0 L705.0,258.0 L709.5,273.0 L716.0,281.6 L723.4,287.0" fill="none" stroke="#111" stroke-width="1.45" stroke-linejoin="round"/>
<path d="M609.0,104.5 L627.0,97.0 L646.0,92.0 L714.0,94.0 L714.0,100.0 L719.0,97.0 L727.0,107.0 L727.0,114.0 L784.4,115.0 L841.6,174.0" fill="none" stroke="#111" stroke-width="1.45" stroke-linejoin="round"/>
<path d="M546.6,104.2 L551.0,87.0 L562.6,78.0 L572.7,68.0 L588.0,57.0 L613.0,50.0 L623.0,44.0 L625.0,41.0" fill="none" stroke="#111" stroke-width="1.45" stroke-linejoin="round"/>
<path d="M236.0,42.5 L264.0,42.5" fill="none" stroke="#111" stroke-width="1.45" stroke-linejoin="round"/>
<path d="M272.0,41.7 L272.5,42.5 L273.6,43.6 L274.8,45.0 L275.8,46.5 L275.9,48.0 L275.1,49.3 L273.5,50.1 L271.4,50.1 L269.4,49.6 L267.9,49.2 L266.9,49.4 L266.2,50.1 L265.8,51.4 L265.8,53.1 L265.7,54.7 L265.4,55.9 L264.4,56.3 L262.9,56.5 L261.0,56.7 L259.2,57.4 L258.1,58.7 L258.1,60.1 L259.4,61.4 L261.5,62.3 L263.9,63.1 L265.8,64.1 L267.0,65.4 L266.7,67.1 L264.9,68.2 L262.7,68.1 L261.0,67.7 L259.5,67.5 L258.5,68.0 L257.8,69.1 L257.4,70.7 L257.7,72.3 L257.7,73.6 L257.2,74.2 L256.1,74.5 L254.2,74.4 L252.1,74.2 L250.1,74.2 L248.6,74.7 L247.7,75.7 L247.9,77.1 L248.7,78.7 L249.8,80.3 L250.8,81.6 L251.4,82.8 L251.2,83.8 L250.4,84.7 L249.3,85.6 L248.2,86.5 L247.3,87.4 L247.1,88.3 L247.6,89.5 L248.9,90.9 L250.2,92.3 L251.4,93.7 L251.9,95.1 L251.5,96.3 L250.1,97.2 L248.2,97.5 L246.1,97.3 L244.4,97.3 L243.2,97.6 L242.5,98.6 L242.3,100.0 L242.4,101.4 L242.5,102.4 L242.6,103.1 L242.2,103.8 L241.5,104.8 L240.5,106.2 L239.5,107.8 L238.9,109.0 L239.0,109.5 L239.9,109.6 L241.4,110.0 L242.5,111.4 L242.3,113.0 L241.3,114.1 L239.9,114.2 L238.6,113.7 L237.2,112.7 L235.7,111.5 L234.3,110.8 L233.1,111.1 L232.5,112.3 L232.7,114.1 L233.3,115.8 L233.9,117.0 L234.1,118.0 L233.2,118.5 L231.7,118.9 L229.7,119.2 L227.9,119.7 L226.5,120.3 L225.8,121.3 L226.0,122.3 L226.8,123.5 L227.9,124.7 L228.7,125.9 L228.7,127.0 L227.9,128.0 L226.3,128.8 L224.7,129.1 L223.3,129.6 L222.4,130.2 L222.2,131.2 L222.6,132.6 L223.4,134.3 L224.4,136.1 L225.3,137.8 L225.4,139.2 L224.8,140.2 L223.7,140.9 L222.2,141.1 L220.7,141.2 L219.2,141.6 L218.3,142.4 L217.9,143.5 L218.0,145.0 L218.3,146.7 L218.3,148.1 L217.9,149.0 L216.8,149.1 L214.9,148.9 L212.7,148.5 L210.7,148.5 L209.1,148.9 L208.3,149.8 L208.2,151.1 L208.8,152.6 L209.7,154.2 L210.5,155.6 L210.9,156.8 L210.5,157.7 L209.3,158.4 L207.6,159.0 L206.1,159.3 L205.1,159.8 L205.0,160.7 L205.5,162.0 L206.7,163.8 L207.9,165.5 L208.5,167.0 L208.6,168.2 L207.9,169.0 L206.4,169.4 L204.6,169.8 L202.7,170.3 L201.5,171.0 L201.2,172.1 L201.5,173.4 L202.2,174.9 L203.0,176.5 L203.2,177.8 L202.7,178.8 L201.4,179.5 L199.4,179.7 L197.3,179.8 L195.4,180.1 L194.2,180.7 L193.8,181.9 L194.1,183.4 L195.1,185.2 L196.3,186.6 L197.1,187.9 L197.2,189.1 L196.6,190.1 L195.5,191.1 L194.1,192.1 L193.0,193.1 L192.5,194.3 L192.9,195.5 L194.0,196.6 L195.5,196.8 L196.7,196.4 L197.9,196.6 L199.0,196.3 L199.7,196.8 L199.9,198.7 L198.9,200.5 L198.1,202.0 L197.7,202.9 L198.1,203.7 L199.0,204.6 L200.4,205.5 L201.4,206.5 L202.1,207.6 L202.0,208.9 L201.2,210.1 L199.8,211.2 L198.3,212.0 L197.0,212.7 L196.2,213.3 L196.2,214.2 L196.9,215.4 L197.9,216.9 L199.0,218.6 L199.7,220.1 L199.8,221.2 L199.3,222.0 L198.1,222.7 L196.7,223.4 L195.6,224.3 L195.0,225.4 L195.3,226.4 L196.4,227.4 L198.1,228.2 L199.8,228.8 L200.8,229.6 L201.0,230.6 L200.5,231.7 L199.4,233.1 L197.9,234.5 L196.5,235.8 L195.8,237.0 L195.7,238.0 L196.5,238.8 L197.8,239.6 L199.0,240.5 L199.9,241.4 L200.0,242.4 L199.5,243.5 L198.6,244.6 L197.4,245.9 L196.5,247.1 L196.3,248.4 L197.0,249.4 L198.5,250.2 L200.5,250.7 L202.4,250.9 L203.9,251.1 L204.7,251.7 L204.8,252.8 L204.5,254.2 L204.0,255.9 L203.9,257.4 L204.3,258.6 L205.3,259.2 L206.7,259.6 L208.3,259.9 L209.8,260.4 L210.9,261.3 L211.0,262.5 L210.1,263.9 L208.5,264.9 L206.8,265.5 L205.3,265.8 L204.6,266.2 L204.4,266.9 L204.7,268.1 L205.2,269.7 L205.4,271.4 L205.2,272.8 L204.5,273.7 L203.2,274.0 L201.5,274.1 L199.9,274.4 L198.6,275.0 L198.1,276.0 L198.5,277.5 L199.7,279.1 L201.4,280.4 L202.8,281.6 L203.5,282.6 L203.3,283.7 L202.2,284.6 L200.5,285.4 L198.7,286.0 L197.4,286.7 L196.9,287.3 L196.8,288.2 L197.1,289.6 L197.4,291.2 L197.3,292.6 L196.8,293.6 L195.5,293.9 L193.5,293.7 L191.3,293.2 L189.4,293.0 L187.9,293.2 L187.0,294.2 L187.0,295.7 L187.4,297.4 L188.1,299.2 L188.7,300.7 L188.7,301.9 L187.9,302.6 L186.7,303.1 L185.3,303.7 L183.9,304.2 L183.1,305.1 L183.1,306.2 L183.8,307.6 L185.1,309.2 L186.4,310.8 L187.1,312.2 L187.1,313.4 L186.1,314.1 L184.2,314.4 L182.1,314.6 L180.2,315.0 L179.0,315.6 L178.5,316.5 L178.9,317.9 L179.5,319.4 L180.1,320.9 L180.1,322.1 L179.5,322.9 L178.1,323.3 L176.4,323.5 L174.5,323.7 L172.8,323.9 L171.8,324.7 L171.5,325.9 L172.2,327.5 L173.3,329.2 L174.4,330.9 L175.1,332.2 L175.4,333.3 L174.8,334.1 L173.5,334.8 L172.0,335.7 L171.0,336.6 L170.6,337.8 L171.1,338.9 L172.3,340.0 L174.0,341.0 L175.7,342.0 L176.9,342.9 L177.0,344.1 L176.3,345.3 L175.0,346.7 L173.3,348.0 L172.0,349.1 L171.4,349.8" fill="none" stroke="#000" stroke-width="1.3" stroke-linejoin="round"/>
<path d="M47.6,289.1 L48.6,288.8 L49.8,288.6 L50.5,289.0 L50.9,290.1 L51.0,291.5 L51.6,292.5 L52.9,292.8 L54.6,292.8 L56.2,293.1 L57.3,293.9 L57.6,295.3 L57.3,297.0 L57.5,298.3 L58.0,299.0 L59.0,299.5 L60.0,300.3 L60.2,301.3 L59.6,302.5 L58.7,303.8 L58.0,305.0 L58.2,306.0 L59.3,307.0 L60.4,307.9 L61.1,308.9 L60.9,310.0 L60.3,311.3 L59.8,312.5 L60.3,313.4 L61.5,314.2 L62.9,314.7 L63.7,315.3 L63.8,316.4 L63.4,317.7 L63.2,319.1 L63.5,320.2 L64.4,320.8 L65.7,321.1 L66.8,321.6 L67.1,322.7 L67.0,324.1 L66.9,325.5 L67.3,326.4 L68.3,326.8 L69.7,327.0 L71.0,327.3 L71.5,328.1 L71.4,329.4 L71.2,330.6 L71.4,331.6 L72.5,332.2 L73.9,332.8 L74.9,333.5 L75.0,334.6 L74.2,335.8 L73.3,337.1 L72.9,338.2 L73.4,339.1 L74.5,339.9 L75.3,340.9 L75.4,341.8 L74.5,342.9 L73.5,343.9 L73.1,344.9 L73.7,345.8 L75.1,346.7 L76.2,347.7 L76.5,348.7 L75.8,349.7 L74.8,350.7 L74.3,351.7 L74.6,352.9 L75.7,354.1 L76.5,355.3 L76.2,356.5 L75.0,357.3 L73.6,358.0 L72.8,358.9 L72.8,359.9 L73.3,361.0 L73.9,362.3 L73.7,363.4 L72.8,364.3 L71.5,365.0 L70.6,366.0 L70.8,367.1 L71.7,368.6 L72.5,369.9 L72.5,371.1 L71.8,372.0 L70.5,372.7 L69.7,373.6 L69.7,374.6 L70.3,375.8 L70.8,376.9 L70.6,378.0 L69.4,378.9 L67.8,379.7 L66.8,380.6 L66.7,381.7 L67.3,383.0 L67.8,384.2 L67.4,385.2 L66.4,386.0 L65.3,386.7 L64.9,387.7 L65.5,388.8 L66.5,389.9 L67.3,390.9 L67.3,391.8 L66.4,392.8 L65.5,394.0 L65.3,395.2 L65.9,396.3 L67.0,397.3 L67.8,398.2 L67.7,399.4 L66.9,400.6 L66.0,401.6 L65.6,402.4 L66.1,403.3 L67.0,404.3 L67.1,405.6 L66.3,406.4 L65.0,406.8 L63.8,407.2 L63.1,408.0 L62.9,409.3 L62.9,410.8 L62.6,412.1 L61.7,412.9 L60.5,413.1 L59.2,413.5 L58.2,414.3 L57.9,415.6 L57.9,417.1 L57.6,418.2 L56.4,418.8 L54.7,419.2 L53.4,419.9 L53.0,421.0 L53.7,422.0 L54.8,423.1 L55.5,424.0 L55.7,425.2 L55.7,426.6 L56.0,427.8 L57.0,428.3 L58.4,428.1" fill="none" stroke="#000" stroke-width="1.5" stroke-linejoin="round"/>
<path d="M-0.0,173.5 L1.3,172.9 L2.4,173.2 L3.0,174.7 L3.6,176.3 L4.8,176.7 L6.3,176.4 L7.0,177.1 L7.1,178.9 L7.5,180.2 L8.8,180.1 L10.2,179.6 L11.2,180.1 L11.8,181.3 L12.6,182.0 L14.0,181.5 L15.6,180.8 L16.5,181.5 L16.9,183.2 L17.6,184.1 L19.0,183.9 L20.4,184.0 L21.0,185.0 L21.3,186.6 L22.0,187.6 L23.4,187.5 L24.9,187.0 L25.8,187.7 L26.2,189.0 L27.1,189.7 L28.5,189.6 L29.8,189.3 L30.5,190.2 L30.9,191.8 L31.9,192.5 L32.9,191.8 L33.9,191.3 L34.8,192.0 L35.9,193.0 L37.0,193.2 L37.9,192.1 L38.9,191.1 L40.0,191.3 L41.1,192.1 L42.3,192.2 L43.5,191.2 L44.8,190.4 L46.0,191.0 L46.9,192.1 L47.8,192.3 L48.5,191.6" fill="none" stroke="#000" stroke-width="1.8" stroke-linejoin="round"/>
</g>
<rect x="0.6" y="41.7" width="1022.8" height="718.9" fill="none" stroke="#666" stroke-width="1.1"/>
<text x="14.6" y="18.75" font-size="20" font-weight="bold" textLength="429" lengthAdjust="spacingAndGlyphs">6-10 Day Precipitation Probability Outlook (%)</text>
<text x="14.6" y="36.6" font-size="12.8" font-weight="bold" textLength="256.8" lengthAdjust="spacingAndGlyphs">Valid: Mon 2026-02-23 to Fri 2026-02-27</text>
<text x="850.4" y="37.2" font-size="12.8" font-weight="bold" textLength="158.6" lengthAdjust="spacingAndGlyphs">Init: Tue 2026-02-17 CPC</text>
<text x="14.6" y="755.4" font-size="13.6" font-weight="bold" textLength="172.5" lengthAdjust="spacingAndGlyphs">www.pivotalweather.com</text>
<rect x="727.1" y="729" width="5.1" height="26.8" fill="#000"/>
<circle cx="737" cy="738.55" r="7.3" fill="none" stroke="#000" stroke-width="5"/>
<circle cx="754.6" cy="721.8" r="3.5" fill="#000"/>
<rect x="751.7" y="729.6" width="5.9" height="18.3" fill="#000"/>
<path d="M758.8,729.6 L765.3,729.6 L769.5,741.3 L773.7,729.6 L780.3,729.6 L773.6,747.9 L765.4,747.9 Z" fill="#000"/>
<path d="M789.7,728.3 L790.4,725.2 L795.9,725.2 L796.5,728.3 L796.8,728.5 L799.5,726.7 L803.4,730.6 L801.6,733.3 L801.8,733.6 L804.9,734.2 L804.9,739.8 L801.8,740.4 L801.6,740.7 L803.4,743.4 L799.5,747.3 L796.8,745.5 L796.5,745.7 L795.9,748.8 L790.4,748.8 L789.7,745.7 L789.4,745.5 L786.7,747.3 L782.8,743.4 L784.6,740.7 L784.4,740.4 L781.3,739.8 L781.3,734.2 L784.4,733.6 L784.6,733.3 L782.8,730.6 L786.7,726.7 L789.4,728.5 Z M788.80,737.00 a4.3,4.3 0 1,0 8.6,0 a4.3,4.3 0 1,0 -8.6,0 Z" fill="#000" fill-rule="evenodd"/>
<rect x="810.2" y="723.3" width="5" height="24.6" fill="#000"/><rect x="807.4" y="729.6" width="10.6" height="4.3" fill="#000"/>
<circle cx="830.4" cy="738.5" r="7.25" fill="none" stroke="#000" stroke-width="4.9"/><rect x="835.2" y="729.2" width="5" height="18.7" fill="#000"/>
<rect x="846.1" y="718.6" width="5.9" height="29.3" fill="#000"/>
<path d="M865.1,728.4 L871.3,728.4 L874.2,739.6 L879.6,730.6 L884.4,730.6 L889.8,739.6 L890.6,728.4 L896.7,728.4 L890.9,746.8 L885,746.8 L882,738.5 L876.8,746.8 L871,746.8 Z" fill="#000"/>
<path d="M915.30,737.60 A7.25,7.25 0 1,0 913.76,742.06" fill="none" stroke="#000" stroke-width="4.90"/><rect x="898.85" y="735.30" width="18.90" height="3.4" fill="#000"/>
<circle cx="931.1" cy="737.4" r="7.25" fill="none" stroke="#000" stroke-width="4.9"/><rect x="935.7" y="727.5" width="5.1" height="19.7" fill="#000"/>
<rect x="947.6" y="722.4" width="5.1" height="24.8" fill="#000"/><rect x="945" y="729" width="10.3" height="3.7" fill="#000"/>
<rect x="959.5" y="717.7" width="5.2" height="29" fill="#000"/><path d="M962.1,746.7 L962.1,737 A6.7,6.7 0 0,1 975.5,737 L975.5,746.7" fill="none" stroke="#000" stroke-width="5.2"/>
<path d="M999.35,737.40 A7.25,7.25 0 1,0 997.81,741.86" fill="none" stroke="#000" stroke-width="4.90"/><rect x="982.90" y="735.10" width="18.90" height="3.4" fill="#000"/>
<rect x="1006.6" y="727.5" width="5.2" height="19.2" fill="#000"/><path d="M1009.2,740 Q1009.2,730 1019.5,730.2" fill="none" stroke="#000" stroke-width="5.2"/>
<rect x="93.20" y="777.1" width="55.80" height="11.3" fill="#50292d"/>
<rect x="149.00" y="777.1" width="55.80" height="11.3" fill="#7c3f00"/>
<rect x="204.80" y="777.1" width="55.80" height="11.3" fill="#96463c"/>
<rect x="260.60" y="777.1" width="55.80" height="11.3" fill="#9e4b2b"/>
<rect x="316.40" y="777.1" width="55.80" height="11.3" fill="#bb6f35"/>
<rect x="372.20" y="777.1" width="55.80" height="11.3" fill="#dca550"/>
<rect x="428.00" y="777.1" width="55.80" height="11.3" fill="#f0d391"/>
<rect x="483.80" y="777.1" width="55.80" height="11.3" fill="#ffffff"/>
<rect x="539.60" y="777.1" width="55.80" height="11.3" fill="#b3d8a5"/>
<rect x="595.40" y="777.1" width="55.80" height="11.3" fill="#98cc84"/>
<rect x="651.20" y="777.1" width="55.80" height="11.3" fill="#4aad3f"/>
<rect x="707.00" y="777.1" width="55.80" height="11.3" fill="#3c7a5a"/>
<rect x="762.80" y="777.1" width="55.80" height="11.3" fill="#0a8a3f"/>
<rect x="818.60" y="777.1" width="55.80" height="11.3" fill="#2a5a42"/>
<rect x="874.40" y="777.1" width="55.80" height="11.3" fill="#2b5a1c"/>
<line x1="149.00" y1="777.1" x2="149.00" y2="788.4" stroke="rgba(0,0,0,0.35)" stroke-width="0.8"/>
<line x1="204.80" y1="777.1" x2="204.80" y2="788.4" stroke="rgba(0,0,0,0.35)" stroke-width="0.8"/>
<line x1="260.60" y1="777.1" x2="260.60" y2="788.4" stroke="rgba(0,0,0,0.35)" stroke-width="0.8"/>
<line x1="316.40" y1="777.1" x2="316.40" y2="788.4" stroke="rgba(0,0,0,0.35)" stroke-width="0.8"/>
<line x1="372.20" y1="777.1" x2="372.20" y2="788.4" stroke="rgba(0,0,0,0.35)" stroke-width="0.8"/>
<line x1="428.00" y1="777.1" x2="428.00" y2="788.4" stroke="rgba(0,0,0,0.35)" stroke-width="0.8"/>
<line x1="483.80" y1="777.1" x2="483.80" y2="788.4" stroke="rgba(0,0,0,0.35)" stroke-width="0.8"/>
<line x1="539.60" y1="777.1" x2="539.60" y2="788.4" stroke="rgba(0,0,0,0.35)" stroke-width="0.8"/>
<line x1="595.40" y1="777.1" x2="595.40" y2="788.4" stroke="rgba(0,0,0,0.35)" stroke-width="0.8"/>
<line x1="651.20" y1="777.1" x2="651.20" y2="788.4" stroke="rgba(0,0,0,0.35)" stroke-width="0.8"/>
<line x1="707.00" y1="777.1" x2="707.00" y2="788.4" stroke="rgba(0,0,0,0.35)" stroke-width="0.8"/>
<line x1="762.80" y1="777.1" x2="762.80" y2="788.4" stroke="rgba(0,0,0,0.35)" stroke-width="0.8"/>
<line x1="818.60" y1="777.1" x2="818.60" y2="788.4" stroke="rgba(0,0,0,0.35)" stroke-width="0.8"/>
<line x1="874.40" y1="777.1" x2="874.40" y2="788.4" stroke="rgba(0,0,0,0.35)" stroke-width="0.8"/>
<text x="149.00" y="774" text-anchor="middle" font-size="11.8" textLength="15.6" lengthAdjust="spacingAndGlyphs">90</text>
<text x="204.80" y="774" text-anchor="middle" font-size="11.8" textLength="15.6" lengthAdjust="spacingAndGlyphs">80</text>
<text x="260.60" y="774" text-anchor="middle" font-size="11.8" textLength="15.6" lengthAdjust="spacingAndGlyphs">70</text>
<text x="316.40" y="774" text-anchor="middle" font-size="11.8" textLength="15.6" lengthAdjust="spacingAndGlyphs">60</text>
<text x="372.20" y="774" text-anchor="middle" font-size="11.8" textLength="15.6" lengthAdjust="spacingAndGlyphs">50</text>
<text x="428.00" y="774" text-anchor="middle" font-size="11.8" textLength="15.6" lengthAdjust="spacingAndGlyphs">40</text>
<text x="483.80" y="774" text-anchor="middle" font-size="11.8" textLength="15.6" lengthAdjust="spacingAndGlyphs">33</text>
<text x="539.60" y="774" text-anchor="middle" font-size="11.8" textLength="15.6" lengthAdjust="spacingAndGlyphs">33</text>
<text x="595.40" y="774" text-anchor="middle" font-size="11.8" textLength="15.6" lengthAdjust="spacingAndGlyphs">40</text>
<text x="651.20" y="774" text-anchor="middle" font-size="11.8" textLength="15.6" lengthAdjust="spacingAndGlyphs">50</text>
<text x="707.00" y="774" text-anchor="middle" font-size="11.8" textLength="15.6" lengthAdjust="spacingAndGlyphs">60</text>
<text x="762.80" y="774" text-anchor="middle" font-size="11.8" textLength="15.6" lengthAdjust="spacingAndGlyphs">70</text>
<text x="818.60" y="774" text-anchor="middle" font-size="11.8" textLength="15.6" lengthAdjust="spacingAndGlyphs">80</text>
<text x="874.40" y="774" text-anchor="middle" font-size="11.8" textLength="15.6" lengthAdjust="spacingAndGlyphs">90</text>
<text x="14.7" y="786.5" font-size="10.6" textLength="72.3" lengthAdjust="spacingAndGlyphs">Below Normal</text>
<text x="936" y="786.5" font-size="10.6" textLength="73.6" lengthAdjust="spacingAndGlyphs">Above Normal</text>
</svg>
</body></html>
